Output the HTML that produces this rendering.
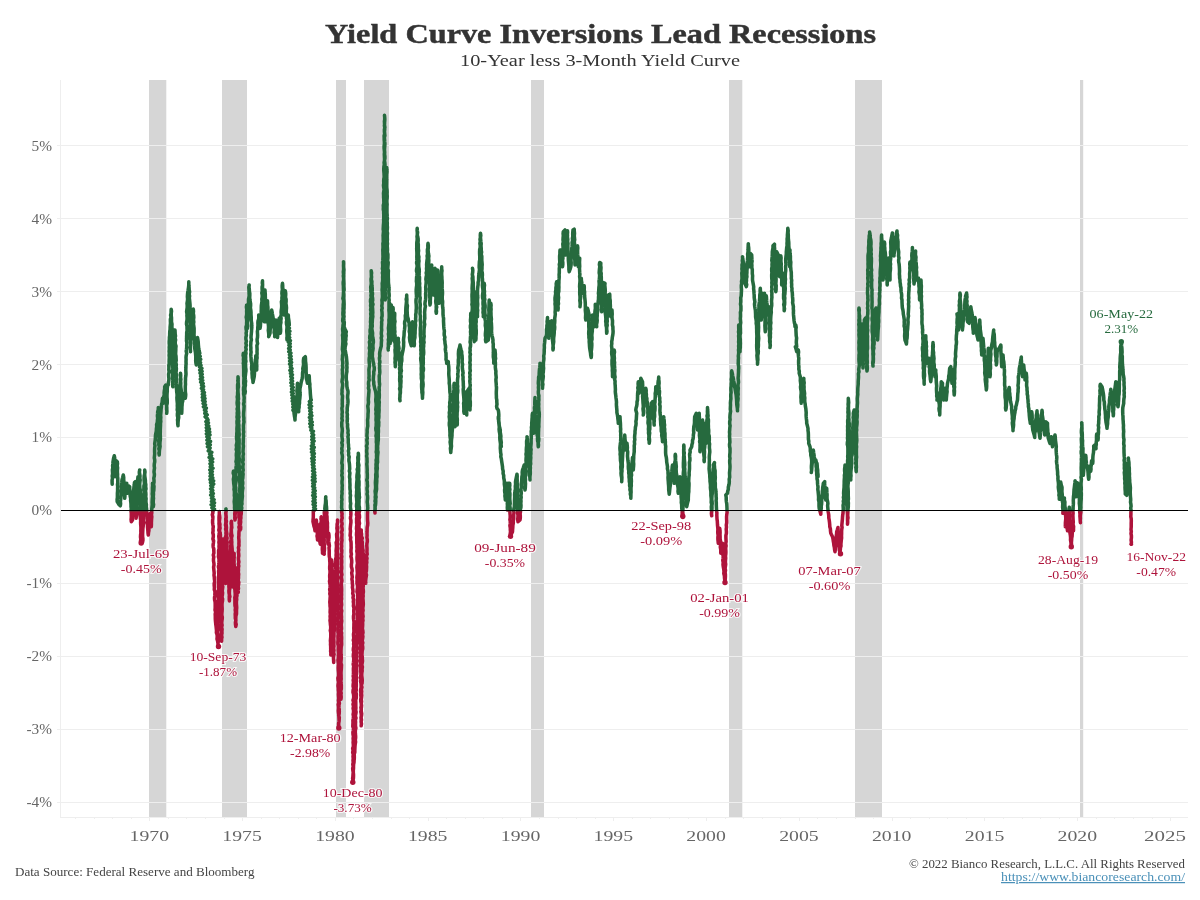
<!DOCTYPE html>
<html lang="en"><head><meta charset="utf-8"><title>Yield Curve Inversions Lead Recessions</title>
<style>html,body{margin:0;padding:0;background:#fff}svg{display:block}text{font-family:"Liberation Serif", serif}.ax{fill:#666;font-size:15.5px}.lab{font-size:12.6px;text-anchor:middle}.r{fill:#ae133b}.g{fill:#266a3e}</style></head><body>
<svg width="1200" height="900" viewBox="0 0 1200 900">
<rect width="1200" height="900" fill="#fff"/>
<g fill="#d6d6d6">
<rect x="149.0" y="80" width="17.3" height="737"/>
<rect x="222.0" y="80" width="25.0" height="737"/>
<rect x="336.0" y="80" width="10.0" height="737"/>
<rect x="364.0" y="80" width="25.0" height="737"/>
<rect x="531.0" y="80" width="13.0" height="737"/>
<rect x="729.0" y="80" width="13.3" height="737"/>
<rect x="855.0" y="80" width="27.0" height="737"/>
<rect x="1080.0" y="80" width="3.2" height="737"/>
</g>
<g stroke="#eeeeee" stroke-width="1" shape-rendering="crispEdges">
<line x1="57" y1="802.5" x2="1188" y2="802.5"/>
<line x1="57" y1="729.5" x2="1188" y2="729.5"/>
<line x1="57" y1="656.5" x2="1188" y2="656.5"/>
<line x1="57" y1="583.5" x2="1188" y2="583.5"/>
<line x1="57" y1="437.5" x2="1188" y2="437.5"/>
<line x1="57" y1="364.5" x2="1188" y2="364.5"/>
<line x1="57" y1="291.5" x2="1188" y2="291.5"/>
<line x1="57" y1="218.5" x2="1188" y2="218.5"/>
<line x1="57" y1="145.5" x2="1188" y2="145.5"/>
<line x1="60.5" y1="80" x2="60.5" y2="817"/>
<line x1="60" y1="817.5" x2="1188" y2="817.5"/>
<line x1="75.5" y1="817" x2="75.5" y2="819"/>
<line x1="94.5" y1="817" x2="94.5" y2="819"/>
<line x1="112.5" y1="817" x2="112.5" y2="819"/>
<line x1="131.5" y1="817" x2="131.5" y2="819"/>
<line x1="149.5" y1="817" x2="149.5" y2="821"/>
<line x1="168.5" y1="817" x2="168.5" y2="819"/>
<line x1="186.5" y1="817" x2="186.5" y2="819"/>
<line x1="205.5" y1="817" x2="205.5" y2="819"/>
<line x1="224.5" y1="817" x2="224.5" y2="819"/>
<line x1="242.5" y1="817" x2="242.5" y2="821"/>
<line x1="261.5" y1="817" x2="261.5" y2="819"/>
<line x1="279.5" y1="817" x2="279.5" y2="819"/>
<line x1="298.5" y1="817" x2="298.5" y2="819"/>
<line x1="316.5" y1="817" x2="316.5" y2="819"/>
<line x1="335.5" y1="817" x2="335.5" y2="821"/>
<line x1="353.5" y1="817" x2="353.5" y2="819"/>
<line x1="372.5" y1="817" x2="372.5" y2="819"/>
<line x1="391.5" y1="817" x2="391.5" y2="819"/>
<line x1="409.5" y1="817" x2="409.5" y2="819"/>
<line x1="428.5" y1="817" x2="428.5" y2="821"/>
<line x1="446.5" y1="817" x2="446.5" y2="819"/>
<line x1="465.5" y1="817" x2="465.5" y2="819"/>
<line x1="483.5" y1="817" x2="483.5" y2="819"/>
<line x1="502.5" y1="817" x2="502.5" y2="819"/>
<line x1="520.5" y1="817" x2="520.5" y2="821"/>
<line x1="539.5" y1="817" x2="539.5" y2="819"/>
<line x1="558.5" y1="817" x2="558.5" y2="819"/>
<line x1="576.5" y1="817" x2="576.5" y2="819"/>
<line x1="595.5" y1="817" x2="595.5" y2="819"/>
<line x1="613.5" y1="817" x2="613.5" y2="821"/>
<line x1="632.5" y1="817" x2="632.5" y2="819"/>
<line x1="650.5" y1="817" x2="650.5" y2="819"/>
<line x1="669.5" y1="817" x2="669.5" y2="819"/>
<line x1="688.5" y1="817" x2="688.5" y2="819"/>
<line x1="706.5" y1="817" x2="706.5" y2="821"/>
<line x1="725.5" y1="817" x2="725.5" y2="819"/>
<line x1="743.5" y1="817" x2="743.5" y2="819"/>
<line x1="762.5" y1="817" x2="762.5" y2="819"/>
<line x1="780.5" y1="817" x2="780.5" y2="819"/>
<line x1="799.5" y1="817" x2="799.5" y2="821"/>
<line x1="817.5" y1="817" x2="817.5" y2="819"/>
<line x1="836.5" y1="817" x2="836.5" y2="819"/>
<line x1="855.5" y1="817" x2="855.5" y2="819"/>
<line x1="873.5" y1="817" x2="873.5" y2="819"/>
<line x1="892.5" y1="817" x2="892.5" y2="821"/>
<line x1="910.5" y1="817" x2="910.5" y2="819"/>
<line x1="929.5" y1="817" x2="929.5" y2="819"/>
<line x1="947.5" y1="817" x2="947.5" y2="819"/>
<line x1="966.5" y1="817" x2="966.5" y2="819"/>
<line x1="984.5" y1="817" x2="984.5" y2="821"/>
<line x1="1003.5" y1="817" x2="1003.5" y2="819"/>
<line x1="1022.5" y1="817" x2="1022.5" y2="819"/>
<line x1="1040.5" y1="817" x2="1040.5" y2="819"/>
<line x1="1059.5" y1="817" x2="1059.5" y2="819"/>
<line x1="1077.5" y1="817" x2="1077.5" y2="821"/>
<line x1="1096.5" y1="817" x2="1096.5" y2="819"/>
<line x1="1114.5" y1="817" x2="1114.5" y2="819"/>
<line x1="1133.5" y1="817" x2="1133.5" y2="819"/>
<line x1="1152.5" y1="817" x2="1152.5" y2="819"/>
<line x1="1170.5" y1="817" x2="1170.5" y2="821"/>
</g>
<defs><linearGradient id="gr" gradientUnits="userSpaceOnUse" x1="0" y1="0" x2="0" y2="900"><stop offset="0" stop-color="#266a3e"/><stop offset="0.56644" stop-color="#266a3e"/><stop offset="0.56911" stop-color="#ae133b"/><stop offset="1" stop-color="#ae133b"/></linearGradient></defs>
<path d="M112.2 484.2 L112.1 482.1 L112.1 480.1 L112.5 478.0 L112.2 476.0 L112.6 473.9 L112.5 471.9 L112.4 469.8 L112.8 467.8 L112.6 465.7 L112.9 463.7 L113.0 461.7 L113.5 458.7 L114.3 455.8 L114.7 457.9 L114.6 460.0 L114.4 462.1 L115.0 464.2 L115.0 466.2 L114.9 468.3 L114.8 470.4 L115.1 472.5 L115.3 474.6 L115.3 476.7 L115.7 474.4 L115.4 472.1 L116.0 469.9 L115.8 467.6 L115.9 465.3 L116.0 463.1 L116.3 460.8 L117.3 461.7 L117.5 463.7 L117.2 465.8 L117.6 467.9 L117.4 470.0 L117.4 472.1 L117.6 474.2 L117.5 476.3 L117.8 478.3 L117.8 480.4 L117.8 482.5 L117.5 484.6 L117.7 486.7 L117.6 488.8 L117.6 491.0 L117.4 493.1 L117.4 495.2 L117.4 497.4 L117.1 499.5 L117.2 501.7 L118.7 504.2 L120.3 505.8 L120.6 503.7 L120.4 501.6 L120.7 499.4 L120.8 497.3 L121.1 495.2 L121.1 493.1 L121.0 490.9 L121.5 488.8 L121.3 486.7 L121.4 484.4 L121.8 482.2 L122.0 480.0 L122.7 477.5 L123.3 475.0 L123.7 477.3 L123.7 479.7 L124.0 482.0 L123.9 484.3 L124.2 486.7 L124.1 489.0 L124.3 491.3 L124.3 493.7 L124.6 496.0 L124.7 498.3 L124.9 496.3 L124.9 494.3 L125.0 492.3 L125.0 490.2 L125.3 488.2 L125.5 486.2 L125.3 484.2 L126.7 483.3 L126.8 485.3 L126.9 487.3 L127.3 489.3 L127.3 491.3 L127.5 493.3 L127.8 490.8 L128.2 488.4 L128.3 485.8 L129.7 486.7 L129.7 488.7 L130.0 490.7 L130.1 492.7 L130.1 494.7 L130.3 496.7 L130.7 498.7 L130.6 500.7 L130.9 502.7 L131.0 504.7 L131.0 506.7 L131.3 508.8 L131.0 511.0 L131.3 513.1 L131.3 515.2 L131.3 517.4 L131.1 519.5 L131.3 521.7 L132.5 520.0 L132.3 517.9 L132.6 515.8 L132.7 513.8 L133.0 511.7 L133.0 509.6 L133.1 507.5 L132.9 505.4 L133.0 503.3 L133.0 501.2 L133.4 499.2 L133.5 497.1 L133.3 495.0 L133.4 492.9 L133.6 490.8 L133.8 488.7 L134.0 486.7 L134.3 484.6 L134.5 482.5 L135.3 481.7 L135.3 483.7 L135.5 485.7 L135.7 487.8 L135.5 489.8 L135.6 491.9 L135.5 493.9 L135.3 495.9 L135.5 498.0 L135.7 500.0 L135.6 502.0 L135.6 504.1 L136.0 506.1 L135.6 508.2 L135.7 510.2 L135.7 512.2 L135.7 514.3 L136.0 516.3 L136.0 518.3 L136.5 515.8 L137.0 513.3 L136.8 511.3 L137.2 509.3 L136.9 507.2 L137.0 505.2 L137.1 503.1 L137.1 501.1 L137.3 499.1 L137.2 497.0 L137.2 495.0 L137.3 493.0 L137.4 490.9 L137.6 488.9 L137.4 486.8 L138.0 484.8 L137.9 482.8 L137.7 480.7 L137.8 478.7 L138.0 476.7 L138.3 478.9 L138.5 481.1 L138.8 483.3 L138.6 485.6 L138.7 487.8 L139.2 490.0 L139.2 488.0 L139.3 486.0 L139.1 484.0 L139.1 482.0 L139.3 480.0 L139.3 478.0 L139.7 476.0 L139.4 474.0 L139.3 472.0 L139.7 470.0 L139.4 472.0 L139.7 474.0 L140.0 476.0 L139.8 478.0 L140.2 480.0 L139.9 482.0 L139.7 484.0 L139.8 486.0 L139.9 488.0 L140.3 490.0 L140.2 492.0 L140.4 494.0 L140.1 496.0 L140.3 498.0 L140.3 500.0 L140.2 502.1 L140.5 504.1 L140.6 506.2 L140.2 508.3 L140.2 510.3 L140.3 512.4 L140.3 514.4 L140.3 516.5 L140.4 518.6 L140.7 520.6 L140.6 522.7 L140.7 524.8 L140.9 526.8 L140.9 528.9 L140.8 531.0 L140.9 533.0 L140.6 535.1 L140.5 537.1 L140.8 539.2 L140.5 541.3 L140.8 543.3 L142.5 542.5 L142.9 540.5 L142.9 538.4 L142.6 536.4 L142.6 534.3 L142.7 532.3 L142.8 530.2 L142.9 528.2 L143.2 526.1 L143.4 524.1 L143.5 522.1 L143.3 520.0 L143.4 518.0 L143.5 516.0 L143.6 514.0 L143.2 512.0 L143.6 510.0 L143.8 508.0 L143.7 506.0 L143.8 504.0 L143.6 502.0 L143.5 500.0 L143.9 498.0 L143.6 496.0 L143.9 494.0 L144.1 492.0 L143.8 490.0 L143.9 488.0 L143.9 486.0 L144.4 484.0 L144.3 482.0 L144.1 480.0 L144.1 478.0 L144.2 476.0 L144.7 474.0 L144.8 472.0 L144.7 470.0 L145.0 472.1 L144.7 474.2 L144.8 476.3 L145.1 478.3 L145.4 480.4 L145.4 482.5 L145.8 484.6 L145.7 486.7 L146.0 488.7 L145.5 490.7 L145.8 492.7 L145.9 494.7 L145.7 496.7 L146.1 498.7 L145.9 500.7 L146.0 502.7 L146.4 504.7 L146.3 506.7 L146.6 508.7 L146.7 510.7 L146.8 512.7 L146.7 514.7 L147.1 516.7 L147.1 518.7 L147.4 520.7 L147.0 522.7 L147.5 524.7 L147.5 526.7 L147.7 528.7 L147.9 530.8 L148.0 532.9 L148.3 535.0 L148.5 532.8 L148.9 530.6 L148.9 528.3 L149.1 526.1 L149.3 523.9 L149.5 521.7 L149.5 519.6 L149.9 517.5 L150.0 515.4 L150.3 513.3 L150.7 515.5 L150.5 517.8 L151.0 520.0 L151.0 522.2 L151.1 524.5 L151.3 526.7 L151.4 524.7 L151.4 522.7 L151.5 520.7 L151.6 518.7 L151.8 516.7 L151.5 514.7 L151.8 512.7 L151.7 510.7 L151.8 508.7 L152.0 506.7 L152.2 504.5 L152.1 502.4 L152.2 500.3 L152.3 498.2 L152.5 496.1 L152.2 493.9 L152.4 491.8 L152.4 489.7 L152.4 487.6 L152.6 485.5 L152.5 483.3 L152.6 485.5 L152.6 487.6 L152.7 489.7 L152.5 491.8 L152.8 493.9 L152.7 496.1 L152.8 498.2 L153.3 500.3 L153.1 502.4 L153.0 504.6 L153.3 506.7 L153.6 504.6 L153.2 502.6 L153.2 500.6 L153.5 498.5 L153.3 496.5 L153.5 494.4 L153.4 492.4 L153.8 490.4 L153.9 488.3 L154.0 486.3 L153.6 484.3 L154.0 482.2 L154.0 480.2 L153.8 478.1 L154.3 476.1 L154.4 474.1 L154.0 472.0 L154.2 470.0 L154.5 468.0 L154.2 466.0 L154.3 463.9 L154.7 461.9 L154.7 459.9 L154.3 457.9 L154.5 455.8 L154.7 453.8 L154.6 451.8 L154.6 449.8 L154.7 447.7 L155.0 445.7 L154.7 443.7 L155.0 441.7 L155.3 439.5 L155.4 437.4 L155.5 435.2 L155.9 433.1 L156.3 431.0 L156.4 428.8 L156.7 426.7 L156.6 424.5 L157.3 422.4 L157.4 420.3 L157.7 418.2 L157.4 416.0 L157.6 413.9 L157.7 411.7 L158.3 409.6 L158.3 407.5 L158.5 409.6 L158.6 411.6 L158.5 413.7 L158.2 415.8 L158.3 417.8 L158.7 419.9 L158.8 422.0 L158.4 424.0 L158.6 426.1 L158.6 428.2 L159.0 430.2 L159.0 432.3 L158.7 434.3 L158.9 436.4 L159.1 438.5 L158.7 440.5 L158.9 442.6 L158.8 444.7 L159.3 446.7 L158.8 448.8 L159.4 450.9 L158.9 452.9 L159.2 455.0 L159.3 452.9 L159.4 450.7 L159.7 448.6 L160.1 446.4 L159.9 444.3 L160.0 442.1 L160.3 440.0 L160.4 437.9 L160.3 435.9 L160.2 433.8 L160.3 431.8 L160.3 429.7 L160.4 427.7 L160.5 425.6 L160.5 423.6 L160.8 421.5 L160.6 419.5 L160.8 417.4 L160.6 415.4 L160.8 413.3 L161.0 411.2 L161.1 409.0 L161.4 406.9 L161.5 404.7 L162.1 402.6 L162.3 400.5 L162.5 398.3 L163.0 400.8 L163.3 403.3 L163.5 401.2 L163.9 399.2 L163.6 397.1 L164.2 395.0 L164.1 392.9 L164.3 390.8 L164.7 388.8 L164.7 386.7 L165.8 385.0 L166.0 387.0 L165.9 389.0 L165.9 391.1 L165.8 393.1 L166.2 395.1 L166.0 397.1 L166.1 399.2 L166.2 401.2 L166.4 403.2 L166.5 405.2 L166.8 407.3 L166.8 409.3 L166.9 411.3 L166.7 413.3 L166.9 411.3 L166.6 409.3 L166.6 407.3 L166.7 405.2 L167.2 403.2 L167.2 401.2 L167.2 399.2 L167.0 397.1 L167.0 395.1 L167.1 393.1 L167.3 391.1 L167.2 389.0 L167.4 387.0 L167.5 385.0 L168.3 385.0 L168.3 382.8 L168.8 380.7 L168.9 378.5 L168.7 376.3 L168.6 374.2 L169.1 372.0 L168.8 369.8 L168.9 367.7 L168.8 365.5 L169.2 363.3 L169.1 361.3 L169.2 359.3 L169.3 357.3 L169.1 355.3 L169.3 353.3 L169.1 351.3 L169.3 349.3 L169.2 347.3 L169.4 345.3 L169.2 343.3 L169.2 341.3 L169.4 339.3 L169.4 337.3 L169.7 335.3 L169.7 333.3 L169.8 331.3 L170.1 329.3 L170.1 327.3 L170.3 325.3 L170.5 323.3 L170.4 321.2 L170.4 319.2 L171.0 317.2 L170.6 315.2 L171.1 313.2 L171.1 311.2 L171.2 309.2 L171.5 311.3 L171.2 313.4 L171.2 315.6 L171.5 317.7 L171.5 319.8 L171.5 322.0 L172.0 324.1 L171.9 326.2 L172.0 328.3 L172.0 330.3 L171.9 332.4 L171.9 334.4 L171.9 336.4 L172.1 338.4 L171.9 340.4 L172.1 342.4 L172.1 344.4 L172.4 346.4 L172.6 348.4 L172.5 350.5 L172.4 352.5 L172.6 354.5 L172.2 356.5 L172.4 358.5 L172.4 360.5 L172.4 362.5 L172.4 364.5 L172.6 366.6 L172.9 368.6 L172.4 370.6 L172.5 372.6 L172.7 374.6 L172.7 376.6 L172.6 378.6 L173.0 380.6 L172.6 382.6 L173.0 384.7 L172.8 386.7 L172.6 384.6 L172.7 382.6 L173.0 380.6 L172.7 378.6 L173.1 376.5 L173.2 374.5 L173.0 372.5 L172.9 370.5 L173.0 368.5 L173.1 366.4 L173.2 364.4 L173.1 362.4 L173.2 360.4 L172.8 358.3 L172.9 356.3 L173.0 354.3 L173.3 352.3 L173.0 350.2 L173.2 348.2 L172.9 346.2 L172.9 344.2 L173.1 342.1 L173.3 340.1 L173.4 338.1 L173.4 336.1 L173.2 334.0 L173.3 332.0 L173.3 330.0 L175.0 330.0 L175.1 332.0 L175.2 334.0 L175.5 336.0 L175.1 338.0 L175.6 340.0 L175.2 342.0 L175.3 344.0 L176.0 346.0 L175.8 348.0 L175.8 350.0 L175.7 352.1 L175.6 354.2 L176.0 356.2 L176.1 358.3 L176.2 360.4 L175.8 362.5 L176.3 364.6 L176.1 366.7 L176.4 368.7 L176.2 370.8 L176.0 372.9 L176.6 375.0 L176.2 377.1 L176.4 379.2 L176.2 381.3 L176.4 383.3 L176.7 385.4 L176.3 387.5 L176.6 389.6 L176.7 391.7 L177.0 393.7 L177.1 395.7 L176.9 397.7 L177.0 399.7 L177.2 401.7 L177.4 403.7 L177.3 405.7 L177.4 407.7 L177.2 409.8 L177.7 411.8 L177.4 413.8 L177.4 415.8 L177.9 417.8 L177.5 419.8 L177.7 421.8 L177.7 423.8 L178.0 425.8 L178.0 423.8 L178.1 421.7 L178.3 419.7 L178.7 417.7 L178.6 415.6 L178.6 413.6 L178.7 411.5 L178.7 409.5 L178.7 407.4 L178.8 405.4 L179.2 403.3 L179.5 401.3 L179.2 399.3 L179.7 397.3 L179.4 395.3 L179.5 393.3 L179.7 391.3 L179.6 389.3 L179.8 387.3 L180.2 385.3 L180.3 383.3 L180.3 381.3 L180.3 379.3 L180.6 377.3 L180.7 375.3 L180.5 373.3 L180.5 375.3 L180.5 377.3 L180.9 379.3 L180.6 381.3 L180.8 383.3 L180.7 385.3 L180.8 387.3 L181.1 389.3 L181.3 391.3 L180.8 393.3 L181.4 395.3 L181.2 397.3 L181.4 399.3 L181.4 401.3 L181.2 403.3 L181.1 405.3 L181.6 407.3 L181.5 409.3 L181.7 411.3 L181.7 413.3 L181.8 411.3 L181.9 409.2 L181.9 407.1 L182.1 405.0 L182.2 402.9 L182.8 400.8 L182.7 398.7 L182.8 396.7 L184.2 393.3 L184.8 395.8 L185.3 398.3 L185.6 396.3 L185.7 394.3 L185.4 392.3 L185.3 390.2 L185.3 388.2 L185.3 386.2 L185.5 384.2 L185.4 382.1 L185.5 380.1 L185.5 378.1 L185.8 376.1 L186.0 374.1 L185.9 372.0 L185.8 370.0 L185.9 367.9 L185.9 365.8 L186.1 363.8 L186.0 361.7 L186.1 359.6 L186.0 357.5 L186.2 355.4 L186.7 353.3 L186.2 351.2 L186.5 349.2 L186.7 347.1 L186.7 345.0 L186.9 342.9 L186.5 340.8 L186.6 338.7 L186.6 336.7 L186.7 334.6 L186.7 332.5 L187.1 330.4 L187.0 328.3 L187.0 326.3 L186.5 324.2 L186.6 322.1 L187.0 320.0 L187.1 317.9 L186.9 315.8 L187.0 313.8 L186.6 311.7 L186.9 309.6 L187.2 307.5 L187.2 305.4 L187.0 303.3 L187.4 301.2 L187.6 299.0 L187.4 296.8 L187.5 294.6 L187.7 292.5 L188.1 290.3 L188.4 288.2 L188.7 286.0 L188.8 283.8 L188.8 281.7 L188.8 283.7 L188.9 285.8 L189.1 287.8 L189.2 289.9 L189.6 291.9 L189.2 294.0 L189.6 296.0 L189.3 298.1 L189.6 300.1 L189.8 302.2 L190.0 304.2 L190.1 306.3 L190.0 308.3 L189.9 310.4 L189.9 312.5 L190.3 314.5 L190.4 316.6 L190.1 318.7 L190.1 320.7 L190.2 322.8 L190.4 324.8 L190.2 326.9 L190.5 329.0 L190.4 331.0 L190.3 333.1 L190.0 335.2 L190.2 337.2 L190.1 339.3 L190.4 341.3 L190.6 343.4 L190.6 345.5 L190.2 347.5 L190.4 349.6 L190.5 351.7 L190.4 349.6 L190.3 347.5 L190.7 345.4 L190.8 343.3 L190.7 341.2 L190.7 339.2 L191.0 337.1 L191.2 335.0 L190.9 332.9 L190.8 330.8 L191.0 328.7 L191.2 326.7 L191.4 324.6 L191.1 322.5 L191.6 320.4 L191.6 318.3 L191.5 316.3 L191.4 314.2 L191.9 312.1 L191.7 310.0 L193.3 309.2 L193.5 311.3 L193.3 313.4 L193.7 315.5 L193.8 317.6 L193.5 319.7 L193.8 321.9 L193.5 324.0 L193.8 326.1 L194.1 328.2 L194.1 330.3 L194.1 332.4 L194.0 334.6 L194.2 336.7 L194.1 338.9 L194.6 341.1 L194.6 343.3 L194.9 345.5 L194.6 347.8 L195.0 350.0 L195.4 352.1 L195.6 354.3 L195.8 356.4 L195.8 358.6 L195.7 360.7 L195.9 362.9 L196.3 365.0 L196.6 362.9 L196.8 360.8 L196.9 358.7 L196.6 356.5 L196.6 354.4 L197.1 352.3 L197.1 350.2 L196.8 348.1 L197.2 346.0 L197.2 343.8 L197.2 341.7 L197.3 339.6 L197.5 337.5 L197.9 339.7 L198.2 341.8 L198.3 344.0 L198.5 346.2 L198.7 348.3 L199.1 350.8 L199.8 353.3 L198.1 355.0 L200.2 356.3 L198.4 358.0 L200.7 359.3 L199.1 361.0 L200.5 362.4 L198.8 364.1 L201.0 365.4 L199.6 367.0 L201.9 368.3 L199.7 370.1 L202.1 371.4 L200.0 373.1 L202.2 374.4 L200.6 376.1 L202.5 377.5 L200.3 379.2 L202.7 380.5 L200.7 382.2 L203.2 383.5 L201.6 385.2 L203.6 386.5 L201.4 388.3 L203.5 389.6 L202.3 391.3 L204.4 392.6 L202.3 394.4 L204.6 395.6 L202.3 397.4 L205.0 398.6 L202.6 400.5 L205.1 401.7 L203.1 403.5 L205.5 404.9 L203.4 406.8 L206.3 408.2 L204.5 410.1 L206.1 411.6 L204.8 413.4 L207.2 414.8 L205.1 416.8 L207.4 418.6 L206.7 420.8 L206.8 420.8 L208.0 419.9 L205.9 421.6 L208.4 422.9 L206.3 424.6 L208.8 426.0 L206.3 427.7 L209.4 429.0 L206.4 430.7 L209.7 432.0 L206.4 433.8 L210.0 435.0 L206.9 436.8 L209.3 438.3 L206.9 440.1 L210.5 441.5 L207.1 443.5 L210.3 444.9 L207.5 446.8 L210.1 448.0 L208.3 450.9 L211.8 452.4 L209.6 454.1 L211.5 455.6 L209.1 457.4 L212.7 458.8 L210.1 460.5 L212.6 462.0 L210.0 463.7 L212.1 465.2 L210.3 466.9 L213.0 468.3 L209.8 470.0 L212.3 471.5 L210.2 473.2 L212.4 474.7 L210.1 476.3 L212.8 477.8 L210.0 479.5 L213.6 480.9 L210.5 482.6 L213.7 484.1 L210.8 485.7 L212.7 487.2 L210.6 488.9 L212.8 490.4 L211.1 492.0 L213.3 493.5 L210.7 495.1 L213.0 496.6 L211.5 498.3 L214.1 499.7 L211.5 501.5 L214.5 502.8 L211.1 504.7 L214.1 506.0 L211.9 507.8 L214.5 509.2 L213.3 510.8 L212.6 510.7 L212.9 512.7 L212.3 514.7 L212.9 516.7 L212.8 518.7 L212.6 520.7 L212.6 522.8 L212.9 524.8 L213.3 526.8 L213.0 528.8 L213.1 530.8 L212.8 532.8 L213.3 534.8 L213.3 536.8 L212.9 538.9 L213.6 540.9 L213.4 542.9 L213.1 544.9 L213.2 546.9 L213.8 548.9 L213.8 550.9 L213.9 553.0 L213.3 555.0 L213.8 557.0 L213.5 559.0 L213.5 561.0 L213.9 563.0 L214.0 565.0 L213.6 567.1 L213.8 569.1 L214.0 571.1 L214.2 573.1 L214.0 575.2 L214.3 577.2 L214.4 579.3 L214.7 581.3 L214.2 583.4 L214.2 585.4 L214.4 587.5 L214.3 589.6 L215.0 591.6 L214.9 593.6 L214.8 595.7 L214.5 597.8 L214.6 599.8 L215.1 601.8 L215.2 603.9 L215.2 605.9 L215.2 608.0 L215.0 610.1 L215.6 612.1 L215.2 614.2 L215.3 616.2 L215.3 618.3 L215.4 620.3 L215.6 622.4 L215.8 624.4 L216.1 626.5 L216.3 628.5 L216.5 630.6 L216.4 632.7 L217.1 634.7 L217.2 636.8 L217.0 638.9 L217.6 640.9 L217.9 643.0 L218.2 645.0 L218.1 647.1 L218.1 645.1 L218.0 643.1 L218.4 641.1 L218.4 639.1 L218.5 637.1 L218.0 635.1 L217.9 633.1 L217.9 631.1 L218.2 629.1 L218.4 627.1 L218.2 625.1 L218.0 623.1 L218.2 621.1 L218.3 619.1 L218.4 617.1 L218.5 615.1 L218.5 613.1 L218.4 611.1 L218.1 609.1 L218.6 607.1 L218.2 605.1 L218.4 603.1 L218.3 601.1 L218.6 599.1 L218.2 597.1 L218.3 595.1 L218.3 593.1 L218.2 591.1 L218.7 589.1 L218.5 587.1 L218.4 585.1 L218.4 583.1 L218.9 581.1 L218.5 579.1 L218.4 577.1 L218.8 575.1 L218.7 573.1 L218.6 571.1 L219.0 569.0 L218.4 567.0 L218.7 564.9 L218.9 562.9 L219.0 560.8 L219.0 558.8 L218.4 556.7 L218.6 554.7 L218.6 552.6 L218.6 550.6 L219.2 548.5 L219.0 546.5 L219.2 544.4 L218.9 542.3 L219.2 540.3 L219.0 538.2 L218.8 536.2 L219.2 534.1 L219.4 532.1 L218.8 530.0 L219.2 528.0 L219.2 525.9 L219.0 523.9 L219.1 521.8 L219.0 519.8 L219.0 517.7 L219.1 515.7 L219.4 513.6 L219.3 511.6 L219.3 513.6 L219.7 515.7 L219.9 517.8 L219.7 519.9 L219.5 522.0 L220.0 524.1 L219.9 526.2 L220.1 528.2 L219.7 530.4 L220.0 532.4 L220.4 534.5 L220.4 536.6 L220.3 538.7 L220.3 540.8 L220.3 542.9 L220.7 545.0 L220.8 547.0 L220.5 549.1 L220.7 551.2 L220.7 553.3 L220.9 555.4 L220.9 557.4 L220.5 559.5 L220.9 561.5 L220.8 563.5 L221.0 565.6 L220.9 567.6 L220.6 569.7 L220.6 571.7 L221.0 573.8 L221.2 575.8 L220.8 577.9 L221.2 579.9 L221.4 582.0 L220.8 584.0 L221.1 586.0 L220.9 588.1 L221.2 590.1 L220.9 592.2 L221.2 594.2 L221.4 596.3 L221.5 598.3 L221.2 600.4 L221.1 602.4 L221.0 604.5 L221.6 606.5 L221.2 608.6 L221.4 610.6 L221.3 612.6 L221.6 614.7 L221.5 616.7 L221.4 618.8 L221.1 620.8 L221.7 622.9 L221.5 624.9 L221.3 627.0 L221.2 629.0 L221.7 631.1 L221.8 633.1 L221.2 635.1 L221.2 637.2 L221.6 639.2 L221.6 641.3 L221.3 639.3 L222.0 637.3 L221.6 635.2 L222.0 633.2 L221.9 631.2 L222.1 629.2 L221.6 627.2 L222.1 625.2 L221.7 623.1 L221.9 621.1 L222.2 619.1 L222.3 617.1 L221.8 615.1 L221.9 613.1 L222.1 611.0 L222.2 609.0 L222.1 607.0 L222.0 605.0 L222.1 603.0 L222.5 601.0 L222.6 598.9 L222.0 596.9 L222.4 594.9 L222.6 592.9 L222.2 590.9 L222.5 588.9 L222.8 586.8 L222.3 584.7 L222.6 582.6 L222.6 580.6 L222.7 578.5 L222.5 576.4 L222.6 574.3 L222.7 572.3 L222.6 570.2 L222.8 568.1 L222.6 566.1 L222.6 564.0 L222.4 561.9 L222.8 559.8 L222.7 557.8 L222.6 555.7 L222.9 553.6 L223.0 551.5 L222.8 549.5 L222.6 547.4 L222.8 545.3 L222.6 543.2 L222.6 541.2 L222.9 539.1 L223.0 541.1 L223.4 543.1 L223.3 545.2 L223.3 547.2 L223.8 549.2 L223.5 551.2 L224.0 553.2 L223.7 555.3 L223.8 557.3 L224.1 559.3 L224.5 561.3 L224.3 563.3 L224.5 565.3 L224.2 567.4 L224.9 569.4 L224.6 571.4 L224.6 573.4 L224.9 575.5 L224.9 577.5 L225.5 579.5 L225.1 581.5 L225.5 583.5 L225.5 581.5 L225.9 579.5 L225.8 577.5 L225.3 575.5 L225.8 573.4 L225.9 571.4 L225.3 569.4 L225.5 567.4 L225.8 565.4 L225.4 563.4 L225.9 561.3 L225.5 559.3 L225.9 557.3 L225.4 555.3 L225.7 553.3 L226.0 551.3 L225.5 549.2 L225.5 547.2 L225.7 545.2 L225.6 543.2 L225.4 541.2 L225.5 539.1 L225.5 537.1 L226.1 535.1 L225.9 533.1 L226.1 531.1 L225.6 529.1 L226.0 527.0 L225.5 525.0 L225.8 523.0 L225.9 521.0 L225.7 519.0 L226.1 517.0 L225.9 514.9 L225.9 512.9 L226.1 510.9 L225.9 508.9 L226.2 511.0 L225.7 513.1 L226.0 515.2 L226.2 517.2 L226.0 519.3 L226.4 521.4 L226.0 523.5 L226.3 525.6 L226.5 527.7 L226.3 529.8 L226.6 531.9 L226.9 534.0 L226.5 536.1 L227.1 538.1 L226.6 540.3 L227.1 542.3 L227.0 544.4 L226.9 546.4 L226.8 548.5 L227.1 550.5 L227.2 552.5 L227.5 554.5 L227.8 556.5 L227.9 558.5 L227.9 560.5 L227.6 562.6 L227.8 564.6 L227.9 566.6 L227.7 568.6 L228.3 570.6 L228.3 572.6 L228.2 574.6 L228.2 576.7 L228.7 578.7 L228.8 580.7 L228.7 582.7 L228.9 584.7 L228.9 586.8 L229.1 588.8 L228.9 590.8 L229.0 592.9 L229.4 594.9 L229.2 596.9 L229.4 598.9 L229.4 600.9 L229.2 598.8 L229.9 596.7 L229.4 594.5 L229.4 592.4 L229.5 590.3 L229.9 588.1 L230.1 586.0 L230.1 583.9 L229.9 581.7 L229.9 579.6 L229.8 577.5 L230.3 575.4 L230.3 573.2 L230.3 571.1 L230.3 569.0 L230.5 566.9 L230.4 564.9 L230.8 562.8 L230.7 560.7 L230.4 558.6 L230.9 556.6 L230.4 554.5 L230.7 552.4 L230.7 550.4 L230.6 548.3 L230.6 546.2 L231.1 544.1 L230.6 542.1 L231.0 540.0 L231.3 537.9 L230.8 535.8 L230.9 533.8 L231.2 531.7 L231.2 529.6 L231.4 527.5 L231.5 525.5 L231.1 523.4 L231.4 521.3 L231.6 523.4 L231.6 525.5 L231.8 527.5 L231.3 529.6 L231.4 531.7 L231.5 533.8 L232.0 535.8 L231.5 537.9 L231.6 540.0 L231.8 542.1 L231.7 544.1 L231.9 546.2 L232.1 548.3 L232.2 550.3 L232.2 552.4 L232.3 554.5 L232.2 556.6 L232.1 558.6 L232.0 560.7 L232.1 562.7 L232.1 564.7 L232.3 566.8 L232.6 568.8 L232.5 570.8 L232.7 572.9 L232.5 574.9 L232.8 576.9 L233.0 578.9 L232.8 581.0 L232.7 583.0 L233.3 585.0 L233.2 587.1 L233.5 585.0 L232.9 582.9 L233.2 580.7 L233.2 578.6 L233.6 576.5 L233.8 574.4 L233.7 572.3 L233.5 570.2 L233.9 568.1 L233.6 566.0 L233.6 563.9 L234.1 561.8 L234.0 559.6 L234.1 557.5 L234.1 555.4 L234.1 553.3 L233.8 555.3 L234.2 557.3 L233.9 559.3 L234.1 561.4 L234.0 563.4 L234.3 565.4 L234.2 567.4 L234.3 569.4 L234.5 571.4 L234.6 573.4 L234.4 575.4 L234.8 577.4 L234.3 579.4 L234.8 581.4 L235.0 583.4 L235.0 585.5 L234.4 587.5 L234.9 589.5 L235.0 591.5 L235.2 593.5 L235.2 595.5 L234.8 597.5 L234.9 599.5 L234.9 601.6 L234.9 603.7 L235.0 605.8 L235.5 607.8 L235.2 609.9 L235.5 612.0 L235.2 614.1 L235.3 616.2 L235.3 618.2 L235.9 620.3 L235.4 622.4 L235.5 624.5 L235.8 626.5 L236.2 624.5 L235.7 622.4 L235.8 620.3 L235.8 618.2 L235.9 616.1 L236.5 614.1 L236.5 612.0 L236.5 609.9 L236.7 607.8 L236.6 605.8 L236.4 603.7 L236.4 601.6 L236.7 599.5 L236.5 597.5 L237.0 595.5 L236.7 593.5 L236.8 591.5 L236.9 589.5 L236.7 587.5 L236.9 585.5 L237.0 583.5 L237.4 581.5 L237.2 579.5 L237.2 577.5 L237.7 575.5 L237.4 573.5 L237.7 571.5 L237.6 569.5 L237.6 567.5 L238.0 569.6 L237.8 571.7 L237.8 573.8 L237.7 575.8 L238.0 577.9 L237.8 580.0 L238.0 582.0 L238.3 584.1 L237.9 586.2 L238.5 588.3 L238.0 590.3 L238.3 592.4 L238.1 590.4 L238.0 588.3 L238.2 586.3 L238.6 584.3 L238.8 582.3 L238.1 580.2 L238.5 578.2 L238.5 576.2 L238.7 574.1 L238.3 572.1 L238.5 570.1 L238.4 568.0 L238.8 566.0 L238.4 564.0 L238.9 561.9 L238.5 559.9 L238.4 557.9 L238.8 555.9 L238.7 553.8 L238.4 551.8 L238.8 549.8 L238.4 547.7 L239.0 545.7 L238.9 543.7 L239.0 541.6 L238.9 539.6 L238.7 537.6 L238.9 535.5 L238.9 533.5 L239.0 531.4 L239.4 529.3 L238.9 527.2 L239.6 525.2 L239.1 523.1 L239.3 521.0 L239.4 518.9 L239.9 516.9 L239.7 514.8 L239.8 512.7 L239.9 510.7 L239.7 512.7 L240.3 514.8 L240.2 516.9 L240.2 519.0 L240.1 521.0 L240.2 523.1 L240.4 525.2 L240.7 527.2 L240.6 529.3 L240.3 527.3 L239.9 525.3 L240.1 523.3 L239.8 521.3 L239.6 519.2 L238.9 517.3 L238.9 515.3 L238.9 513.2 L238.5 511.2 L237.9 509.2 L237.9 507.2 L237.9 505.2 L237.3 503.2 L237.0 501.2 L236.8 499.2 L236.8 497.1 L236.7 495.1 L236.0 493.2 L235.7 491.1 L235.5 489.1 L235.3 487.1 L235.2 485.1 L234.7 483.1 L234.6 481.1 L234.3 479.1 L234.6 477.0 L234.2 475.0 L233.5 473.0 L233.5 471.0 L233.2 473.1 L233.9 475.1 L233.8 477.1 L233.4 479.2 L233.6 481.2 L233.7 483.3 L234.0 485.3 L234.2 487.3 L234.0 489.4 L234.4 491.4 L234.4 493.5 L234.3 495.5 L234.6 497.5 L234.4 499.6 L234.2 501.6 L234.4 503.7 L234.6 505.7 L234.5 507.8 L234.7 509.8 L235.0 511.8 L234.7 513.9 L234.9 515.9 L234.8 518.0 L235.0 520.0 L235.3 518.0 L235.0 516.0 L235.2 513.9 L235.3 511.9 L235.2 509.9 L235.1 507.9 L235.5 505.9 L235.6 503.9 L235.6 501.8 L235.6 499.8 L235.7 497.8 L235.6 495.8 L235.6 493.8 L235.6 491.7 L235.5 489.7 L235.8 487.7 L235.4 485.7 L235.7 483.7 L236.0 481.7 L236.0 479.6 L236.0 477.6 L235.8 475.6 L235.9 473.6 L236.0 471.6 L236.1 469.5 L236.0 467.5 L236.3 465.5 L236.5 463.5 L236.0 461.5 L236.4 459.5 L236.5 457.4 L236.3 455.4 L236.4 453.4 L236.8 451.4 L236.2 449.4 L236.6 447.3 L236.3 445.3 L236.8 443.3 L237.0 441.3 L236.7 439.3 L236.5 437.2 L236.8 435.2 L236.8 433.2 L237.0 431.2 L236.9 429.2 L237.0 427.2 L237.2 425.1 L237.0 423.1 L237.0 421.1 L237.4 419.1 L237.0 417.1 L237.3 415.1 L237.2 413.0 L237.5 411.0 L237.1 409.0 L237.7 407.0 L237.3 405.0 L237.1 402.9 L237.3 400.9 L237.5 398.9 L237.2 396.9 L237.6 394.9 L237.6 392.8 L237.8 390.8 L237.6 388.8 L237.6 386.8 L237.6 384.8 L238.0 382.8 L238.2 380.7 L238.0 378.7 L238.0 376.7 L238.2 378.7 L237.8 380.7 L238.2 382.8 L238.3 384.8 L238.4 386.8 L238.0 388.8 L238.0 390.8 L238.1 392.8 L238.3 394.9 L238.3 396.9 L238.5 398.9 L238.0 400.9 L238.5 402.9 L238.3 404.9 L238.2 407.0 L238.3 409.0 L238.5 411.0 L238.7 413.0 L238.5 415.0 L238.9 417.0 L238.4 419.1 L238.8 421.1 L238.5 423.1 L238.9 425.1 L238.8 427.1 L239.0 429.1 L238.9 431.2 L239.1 433.2 L239.2 435.2 L238.8 437.2 L239.1 439.2 L239.1 441.2 L239.1 443.3 L239.0 445.3 L239.1 447.3 L239.0 449.3 L239.0 451.3 L239.2 453.3 L238.9 455.4 L239.0 457.4 L239.6 459.4 L239.0 461.4 L239.0 463.4 L239.1 465.5 L239.6 467.5 L239.2 469.5 L239.3 471.5 L239.8 473.5 L239.8 475.5 L239.2 477.6 L239.4 479.6 L239.7 481.6 L239.9 483.6 L239.9 485.6 L239.9 487.6 L239.5 489.7 L239.8 491.7 L240.0 493.7 L239.5 495.7 L239.6 497.7 L240.1 499.7 L239.6 501.8 L239.8 503.8 L239.7 505.8 L239.8 507.8 L239.7 509.8 L239.8 511.8 L239.8 513.9 L240.3 515.9 L240.0 517.9 L240.1 519.9 L240.0 521.9 L240.3 523.9 L240.0 526.0 L240.2 528.0 L240.3 530.0 L240.2 528.0 L240.3 526.0 L240.4 524.0 L240.7 522.0 L240.5 520.0 L240.9 518.0 L240.8 516.0 L241.2 514.0 L241.3 512.0 L241.4 510.0 L241.8 508.0 L241.3 506.0 L242.0 504.0 L241.8 502.0 L242.0 500.0 L242.2 498.0 L242.4 496.0 L242.2 494.0 L242.3 492.0 L242.5 490.0 L242.9 488.0 L242.3 486.0 L242.7 484.0 L242.7 482.0 L242.3 480.0 L242.8 478.0 L242.9 476.0 L243.1 474.0 L242.7 472.0 L243.2 470.0 L242.9 468.0 L242.9 466.0 L243.2 464.0 L242.6 462.0 L243.2 460.0 L243.1 458.0 L243.0 456.0 L243.4 454.0 L243.0 452.0 L243.1 450.0 L243.2 448.0 L243.4 446.0 L243.1 444.0 L243.3 442.0 L243.3 440.0 L243.4 438.0 L243.6 436.0 L243.3 434.0 L243.7 432.0 L243.4 430.0 L243.5 428.0 L243.4 426.0 L243.6 424.0 L244.0 422.0 L243.8 420.0 L243.9 418.0 L243.6 416.0 L243.6 414.0 L243.7 412.0 L243.9 410.0 L244.0 408.0 L244.1 406.0 L243.6 404.0 L244.1 402.0 L244.0 400.0 L244.2 398.0 L244.0 395.9 L243.6 393.9 L243.7 391.9 L243.5 389.9 L243.6 387.8 L244.1 385.8 L243.8 383.8 L243.8 381.7 L243.9 379.7 L244.0 377.7 L243.7 375.7 L243.7 373.6 L243.7 371.6 L243.7 369.6 L243.6 367.5 L243.6 365.5 L243.3 363.5 L243.6 361.4 L243.4 359.4 L243.6 357.4 L243.1 355.4 L243.3 353.3 L243.7 355.4 L243.9 357.5 L243.5 359.6 L243.6 361.7 L243.9 363.8 L244.2 365.8 L244.0 367.9 L244.3 370.0 L244.2 372.1 L244.4 374.2 L244.7 376.4 L244.7 378.5 L244.7 380.6 L244.8 382.7 L244.8 384.8 L244.7 387.0 L244.6 389.1 L245.3 391.2 L245.0 393.3 L245.1 391.3 L244.8 389.3 L244.9 387.3 L245.4 385.3 L245.3 383.3 L245.6 381.3 L245.3 379.3 L245.1 377.3 L245.4 375.3 L245.6 373.3 L245.9 371.3 L245.9 369.3 L245.6 367.3 L245.6 365.3 L245.5 363.3 L245.9 361.3 L245.6 359.3 L245.7 357.3 L245.6 355.3 L246.0 353.3 L245.7 351.3 L246.2 349.3 L245.8 347.3 L246.4 345.3 L245.9 343.3 L246.4 341.3 L245.9 339.2 L245.9 337.2 L246.4 335.2 L246.1 333.2 L246.5 331.2 L246.1 329.2 L246.0 327.1 L246.6 325.1 L246.6 323.1 L246.7 321.1 L246.6 319.1 L246.2 317.1 L246.6 315.1 L246.7 313.1 L246.6 311.0 L246.9 309.0 L246.5 307.0 L246.7 305.0 L246.4 307.1 L246.7 309.2 L247.2 311.4 L247.3 313.5 L246.9 315.6 L246.9 317.7 L247.5 319.8 L247.4 322.0 L247.2 324.1 L247.7 326.2 L247.5 328.3 L247.8 326.3 L247.6 324.2 L247.4 322.1 L247.7 320.1 L247.9 318.0 L247.9 316.0 L248.2 313.9 L247.9 311.8 L248.4 309.8 L248.2 307.7 L248.5 305.6 L248.5 303.6 L248.5 301.5 L248.5 299.4 L248.9 297.4 L249.1 295.3 L249.0 293.3 L249.0 291.2 L248.9 289.1 L248.8 287.1 L249.2 285.0 L249.0 287.1 L249.3 289.2 L249.4 291.3 L249.8 293.3 L249.8 295.4 L249.7 297.5 L249.9 299.6 L250.2 301.7 L250.6 303.7 L250.6 305.8 L250.4 307.9 L250.8 310.0 L251.0 312.2 L251.0 314.5 L251.2 316.7 L251.2 318.9 L251.3 321.1 L251.7 323.3 L251.7 325.4 L251.8 327.4 L251.6 329.5 L251.5 331.5 L251.3 333.6 L251.1 335.6 L251.0 337.7 L251.4 339.8 L250.9 341.8 L250.8 343.8 L250.7 345.9 L250.9 347.9 L250.8 350.0 L251.1 352.1 L250.8 354.3 L250.9 356.4 L251.1 358.5 L251.1 360.6 L251.6 362.7 L251.9 364.8 L251.6 367.0 L251.6 369.1 L252.1 371.2 L252.0 373.3 L252.2 375.6 L252.3 377.9 L252.9 380.2 L253.0 382.5 L253.6 379.6 L254.2 376.7 L254.4 374.6 L254.5 372.5 L254.5 370.4 L254.7 368.3 L255.2 366.3 L255.3 364.2 L255.3 362.1 L255.3 360.0 L255.9 357.9 L255.8 355.8 L255.8 357.9 L256.2 359.9 L256.2 361.9 L256.1 363.9 L256.2 366.0 L256.5 368.0 L256.7 370.0 L256.7 368.0 L256.8 365.9 L256.6 363.9 L256.7 361.8 L256.7 359.8 L257.1 357.8 L256.9 355.7 L257.1 353.7 L257.0 351.7 L257.1 349.6 L257.0 347.6 L256.9 345.5 L257.6 343.5 L257.2 341.5 L257.1 339.4 L257.5 337.4 L257.6 335.4 L257.5 333.3 L257.4 331.3 L257.8 329.3 L257.8 327.2 L258.0 325.2 L257.9 323.1 L258.0 321.1 L258.7 319.1 L258.8 317.1 L258.7 315.0 L258.9 317.2 L259.1 319.4 L259.4 321.7 L259.4 323.9 L259.8 326.1 L260.0 328.3 L260.4 326.2 L260.5 324.1 L260.7 321.9 L261.0 319.8 L260.8 317.6 L260.9 315.5 L261.3 313.3 L261.2 311.3 L261.3 309.3 L261.3 307.2 L261.4 305.2 L261.7 303.2 L262.0 301.2 L261.8 299.1 L262.2 297.1 L262.2 295.1 L261.8 293.0 L262.2 291.0 L262.1 289.0 L262.1 286.9 L262.6 284.9 L262.3 282.9 L262.5 280.8 L262.5 282.9 L262.6 284.9 L262.5 287.0 L262.7 289.0 L263.0 291.0 L263.0 293.1 L263.3 295.1 L262.9 297.2 L263.0 299.2 L263.5 301.2 L263.7 303.3 L263.6 305.3 L263.7 307.4 L263.4 309.4 L263.5 311.5 L263.6 313.5 L264.2 315.5 L263.8 317.6 L264.0 319.6 L264.2 321.7 L264.3 319.6 L264.6 317.5 L264.1 315.3 L264.2 313.2 L264.6 311.1 L264.8 309.0 L264.7 306.9 L264.5 304.8 L264.7 302.7 L264.9 300.6 L264.5 298.4 L264.7 296.3 L264.7 294.2 L264.7 292.1 L265.0 290.0 L265.1 292.1 L265.3 294.2 L265.3 296.3 L265.4 298.4 L265.2 300.6 L265.6 302.7 L265.3 304.8 L265.6 306.9 L265.8 309.0 L265.3 311.1 L265.8 313.2 L265.4 315.3 L265.5 317.5 L265.5 319.6 L265.8 321.7 L265.8 319.6 L266.1 317.5 L266.1 315.4 L266.8 313.4 L266.9 311.3 L266.9 309.2 L267.0 307.1 L267.1 305.0 L267.5 302.9 L267.5 300.8 L267.6 302.9 L267.6 305.1 L267.9 307.1 L267.9 309.3 L268.1 311.4 L267.8 313.5 L267.9 315.6 L268.3 317.7 L267.9 319.8 L268.3 321.9 L268.3 324.0 L268.5 326.1 L268.5 328.2 L268.3 330.3 L268.6 332.4 L268.8 334.6 L268.7 336.7 L270.0 333.3 L270.1 331.2 L270.2 329.1 L270.7 327.0 L270.4 324.8 L271.0 322.7 L270.6 320.6 L271.3 318.5 L271.3 316.4 L271.2 314.2 L271.5 312.1 L271.7 310.0 L272.1 312.0 L272.4 314.0 L272.8 316.0 L273.1 318.0 L273.3 320.0 L273.2 322.1 L273.4 324.2 L273.6 326.3 L274.2 328.3 L274.3 330.4 L274.1 332.5 L274.8 334.6 L274.7 336.7 L274.9 334.6 L274.8 332.5 L275.4 330.4 L275.0 328.3 L275.6 326.3 L275.5 324.2 L275.5 322.1 L275.8 320.0 L276.3 322.2 L276.1 324.4 L276.4 326.6 L276.9 328.7 L276.9 330.9 L276.8 333.1 L277.5 335.3 L277.5 337.5 L277.7 335.4 L277.7 333.2 L277.9 331.1 L278.4 329.0 L278.6 326.9 L278.4 324.7 L278.5 322.6 L278.7 320.4 L279.2 318.3 L279.3 320.5 L279.5 322.6 L279.8 324.8 L280.0 326.9 L279.9 329.1 L280.1 331.2 L280.3 333.3 L280.6 331.2 L280.6 329.1 L280.4 327.0 L280.4 324.8 L280.9 322.7 L280.8 320.6 L281.1 318.5 L280.8 316.4 L281.3 314.3 L281.1 312.1 L281.3 310.0 L281.6 308.0 L281.7 305.9 L281.6 303.8 L281.4 301.8 L282.0 299.8 L281.9 297.7 L282.2 295.7 L281.9 293.6 L282.0 291.5 L282.4 289.5 L282.2 287.4 L282.2 285.4 L282.5 283.3 L282.7 285.4 L282.7 287.6 L283.1 289.7 L282.9 291.8 L283.1 293.9 L283.2 296.0 L283.5 298.1 L283.3 300.2 L283.3 302.3 L283.4 304.5 L283.8 306.5 L283.7 308.7 L284.0 310.8 L283.9 312.9 L284.2 315.0 L284.0 313.0 L284.6 311.0 L284.7 309.0 L284.6 306.9 L284.7 304.9 L284.8 302.9 L284.9 300.9 L284.7 298.9 L285.3 296.9 L285.0 294.9 L285.0 292.8 L285.3 290.8 L285.7 293.0 L285.7 295.1 L285.5 297.2 L286.1 299.3 L286.1 301.5 L285.9 303.6 L286.3 305.7 L286.5 307.9 L286.3 310.0 L286.3 312.0 L286.4 314.0 L286.5 316.0 L286.4 318.0 L286.8 320.0 L286.4 322.0 L286.5 324.0 L287.0 326.0 L287.0 328.0 L286.8 330.0 L286.8 332.0 L287.0 334.0 L287.1 336.0 L287.0 338.0 L287.0 340.0 L286.9 337.9 L287.3 335.8 L287.5 333.8 L287.2 331.7 L287.6 329.6 L287.8 327.5 L287.6 325.4 L288.1 323.3 L288.3 321.3 L288.0 319.2 L288.2 317.1 L288.3 315.0 L288.4 317.5 L288.8 320.0 L289.1 322.5 L289.3 324.9 L287.5 326.6 L289.4 328.1 L287.6 329.7 L289.9 331.2 L287.9 332.9 L289.6 334.3 L287.9 336.0 L289.7 337.5 L288.4 339.1 L290.4 340.6 L288.4 342.2 L290.2 343.7 L288.9 345.3 L290.3 346.8 L288.7 348.5 L290.2 350.0 L288.8 351.6 L290.9 353.0 L289.5 354.7 L291.1 356.2 L289.4 357.8 L291.3 359.3 L289.7 360.9 L291.6 362.4 L289.6 364.1 L291.3 365.5 L290.4 367.1 L292.0 368.6 L289.9 370.3 L291.9 371.7 L290.5 373.4 L292.4 374.8 L290.8 376.5 L292.4 378.0 L291.0 379.6 L292.5 381.1 L290.9 382.7 L292.7 384.2 L291.3 385.8 L293.2 387.3 L291.7 388.9 L293.2 390.4 L291.4 392.1 L293.2 393.5 L291.9 395.1 L293.8 396.6 L292.1 398.2 L293.6 399.6 L292.3 401.2 L294.2 402.6 L292.8 404.2 L294.2 405.6 L292.9 407.2 L294.8 408.6 L293.0 410.2 L294.0 411.7 L294.1 413.8 L294.4 415.8 L294.8 417.9 L295.0 420.0 L295.0 417.9 L295.2 415.8 L295.5 413.7 L295.9 411.7 L296.0 409.6 L296.2 407.5 L296.3 405.4 L296.3 403.3 L296.7 401.3 L296.3 399.3 L296.7 397.3 L297.1 395.3 L297.2 393.3 L296.9 391.3 L297.1 389.3 L297.3 387.3 L297.3 385.3 L297.5 383.3 L297.6 385.4 L297.9 387.4 L297.8 389.4 L297.8 391.4 L298.2 393.4 L298.2 395.5 L297.8 397.5 L298.0 399.5 L298.0 401.6 L298.3 403.6 L298.2 405.6 L298.3 407.6 L298.4 409.7 L298.7 411.7 L298.6 409.5 L299.1 407.4 L299.1 405.2 L299.5 403.1 L299.5 400.9 L299.8 398.8 L300.0 396.7 L300.2 394.6 L300.0 392.5 L299.9 390.4 L300.0 388.3 L300.5 386.1 L300.9 383.9 L301.3 381.7 L302.0 379.2 L302.5 376.7 L302.5 374.6 L302.6 372.6 L303.0 370.6 L302.8 368.5 L303.2 366.5 L303.6 364.5 L303.4 362.4 L303.4 360.4 L303.7 358.3 L305.3 356.7 L305.5 358.8 L305.5 361.0 L305.8 363.2 L306.0 365.3 L306.1 367.5 L306.1 369.7 L306.1 371.8 L306.3 374.0 L306.4 376.2 L306.3 378.3 L307.0 380.8 L307.5 383.3 L308.1 380.8 L308.7 378.4 L309.2 375.8 L309.3 377.9 L309.4 380.0 L309.5 382.1 L309.9 384.2 L309.8 386.3 L310.0 388.3 L310.2 390.7 L310.3 393.0 L310.5 395.3 L310.7 397.7 L310.8 400.0 L311.3 399.9 L309.4 401.6 L311.0 403.1 L309.1 404.8 L311.6 406.2 L309.4 407.9 L311.1 409.4 L309.8 411.0 L311.5 412.6 L309.9 414.2 L311.9 415.7 L309.4 417.4 L311.5 418.9 L310.0 420.5 L312.2 422.0 L309.8 423.7 L312.3 425.1 L310.2 426.8 L311.8 428.1 L310.9 430.2 L313.4 431.3 L311.9 433.3 L313.6 434.9 L311.8 436.5 L313.7 438.0 L311.8 439.6 L314.1 441.1 L312.1 442.7 L313.4 444.3 L311.4 445.9 L314.2 447.4 L311.4 449.0 L313.8 450.5 L311.5 452.1 L314.3 453.6 L312.2 455.2 L314.2 456.8 L311.7 458.4 L314.2 459.9 L312.1 461.5 L314.0 463.0 L312.3 464.6 L314.0 466.1 L312.7 467.7 L314.4 469.2 L312.6 470.9 L314.7 472.4 L312.9 474.0 L314.9 475.5 L312.5 477.1 L315.0 478.6 L312.4 480.3 L315.1 481.7 L312.8 483.4 L314.4 484.8 L312.7 486.4 L314.7 487.8 L313.2 489.4 L315.2 490.8 L313.0 492.4 L315.0 493.8 L312.7 495.4 L315.3 496.8 L313.3 498.4 L315.0 499.8 L313.0 501.4 L315.3 502.8 L313.1 504.4 L315.3 505.8 L313.7 507.4 L315.5 508.8 L314.5 510.3 L313.3 510.5 L313.3 512.7 L313.3 515.0 L313.3 517.2 L313.1 519.4 L313.0 521.7 L313.5 523.9 L314.0 526.3 L314.7 528.5 L315.0 530.8 L315.2 528.7 L315.7 526.5 L315.7 524.3 L316.1 522.2 L316.3 520.0 L316.5 522.0 L316.7 524.0 L316.4 526.0 L316.9 528.0 L316.8 530.0 L317.2 532.0 L317.4 534.0 L317.0 536.0 L317.4 538.0 L317.5 540.0 L317.4 537.8 L317.8 535.7 L318.0 533.6 L318.3 531.4 L318.1 529.3 L318.4 527.1 L318.7 525.0 L318.6 527.2 L318.9 529.3 L319.4 531.4 L319.5 533.5 L319.7 535.6 L319.7 537.8 L319.9 539.9 L319.9 542.1 L320.3 544.2 L320.6 542.1 L320.5 539.9 L320.7 537.8 L320.8 535.7 L320.9 533.6 L320.8 531.5 L321.0 529.4 L321.1 527.2 L321.3 525.1 L320.9 523.0 L321.4 520.9 L321.0 518.8 L321.3 516.7 L321.2 518.7 L321.4 520.7 L321.5 522.8 L321.3 524.8 L321.6 526.9 L321.8 528.9 L321.6 530.9 L321.6 533.0 L321.9 535.0 L322.1 537.0 L322.1 539.1 L322.1 541.1 L322.0 543.2 L322.4 545.2 L322.4 547.2 L322.3 549.3 L322.5 551.3 L322.5 553.3 L324.2 554.2 L324.1 552.2 L324.4 550.2 L324.5 548.1 L324.3 546.1 L324.2 544.1 L324.1 542.1 L324.2 540.1 L324.1 538.1 L324.4 536.1 L324.5 534.1 L324.1 532.1 L324.7 530.1 L324.3 528.1 L324.7 526.1 L324.7 524.1 L324.9 522.0 L324.3 520.0 L324.5 518.0 L324.9 516.0 L324.3 514.0 L324.3 512.0 L324.7 510.0 L324.9 507.8 L325.1 505.6 L325.5 503.4 L325.6 501.1 L325.7 498.9 L325.8 496.7 L325.6 498.7 L326.1 500.7 L326.2 502.7 L326.2 504.7 L326.5 506.7 L326.6 508.7 L326.6 510.7 L326.9 512.7 L326.6 514.7 L327.0 516.7 L327.0 518.8 L327.1 520.9 L327.5 523.0 L327.4 525.1 L327.5 527.2 L327.4 529.4 L327.5 531.5 L327.3 533.6 L327.4 535.7 L327.8 537.8 L327.9 539.9 L327.8 542.1 L328.0 544.2 L328.4 542.0 L328.2 539.8 L328.4 537.7 L328.7 535.5 L328.7 533.3 L329.0 535.4 L329.0 537.5 L328.6 539.6 L328.8 541.7 L329.1 543.8 L329.4 545.8 L329.0 547.9 L329.2 550.0 L329.2 552.1 L329.2 554.2 L329.3 556.3 L329.7 558.3 L329.7 560.4 L329.9 562.5 L329.9 564.6 L329.7 566.7 L329.7 568.8 L330.0 570.8 L330.0 572.9 L329.7 575.0 L329.7 577.1 L329.9 579.2 L329.5 581.3 L329.8 583.3 L330.2 585.4 L330.0 587.5 L329.7 589.6 L330.1 591.7 L329.8 593.8 L330.3 595.8 L330.1 597.9 L330.0 600.0 L329.8 602.0 L330.0 604.1 L330.0 606.1 L330.3 608.1 L330.2 610.2 L330.1 612.2 L330.4 614.3 L330.1 616.3 L330.3 618.3 L330.0 620.4 L330.3 622.4 L330.4 624.4 L330.7 626.5 L330.7 628.5 L330.3 630.6 L330.8 632.6 L330.8 634.6 L330.8 636.7 L330.6 638.7 L330.4 640.7 L330.6 642.8 L330.5 644.8 L331.0 646.8 L331.1 648.9 L330.6 650.9 L330.9 653.0 L330.8 655.0 L331.0 653.0 L330.8 651.0 L330.7 648.9 L330.7 646.9 L330.6 644.9 L331.2 642.9 L331.0 640.9 L330.9 638.8 L331.0 636.8 L330.9 634.8 L330.7 632.8 L331.3 630.7 L331.1 628.7 L331.4 626.7 L331.1 624.7 L331.2 622.7 L331.0 620.6 L330.8 618.6 L331.5 616.6 L331.4 614.6 L331.1 612.6 L331.5 610.5 L331.5 608.5 L331.1 606.5 L331.3 604.5 L331.6 602.4 L331.3 600.4 L331.6 598.4 L331.2 596.4 L331.3 594.4 L331.5 592.3 L331.2 590.3 L331.3 588.3 L331.7 586.3 L331.4 584.3 L331.7 582.2 L331.3 580.2 L331.3 578.2 L331.4 576.2 L331.3 574.1 L331.9 572.1 L331.4 570.1 L331.6 568.1 L331.3 566.1 L331.7 564.0 L331.6 562.0 L331.7 560.0 L331.8 562.0 L332.0 564.0 L332.0 566.0 L331.6 568.0 L332.0 570.0 L332.1 572.1 L332.2 574.1 L332.1 576.1 L332.2 578.1 L332.4 580.1 L332.0 582.1 L332.2 584.1 L332.4 586.1 L332.1 588.1 L332.5 590.1 L332.5 592.2 L332.1 594.2 L332.6 596.2 L332.5 598.2 L332.2 600.2 L332.3 602.2 L332.8 604.2 L332.7 606.2 L332.5 608.2 L332.7 610.2 L332.4 612.3 L332.9 614.3 L332.4 616.3 L332.8 618.3 L333.0 620.3 L332.9 622.3 L333.2 624.3 L332.8 626.3 L333.2 628.3 L332.8 630.3 L333.0 632.4 L333.2 634.4 L333.3 636.4 L333.1 638.4 L333.4 640.4 L333.0 642.4 L333.6 644.4 L333.3 646.4 L333.4 648.4 L333.6 650.4 L333.3 652.5 L333.6 654.5 L333.4 656.5 L333.5 658.5 L333.8 660.5 L333.7 662.5 L333.6 660.5 L333.5 658.4 L333.6 656.4 L334.1 654.4 L333.7 652.4 L334.0 650.3 L333.7 648.3 L334.0 646.3 L333.9 644.3 L334.0 642.2 L333.9 640.2 L333.8 638.2 L334.0 636.2 L334.0 634.1 L334.0 632.1 L334.4 630.1 L334.2 628.0 L334.3 626.0 L334.7 624.0 L334.6 622.0 L334.7 619.9 L334.8 617.9 L334.3 615.9 L334.4 613.9 L334.3 611.8 L334.8 609.8 L334.8 607.8 L334.6 605.8 L334.7 603.7 L334.9 601.7 L335.0 599.7 L334.7 597.6 L335.2 595.6 L334.9 593.6 L335.1 591.6 L334.8 589.5 L334.8 587.5 L335.4 585.5 L335.3 583.5 L335.3 581.4 L334.9 579.4 L334.9 577.4 L335.1 575.4 L335.3 573.3 L335.2 571.3 L335.4 569.2 L335.5 567.2 L335.3 565.1 L335.6 563.1 L335.9 561.0 L335.7 559.0 L336.2 556.9 L336.1 554.9 L336.3 552.8 L336.1 550.8 L336.3 548.7 L336.5 546.7 L336.4 544.6 L336.2 542.5 L336.9 540.5 L336.9 538.5 L336.7 536.4 L336.6 534.3 L337.2 532.3 L337.2 530.3 L336.9 528.2 L337.1 526.1 L337.1 524.1 L337.6 522.1 L337.5 520.0 L337.7 522.0 L337.2 524.0 L337.4 526.0 L337.8 528.0 L337.4 530.0 L337.6 532.0 L337.4 534.0 L337.3 536.0 L337.7 538.0 L337.9 540.0 L337.3 542.0 L337.7 544.0 L337.3 546.0 L337.5 548.0 L337.5 550.0 L337.4 552.0 L337.6 554.0 L337.7 556.0 L338.0 558.0 L337.6 560.0 L337.8 562.0 L337.7 564.0 L337.4 566.0 L338.0 568.0 L337.6 570.0 L338.1 572.0 L337.6 574.0 L337.6 576.0 L338.0 578.0 L337.8 580.0 L337.5 582.0 L337.7 584.0 L337.8 586.0 L338.0 588.0 L338.2 590.0 L338.0 592.0 L337.9 594.0 L338.1 596.0 L338.0 598.0 L338.1 600.0 L337.8 602.0 L337.8 604.0 L338.1 606.0 L338.1 608.0 L337.9 610.0 L338.0 612.0 L337.7 614.0 L338.1 616.0 L338.1 618.0 L337.7 620.0 L338.3 622.0 L338.0 624.0 L338.1 626.0 L337.8 628.0 L338.0 630.0 L337.9 632.0 L338.3 634.0 L338.0 636.0 L338.0 638.0 L338.1 640.0 L337.9 642.0 L337.9 644.0 L338.4 646.0 L338.3 648.0 L338.2 650.0 L338.4 652.0 L338.5 654.0 L338.3 656.0 L338.4 658.0 L338.0 660.0 L338.2 662.0 L338.5 664.0 L338.3 666.0 L338.2 668.0 L338.3 670.0 L338.5 672.0 L338.6 674.0 L338.6 676.0 L337.9 678.0 L338.1 680.0 L338.6 682.0 L338.2 684.0 L338.0 686.0 L338.3 688.0 L338.3 690.0 L338.6 692.1 L338.4 694.2 L338.5 696.2 L338.7 698.3 L338.4 700.4 L338.8 702.5 L338.2 704.6 L338.5 706.7 L338.5 708.8 L338.3 710.8 L338.5 712.9 L338.8 715.0 L338.9 717.1 L339.0 719.2 L339.1 721.2 L338.6 723.3 L338.6 725.4 L338.8 727.5 L338.7 725.5 L338.7 723.5 L339.0 721.5 L339.2 719.5 L339.3 717.5 L338.7 715.5 L339.2 713.5 L339.3 711.5 L339.2 709.4 L339.0 707.4 L338.9 705.4 L339.4 703.4 L339.0 701.4 L339.1 699.4 L339.2 697.4 L339.1 695.4 L339.5 693.4 L339.1 691.4 L339.0 689.4 L339.4 687.4 L339.4 685.4 L339.6 683.4 L339.5 681.4 L339.7 679.4 L339.8 677.3 L339.5 675.3 L339.5 673.3 L339.6 675.5 L340.0 677.6 L340.0 679.8 L339.9 681.9 L340.4 684.1 L340.1 686.3 L340.6 688.4 L340.5 690.6 L340.3 692.7 L341.0 694.8 L341.2 697.0 L341.0 699.2 L341.0 697.2 L340.8 695.2 L341.2 693.1 L340.7 691.1 L341.3 689.1 L341.3 687.1 L341.3 685.1 L341.0 683.1 L340.9 681.1 L341.2 679.1 L341.1 677.1 L341.1 675.1 L341.0 673.1 L341.1 671.1 L341.3 669.1 L341.4 667.0 L341.5 665.0 L340.9 663.0 L341.0 661.0 L341.2 659.0 L341.3 657.0 L341.1 655.0 L341.0 653.0 L341.0 651.0 L341.1 649.0 L341.2 647.0 L341.6 645.0 L341.6 643.0 L341.5 640.9 L341.6 638.9 L341.6 636.9 L341.4 634.9 L341.6 632.9 L341.0 630.9 L341.5 628.9 L341.4 626.9 L341.2 624.9 L341.4 622.9 L341.7 620.9 L341.4 618.9 L341.5 616.9 L341.3 614.8 L341.3 612.8 L341.7 610.8 L341.1 608.8 L341.2 606.8 L341.6 604.8 L341.4 602.8 L341.2 600.8 L341.6 598.8 L341.4 596.8 L341.6 594.8 L341.5 592.8 L341.6 590.8 L341.6 588.8 L341.5 586.7 L341.3 584.7 L341.4 582.7 L341.9 580.7 L341.6 578.7 L341.3 576.7 L341.9 574.7 L341.5 572.7 L341.4 570.7 L341.7 568.7 L341.7 566.7 L341.5 564.6 L341.7 562.6 L341.7 560.6 L341.5 558.5 L341.8 556.5 L341.4 554.5 L341.7 552.4 L341.8 550.4 L341.4 548.4 L341.7 546.3 L341.5 544.3 L341.7 542.3 L342.0 540.2 L341.8 538.2 L341.9 536.2 L342.0 534.1 L341.5 532.1 L342.2 530.1 L342.0 528.0 L341.6 526.0 L342.1 524.0 L341.8 522.0 L341.6 519.9 L342.2 517.9 L341.9 515.9 L342.1 513.8 L341.6 511.8 L342.1 509.8 L341.6 507.7 L341.7 505.7 L341.8 503.7 L341.6 501.6 L342.0 499.6 L341.7 497.6 L341.8 495.5 L342.1 493.5 L341.9 491.5 L342.2 489.4 L342.1 487.4 L342.3 485.4 L342.0 483.3 L342.0 481.3 L342.3 479.3 L342.3 477.2 L341.8 475.2 L342.2 473.2 L341.9 471.1 L342.2 469.1 L342.2 467.1 L342.3 465.0 L341.8 463.0 L342.0 461.0 L342.2 458.9 L342.4 456.9 L342.2 454.9 L341.7 452.8 L342.1 450.8 L341.8 448.8 L342.1 446.7 L342.3 444.7 L341.8 442.7 L342.4 440.7 L342.2 438.6 L341.9 436.6 L341.9 434.6 L342.1 432.5 L342.3 430.5 L342.2 428.5 L341.8 426.4 L341.8 424.4 L341.8 422.4 L342.3 420.3 L341.9 418.3 L342.2 416.3 L342.0 414.2 L342.3 412.2 L342.1 410.2 L341.9 408.1 L342.4 406.1 L342.2 404.1 L342.3 402.0 L342.2 400.0 L342.4 398.0 L342.5 395.9 L341.9 393.9 L342.1 391.9 L342.0 389.9 L342.3 387.8 L342.6 385.8 L342.6 383.8 L342.0 381.8 L342.2 379.7 L342.6 377.7 L342.6 375.7 L342.4 373.6 L342.5 371.6 L342.3 369.6 L342.8 367.6 L342.5 365.5 L342.8 363.5 L342.7 361.5 L342.3 359.5 L342.5 357.4 L342.5 355.4 L343.0 353.4 L342.8 351.4 L342.4 349.3 L342.5 347.3 L342.7 345.3 L342.8 343.2 L342.9 341.2 L342.8 339.2 L342.8 337.2 L342.5 335.1 L343.0 333.1 L342.8 331.1 L342.6 329.1 L342.9 327.0 L343.0 325.0 L343.4 323.0 L342.7 320.9 L342.8 318.9 L343.2 316.8 L342.9 314.8 L342.9 312.7 L343.1 310.7 L343.0 308.7 L343.2 306.6 L343.2 304.6 L343.5 302.5 L343.5 300.5 L342.9 298.4 L343.3 296.4 L343.4 294.4 L343.5 292.3 L343.5 290.3 L343.4 288.2 L343.4 286.2 L343.2 284.1 L343.2 282.1 L343.6 280.1 L343.6 278.0 L343.7 276.0 L343.5 273.9 L343.3 271.9 L343.6 269.8 L343.6 267.8 L343.5 265.8 L343.6 263.7 L343.5 261.7 L343.6 263.7 L343.5 265.7 L343.6 267.8 L343.9 269.8 L343.7 271.8 L343.7 273.9 L343.3 275.9 L343.6 277.9 L343.7 279.9 L343.8 282.0 L343.9 284.0 L343.8 286.0 L344.0 288.1 L344.1 290.1 L343.5 292.1 L343.8 294.2 L343.8 296.2 L343.7 298.2 L343.9 300.3 L344.0 302.3 L344.1 304.3 L344.0 306.4 L344.0 308.4 L343.7 310.4 L343.9 312.4 L343.6 314.5 L344.0 316.5 L343.6 318.5 L343.9 320.6 L344.3 322.6 L344.2 324.6 L344.0 326.7 L345.1 329.2 L346.3 331.7 L345.9 333.7 L346.2 335.7 L345.8 337.8 L345.9 339.8 L345.4 341.8 L345.9 343.9 L345.4 345.9 L345.0 347.9 L345.2 350.0 L345.6 352.2 L345.9 354.4 L346.4 356.6 L346.6 358.9 L346.8 361.1 L347.0 363.3 L346.8 365.4 L347.0 367.5 L346.8 369.6 L346.9 371.7 L346.5 373.7 L346.3 375.8 L346.3 377.9 L346.3 380.0 L346.8 382.2 L346.8 384.5 L346.9 386.7 L347.4 388.9 L348.0 391.1 L348.0 393.3 L347.7 395.4 L347.6 397.6 L347.9 399.7 L348.0 401.8 L347.8 403.9 L347.5 406.1 L347.2 408.2 L347.3 410.3 L347.0 412.4 L347.4 414.6 L347.2 416.7 L347.4 418.7 L347.2 420.7 L347.3 422.7 L347.6 424.7 L347.5 426.7 L347.8 428.7 L348.1 430.7 L347.9 432.8 L348.3 434.8 L347.9 436.8 L348.2 438.8 L348.2 440.8 L348.2 442.8 L348.5 444.8 L348.5 446.8 L348.9 448.8 L348.3 450.9 L348.7 452.9 L348.5 454.9 L349.2 456.9 L348.9 458.9 L348.9 460.9 L349.3 462.9 L349.5 464.9 L349.6 466.9 L349.7 469.0 L349.3 471.0 L349.9 473.0 L349.7 475.0 L349.5 477.0 L349.9 479.1 L349.8 481.1 L349.9 483.2 L350.0 485.2 L349.9 487.2 L350.0 489.3 L350.3 491.3 L350.1 493.3 L350.5 495.4 L350.2 497.4 L350.3 499.5 L350.3 501.5 L350.7 503.5 L350.4 505.6 L350.4 507.6 L350.8 509.6 L350.8 511.7 L350.9 513.8 L350.7 516.0 L350.4 518.2 L350.9 520.3 L350.9 522.5 L350.6 524.7 L350.4 526.8 L350.2 529.0 L350.5 531.2 L350.3 533.3 L350.1 535.4 L350.7 537.5 L350.4 539.6 L351.0 541.7 L351.1 543.7 L351.1 545.8 L351.2 547.9 L351.0 550.0 L351.0 552.1 L351.4 554.2 L350.9 556.3 L351.4 558.3 L351.7 560.4 L351.7 562.5 L351.4 564.6 L351.4 566.7 L352.0 568.7 L352.2 570.8 L351.7 572.9 L352.0 575.0 L352.3 577.0 L351.9 579.1 L352.3 581.2 L352.3 583.2 L352.6 585.3 L352.4 587.4 L352.8 589.4 L353.0 591.5 L352.7 593.5 L353.4 595.6 L353.0 597.7 L353.6 599.7 L353.3 601.8 L353.6 603.8 L353.4 605.9 L354.0 607.9 L353.8 610.0 L353.8 612.0 L353.9 614.0 L353.5 616.0 L353.5 618.0 L353.7 620.0 L354.0 622.0 L353.9 624.0 L353.9 626.0 L353.8 628.1 L353.9 630.1 L353.9 632.1 L353.5 634.1 L353.6 636.1 L353.8 638.1 L353.3 640.1 L353.8 642.1 L353.6 644.1 L353.9 646.1 L353.4 648.1 L353.3 650.1 L353.8 652.1 L353.4 654.1 L353.3 656.1 L353.7 658.1 L353.7 660.1 L353.5 662.2 L353.2 664.2 L353.7 666.2 L353.4 668.2 L353.4 670.2 L353.5 672.2 L353.4 674.2 L353.2 676.2 L353.6 678.2 L353.2 680.2 L353.5 682.2 L353.2 684.2 L353.1 686.2 L353.6 688.2 L353.1 690.2 L353.0 692.2 L353.5 694.2 L353.7 696.3 L353.6 698.3 L353.0 700.3 L353.6 702.3 L353.0 704.3 L353.5 706.3 L353.1 708.3 L353.5 710.3 L353.5 712.3 L353.1 714.3 L353.5 716.3 L353.3 718.3 L352.9 720.3 L353.0 722.3 L352.9 724.3 L352.8 726.3 L353.5 728.3 L353.3 730.3 L352.9 732.4 L353.0 734.4 L353.4 736.4 L353.1 738.4 L353.3 740.4 L353.1 742.4 L353.3 744.4 L353.4 746.4 L352.7 748.4 L353.1 750.4 L352.7 752.4 L353.3 754.4 L353.0 756.4 L353.2 758.4 L353.0 760.4 L353.2 762.4 L352.8 764.4 L353.2 766.5 L352.7 768.5 L352.9 770.5 L353.2 772.5 L353.0 774.5 L352.9 776.5 L352.6 778.5 L353.0 780.5 L352.8 782.5 L352.8 780.5 L353.4 778.5 L353.5 776.4 L353.5 774.4 L353.3 772.4 L353.3 770.3 L353.5 768.3 L353.5 766.3 L353.6 764.3 L354.0 762.3 L354.1 760.2 L354.3 758.2 L354.3 756.2 L354.2 754.1 L354.8 752.2 L354.8 750.1 L354.9 748.1 L355.0 746.1 L355.2 744.1 L355.6 742.0 L355.3 740.0 L355.6 738.0 L355.6 736.0 L355.4 734.0 L355.3 732.0 L355.4 730.0 L355.9 728.0 L355.5 726.0 L355.5 724.0 L355.6 722.0 L355.4 720.0 L356.0 718.0 L355.4 716.0 L355.8 714.0 L356.1 712.0 L355.7 710.0 L355.9 708.0 L355.8 706.0 L355.8 704.0 L355.8 702.0 L355.7 700.0 L356.3 698.0 L356.3 696.0 L356.4 694.0 L355.8 692.0 L356.3 690.0 L356.1 688.0 L356.3 686.0 L356.3 684.0 L356.2 682.0 L356.3 680.0 L356.7 678.0 L356.1 676.0 L356.6 674.0 L356.7 672.0 L356.5 670.0 L356.6 668.0 L356.9 666.0 L356.4 664.0 L356.7 662.0 L356.8 660.0 L356.6 658.0 L356.9 656.0 L356.7 654.0 L356.8 652.0 L356.9 650.0 L357.0 648.0 L356.8 646.0 L357.0 644.0 L357.0 642.0 L356.8 640.0 L357.1 638.0 L356.9 636.0 L357.4 634.0 L357.1 632.0 L357.3 630.0 L357.2 628.0 L357.2 626.0 L357.1 624.0 L357.0 622.0 L357.6 620.0 L357.4 618.0 L357.4 616.0 L357.5 614.0 L357.7 612.0 L357.5 610.0 L357.3 608.0 L357.2 605.9 L357.7 603.9 L357.4 601.9 L357.5 599.8 L357.6 597.8 L357.7 595.8 L357.6 593.8 L357.0 591.7 L357.2 589.7 L357.5 587.7 L357.5 585.6 L357.0 583.6 L357.0 581.6 L357.1 579.5 L356.9 577.5 L357.1 575.5 L357.4 573.4 L357.2 571.4 L357.1 569.4 L356.9 567.4 L357.1 565.3 L357.5 563.3 L357.2 561.3 L357.0 559.2 L357.0 557.2 L357.2 555.2 L357.2 553.1 L356.8 551.1 L357.1 549.1 L356.9 547.1 L357.0 545.0 L356.8 543.0 L356.8 541.0 L356.8 538.9 L356.8 536.9 L356.5 534.9 L356.6 532.8 L356.9 530.8 L356.5 528.8 L356.6 526.7 L356.9 524.7 L356.6 522.7 L356.6 520.7 L356.6 518.6 L357.0 516.6 L356.4 514.6 L356.8 512.5 L356.7 510.5 L356.9 508.4 L356.5 506.3 L356.6 504.2 L356.9 502.1 L356.7 500.1 L356.6 498.0 L356.3 495.9 L356.6 493.8 L356.6 491.7 L356.8 489.6 L356.5 487.5 L356.6 485.4 L356.7 483.3 L356.9 481.3 L357.1 479.3 L356.9 477.3 L357.0 475.3 L357.3 473.3 L357.6 471.3 L357.2 469.3 L357.9 467.4 L357.8 465.3 L357.7 463.3 L358.0 461.3 L357.9 459.3 L357.8 457.3 L358.4 455.3 L358.3 453.3 L358.5 455.3 L358.4 457.3 L358.5 459.3 L358.2 461.3 L358.4 463.3 L358.9 465.3 L358.6 467.3 L358.7 469.3 L358.7 471.3 L358.5 473.3 L358.9 475.3 L358.9 477.3 L358.6 479.3 L359.0 481.3 L359.0 483.3 L359.0 485.3 L358.8 487.3 L359.0 489.3 L359.0 491.3 L359.2 493.3 L359.2 495.3 L359.5 497.3 L359.0 499.3 L359.1 501.3 L359.0 503.3 L359.0 505.3 L359.4 507.3 L359.4 509.3 L359.5 511.3 L358.9 513.3 L359.4 515.3 L359.5 517.3 L359.0 519.3 L359.1 521.3 L359.5 523.3 L359.0 525.3 L359.0 527.3 L359.2 529.3 L359.5 531.3 L359.2 533.3 L359.1 535.4 L359.3 537.4 L359.2 539.4 L358.9 541.4 L359.1 543.5 L359.1 545.5 L359.6 547.5 L359.5 549.5 L359.4 551.5 L359.8 553.6 L359.2 555.6 L359.7 557.6 L359.7 559.6 L359.7 561.7 L359.8 563.7 L359.4 565.7 L359.6 567.7 L359.7 569.8 L359.8 571.8 L360.1 573.8 L359.9 575.8 L359.6 577.9 L359.6 579.9 L359.6 581.9 L360.1 583.9 L360.1 585.9 L360.3 588.0 L360.0 590.0 L360.0 592.0 L360.1 594.1 L360.1 596.1 L360.1 598.1 L360.0 600.1 L360.2 602.2 L359.9 604.2 L360.3 606.2 L359.9 608.2 L360.1 610.3 L360.5 612.3 L360.3 614.3 L360.2 616.4 L360.3 618.4 L360.2 620.4 L360.4 622.4 L360.5 624.5 L360.1 626.5 L360.5 628.5 L360.2 630.5 L360.2 632.6 L360.3 634.6 L360.4 636.6 L360.1 638.7 L360.5 640.7 L360.2 642.7 L360.8 644.7 L360.5 646.8 L360.4 648.8 L360.8 650.8 L360.3 652.9 L360.9 654.9 L360.5 656.9 L360.8 658.9 L360.3 661.0 L360.6 663.0 L360.4 665.0 L360.7 667.0 L360.6 669.1 L360.6 671.1 L360.9 673.1 L360.9 675.1 L360.5 677.2 L361.0 679.2 L360.5 681.2 L361.0 683.3 L361.1 685.3 L361.1 687.3 L360.7 689.3 L360.6 691.4 L360.9 693.4 L360.8 695.4 L361.1 697.4 L360.7 699.5 L360.8 701.5 L361.2 703.5 L361.3 705.6 L360.9 707.6 L361.3 709.6 L360.8 711.6 L361.2 713.7 L361.3 715.7 L361.0 717.7 L361.2 719.8 L361.1 721.8 L361.4 723.8 L361.2 725.8 L361.5 723.8 L361.1 721.8 L361.5 719.8 L361.1 717.7 L361.5 715.7 L361.7 713.7 L361.3 711.6 L361.1 709.6 L361.4 707.6 L361.6 705.6 L361.3 703.5 L361.6 701.5 L361.3 699.5 L361.6 697.4 L361.8 695.4 L361.6 693.4 L361.8 691.4 L361.5 689.3 L362.0 687.3 L361.5 685.3 L362.1 683.3 L362.2 681.2 L362.2 679.2 L362.0 677.2 L361.8 675.1 L361.9 673.1 L362.2 671.1 L362.1 669.1 L362.4 667.0 L361.9 665.0 L362.2 663.0 L362.5 661.0 L362.3 658.9 L362.3 656.9 L362.0 654.9 L362.1 652.8 L362.2 650.8 L362.7 648.8 L362.7 646.8 L362.3 644.7 L362.8 642.7 L362.2 640.7 L362.6 638.7 L362.9 636.6 L362.5 634.6 L363.0 632.6 L362.8 630.5 L362.4 628.5 L362.6 626.5 L362.7 624.5 L362.6 622.4 L363.0 620.4 L362.7 618.4 L363.1 616.4 L362.8 614.3 L362.7 612.3 L363.1 610.3 L362.8 608.2 L363.1 606.2 L363.3 604.2 L363.2 602.2 L363.1 600.1 L362.9 598.1 L363.2 596.1 L363.0 594.1 L363.4 592.0 L363.3 590.0 L363.0 588.0 L363.3 586.0 L363.0 584.0 L363.0 582.0 L363.1 580.0 L362.7 578.0 L362.6 576.0 L363.1 574.0 L362.6 572.0 L362.9 570.0 L362.9 568.0 L362.5 566.0 L362.2 564.0 L362.1 562.0 L362.6 560.0 L362.0 558.0 L362.2 556.0 L362.2 554.0 L361.8 552.0 L362.0 550.0 L361.7 548.0 L361.9 546.0 L361.8 544.0 L361.6 542.0 L361.5 540.0 L361.5 538.0 L361.3 536.0 L361.2 534.0 L361.2 532.0 L361.3 530.0 L361.2 532.1 L361.6 534.1 L361.5 536.1 L362.3 538.1 L361.8 540.2 L362.3 542.2 L362.2 544.3 L362.5 546.3 L362.6 548.3 L363.1 550.4 L362.9 552.4 L363.5 554.4 L363.5 556.5 L363.9 558.5 L363.8 560.5 L363.8 562.6 L364.2 564.6 L364.2 566.7 L364.1 568.8 L364.9 570.8 L364.7 572.9 L365.2 575.0 L365.1 577.1 L365.2 579.2 L365.5 581.3 L365.8 583.3 L365.6 581.2 L365.8 579.2 L366.1 577.1 L366.5 575.0 L365.9 572.9 L366.4 570.8 L366.5 568.8 L366.6 566.7 L366.4 564.6 L366.8 562.5 L366.6 560.4 L367.0 558.3 L366.4 556.2 L367.2 554.2 L366.9 552.1 L367.0 550.0 L367.0 547.9 L366.8 545.8 L366.9 543.7 L367.3 541.7 L367.3 539.6 L366.9 537.5 L367.1 535.4 L367.0 533.3 L367.1 531.2 L367.1 529.2 L367.2 527.1 L367.7 525.0 L367.8 522.9 L367.6 520.8 L367.5 518.7 L367.5 516.7 L367.5 514.4 L367.6 512.2 L367.5 510.0 L367.8 508.0 L367.6 506.0 L367.5 504.0 L367.2 502.0 L367.4 500.0 L367.6 498.0 L367.5 496.0 L367.0 494.0 L367.4 492.0 L367.1 490.0 L367.0 488.0 L367.5 486.0 L367.3 484.0 L367.3 482.0 L366.8 480.0 L367.3 478.0 L367.3 476.0 L367.3 474.0 L367.1 472.0 L367.2 470.0 L367.1 468.0 L367.0 466.0 L366.8 464.0 L367.1 462.0 L367.0 460.0 L367.0 458.0 L366.6 456.0 L367.0 454.0 L366.7 452.0 L366.7 450.0 L367.0 448.0 L366.5 446.0 L367.2 444.0 L367.1 442.0 L366.8 440.0 L367.3 438.0 L366.9 436.0 L367.0 434.0 L367.2 432.0 L367.1 430.0 L367.4 428.0 L367.8 426.0 L367.7 424.0 L367.7 422.0 L367.6 420.0 L367.9 418.0 L368.0 416.0 L368.0 414.0 L368.2 412.0 L368.2 410.0 L368.0 408.0 L367.8 406.0 L368.3 404.0 L368.5 402.0 L368.3 400.0 L368.4 398.0 L368.6 396.0 L368.7 394.0 L368.9 392.0 L369.0 390.0 L368.4 388.0 L368.8 386.0 L368.5 384.0 L368.6 382.0 L369.2 380.0 L368.9 378.0 L369.1 376.0 L369.0 374.0 L369.0 372.0 L368.9 370.0 L369.1 368.0 L369.5 366.0 L369.4 364.0 L369.2 362.0 L369.1 360.0 L369.2 358.0 L369.6 356.0 L369.4 354.0 L369.6 352.0 L369.8 350.0 L369.3 348.0 L369.8 346.0 L369.7 344.0 L369.4 342.0 L370.1 340.0 L369.7 338.0 L369.8 336.0 L370.4 334.0 L370.1 332.0 L370.1 330.0 L370.6 328.0 L370.5 326.0 L370.8 324.0 L370.5 322.0 L370.7 320.0 L370.7 318.0 L371.0 315.9 L370.7 313.9 L371.1 311.8 L370.6 309.8 L371.0 307.7 L370.6 305.7 L370.9 303.6 L370.5 301.6 L370.6 299.5 L371.2 297.5 L370.9 295.4 L371.2 293.4 L370.8 291.3 L370.9 289.3 L370.7 287.2 L371.1 285.2 L371.3 283.1 L371.1 281.1 L371.0 279.0 L371.4 277.0 L371.4 274.9 L371.3 272.9 L371.2 270.8 L371.6 272.9 L371.3 275.1 L371.6 277.1 L371.3 279.3 L371.9 281.4 L371.8 283.5 L371.9 285.6 L372.2 287.7 L372.2 289.8 L372.3 291.9 L372.5 294.0 L372.2 296.1 L372.6 298.1 L372.7 300.2 L372.3 302.2 L373.0 304.3 L372.4 306.4 L372.6 308.4 L372.7 310.5 L372.8 312.5 L372.6 314.6 L372.8 316.7 L372.4 319.0 L372.3 321.3 L372.1 323.7 L372.3 326.0 L371.8 328.3 L372.2 330.7 L372.6 333.0 L372.5 335.4 L372.8 337.7 L373.3 340.0 L373.4 342.1 L373.0 344.2 L372.9 346.2 L373.1 348.4 L372.8 350.4 L372.4 352.5 L372.4 354.6 L372.3 356.7 L372.8 358.9 L373.0 361.2 L373.6 363.4 L373.9 365.7 L374.3 368.0 L374.2 370.0 L373.7 372.0 L373.8 374.0 L373.5 376.0 L373.4 378.0 L373.3 380.0 L373.8 382.1 L373.8 384.3 L374.3 386.5 L374.7 388.6 L375.4 390.7 L375.8 392.8 L376.0 395.0 L376.0 397.1 L375.8 399.2 L375.8 401.2 L376.1 403.3 L376.2 405.4 L376.0 407.5 L375.8 409.6 L376.2 411.7 L375.9 413.8 L376.2 415.8 L376.1 417.9 L376.0 420.0 L376.3 422.0 L376.2 424.0 L376.2 426.0 L375.8 428.0 L375.9 430.0 L376.4 432.0 L376.3 434.0 L376.0 436.0 L376.4 438.0 L376.4 440.0 L376.3 442.0 L376.6 444.0 L376.5 446.0 L376.5 448.0 L376.5 450.0 L376.2 452.0 L376.6 454.0 L376.5 456.0 L376.6 458.1 L376.1 460.1 L376.3 462.2 L376.0 464.3 L376.1 466.4 L375.9 468.4 L376.1 470.5 L376.1 472.6 L375.7 474.6 L375.8 476.7 L375.7 478.8 L375.5 480.9 L375.4 482.9 L375.5 485.0 L375.6 487.0 L375.5 489.0 L375.1 491.0 L375.3 493.0 L375.5 495.0 L375.2 497.0 L375.4 499.0 L375.0 501.0 L375.5 503.0 L374.9 505.0 L375.1 507.0 L375.2 509.0 L374.7 511.0 L375.0 513.0 L374.9 511.0 L375.0 509.0 L375.0 507.0 L375.5 505.0 L375.7 503.0 L375.8 501.0 L375.7 499.0 L376.1 497.0 L375.7 495.0 L375.9 493.0 L376.3 491.0 L376.6 489.0 L376.5 487.0 L376.5 485.0 L376.7 482.9 L376.8 480.9 L376.7 478.8 L377.1 476.7 L377.0 474.6 L376.9 472.6 L377.0 470.5 L377.3 468.4 L377.1 466.4 L377.1 464.3 L377.6 462.2 L377.5 460.1 L377.5 458.1 L377.6 456.0 L377.8 454.0 L378.0 452.0 L377.6 450.0 L377.7 448.0 L377.6 446.0 L377.9 444.0 L378.0 442.0 L378.3 440.0 L378.3 438.0 L378.3 436.0 L378.2 434.0 L378.4 432.0 L378.4 430.0 L378.3 428.0 L378.7 426.0 L378.7 424.0 L378.8 422.0 L378.4 420.0 L378.8 418.0 L378.9 416.0 L378.8 414.0 L379.0 412.0 L379.1 410.0 L379.0 408.0 L379.1 406.0 L379.1 404.0 L379.3 402.0 L378.9 400.0 L379.2 398.0 L379.3 396.0 L379.3 394.0 L379.1 392.0 L379.3 390.0 L379.1 388.0 L379.4 386.0 L379.6 384.0 L379.3 382.0 L379.3 380.0 L379.3 378.0 L379.2 376.0 L379.6 374.0 L379.8 372.0 L379.7 370.0 L379.5 368.0 L379.7 366.0 L379.4 364.0 L379.9 362.0 L379.6 360.0 L379.4 358.0 L379.8 356.0 L379.6 354.0 L379.8 352.0 L380.2 350.0 L380.7 348.0 L381.3 346.0 L381.3 344.0 L381.4 342.0 L381.6 340.0 L381.2 338.0 L381.7 336.0 L381.3 334.0 L381.4 332.0 L381.7 330.0 L381.5 328.0 L381.6 326.0 L381.7 324.0 L381.6 322.0 L382.0 320.0 L381.6 318.0 L382.1 316.0 L382.1 314.0 L382.0 312.0 L381.7 310.0 L382.2 308.0 L381.8 306.0 L382.1 304.0 L382.1 302.0 L381.9 300.0 L382.3 298.0 L382.4 296.0 L382.3 294.0 L382.3 292.0 L382.2 291.7 L382.1 289.6 L382.3 287.5 L382.3 285.4 L382.2 283.3 L382.6 281.3 L382.7 279.2 L382.6 277.1 L382.8 275.0 L382.4 272.9 L382.9 270.8 L382.4 268.7 L382.7 266.7 L382.7 264.6 L382.5 262.5 L382.8 260.4 L382.9 258.3 L383.0 256.3 L382.9 254.2 L382.9 252.1 L382.8 250.0 L383.0 247.9 L383.0 245.8 L382.9 243.7 L383.3 241.7 L383.2 239.6 L383.2 237.5 L383.1 235.4 L383.3 233.3 L383.5 231.3 L383.2 229.3 L383.3 227.3 L383.4 225.3 L383.6 223.3 L383.7 221.3 L383.6 219.3 L383.8 217.3 L383.8 215.3 L383.7 213.3 L383.7 211.3 L383.3 209.3 L383.4 207.3 L383.3 205.3 L383.9 203.3 L383.8 201.3 L383.8 199.3 L383.6 197.3 L383.6 195.3 L383.5 193.3 L383.8 191.3 L384.1 189.3 L383.7 187.3 L383.5 185.3 L383.8 183.3 L383.7 181.2 L383.8 179.2 L384.2 177.1 L384.1 175.0 L384.0 172.9 L383.8 170.8 L383.8 168.7 L383.9 166.7 L384.3 164.6 L384.1 162.5 L384.5 160.4 L384.5 158.3 L384.4 156.3 L384.3 154.2 L384.5 152.1 L384.3 150.0 L384.1 148.0 L384.1 145.9 L384.4 143.9 L384.4 141.8 L384.2 139.8 L384.2 137.8 L384.1 135.7 L384.7 133.7 L384.5 131.6 L384.7 129.6 L384.7 127.6 L384.4 125.5 L384.6 123.5 L384.4 121.5 L384.7 119.4 L384.7 117.4 L384.5 115.3 L384.7 117.4 L384.8 119.4 L384.7 121.4 L384.5 123.4 L384.6 125.5 L384.9 127.5 L384.4 129.5 L384.4 131.5 L384.6 133.6 L384.9 135.6 L384.4 137.6 L384.6 139.6 L384.7 141.7 L384.9 143.7 L384.8 145.8 L384.6 147.9 L384.5 150.0 L384.7 152.1 L384.6 154.2 L384.9 156.2 L384.9 158.3 L384.5 160.4 L384.8 162.5 L385.0 164.6 L384.7 166.7 L385.0 168.7 L385.0 170.8 L384.8 172.9 L384.7 175.0 L384.7 177.1 L384.7 179.2 L384.9 181.2 L384.8 183.3 L385.1 185.4 L384.7 187.4 L385.1 189.4 L384.9 191.4 L384.9 193.4 L384.8 195.5 L384.7 197.5 L385.0 199.5 L384.8 201.5 L384.8 203.5 L384.9 205.6 L385.1 207.6 L384.7 209.6 L384.8 211.6 L385.2 213.6 L385.1 215.7 L384.6 217.7 L385.1 219.7 L385.0 221.7 L384.8 223.7 L384.7 225.8 L384.9 227.8 L384.8 229.8 L385.2 231.8 L385.2 233.8 L384.7 235.9 L384.8 237.9 L385.3 239.9 L385.3 241.9 L385.1 243.9 L384.7 246.0 L385.2 248.0 L385.0 250.0 L384.9 252.0 L384.8 254.0 L384.9 256.0 L384.8 258.0 L385.2 260.0 L385.2 262.0 L385.3 264.0 L384.9 266.0 L385.3 268.0 L384.8 270.0 L384.9 272.0 L385.3 274.0 L384.9 276.0 L385.3 278.0 L385.1 280.0 L385.3 282.0 L384.9 284.0 L384.9 286.0 L384.9 288.0 L385.4 290.0 L384.9 292.0 L385.1 294.0 L385.0 296.0 L385.2 298.0 L385.2 300.0 L385.3 297.9 L385.3 295.8 L385.4 293.8 L385.0 291.7 L385.1 289.6 L385.4 287.5 L385.3 285.4 L385.4 283.3 L385.2 281.2 L385.6 279.2 L385.2 277.1 L385.7 275.0 L385.8 272.9 L385.6 270.8 L385.4 268.7 L385.7 266.7 L385.8 264.7 L385.5 262.7 L385.7 260.7 L385.5 258.7 L386.1 256.7 L385.8 254.7 L385.7 252.7 L385.6 250.7 L386.0 248.7 L386.1 246.7 L386.1 244.7 L385.7 242.7 L385.8 240.7 L385.8 238.7 L386.1 236.7 L385.8 234.7 L386.1 232.7 L386.3 230.7 L386.2 228.7 L385.8 226.7 L385.8 224.7 L385.9 222.7 L386.2 220.7 L386.2 218.7 L386.2 216.7 L386.2 214.6 L386.2 212.6 L386.2 210.5 L386.3 208.5 L386.4 206.4 L386.5 204.4 L386.5 202.3 L386.5 200.3 L386.6 198.2 L386.6 196.2 L386.5 194.1 L386.1 192.1 L386.5 190.0 L386.7 188.0 L386.4 185.9 L386.7 183.9 L386.3 181.8 L386.8 179.8 L386.5 177.7 L386.7 175.7 L386.5 173.6 L386.5 171.6 L386.6 169.5 L386.7 167.5 L386.8 169.5 L387.0 171.6 L386.8 173.6 L386.5 175.7 L386.7 177.7 L386.5 179.8 L386.7 181.8 L386.6 183.9 L386.6 185.9 L386.7 188.0 L387.0 190.0 L387.1 192.1 L387.0 194.1 L387.2 196.2 L387.1 198.2 L386.8 200.3 L386.8 202.3 L387.1 204.4 L386.9 206.4 L386.9 208.5 L386.9 210.5 L386.9 212.6 L387.1 214.6 L387.2 216.7 L387.4 218.7 L387.0 220.8 L387.3 222.9 L387.2 225.0 L387.4 227.1 L387.3 229.2 L387.0 231.3 L387.5 233.3 L387.3 235.4 L387.3 237.5 L387.4 239.6 L387.2 241.7 L387.5 243.7 L387.2 245.8 L387.4 247.9 L387.5 250.0 L387.5 250.0 L387.3 252.1 L387.9 254.2 L387.9 256.2 L387.9 258.3 L387.6 260.4 L388.2 262.5 L388.1 264.6 L387.9 266.7 L387.8 268.8 L388.4 270.8 L388.3 272.9 L388.3 275.0 L388.3 277.1 L388.4 279.2 L388.4 281.3 L388.5 283.3 L388.8 285.4 L388.9 287.5 L389.1 289.6 L388.8 291.7 L389.1 293.7 L389.2 295.8 L388.8 297.9 L389.2 300.0 L389.0 302.0 L389.0 304.0 L389.0 306.0 L389.0 308.0 L388.9 310.0 L389.1 312.0 L389.2 314.0 L389.2 316.0 L389.2 318.0 L388.9 320.0 L389.0 322.0 L389.0 324.0 L388.7 326.0 L388.4 328.0 L388.6 330.0 L388.8 332.0 L388.4 334.0 L388.8 336.0 L388.8 338.0 L388.6 340.0 L388.5 342.0 L388.3 344.0 L388.4 346.0 L388.2 348.0 L388.3 350.0 L388.1 348.0 L388.7 345.9 L388.4 343.9 L388.8 341.9 L388.3 339.8 L388.9 337.8 L388.6 335.8 L389.0 333.8 L389.0 331.7 L389.0 329.7 L388.8 327.7 L388.7 325.6 L388.9 323.6 L389.4 321.6 L389.0 319.6 L389.4 317.5 L389.4 315.5 L389.5 313.5 L389.2 311.4 L389.3 309.4 L389.3 307.4 L389.9 305.4 L389.7 303.3 L389.8 305.3 L389.7 307.3 L389.7 309.3 L390.0 311.3 L390.1 313.3 L390.2 315.3 L389.7 317.3 L390.2 319.3 L389.8 321.3 L390.2 323.3 L390.0 325.3 L390.4 327.3 L390.0 329.3 L390.4 331.3 L390.4 333.3 L390.3 335.3 L390.6 337.3 L390.6 339.3 L390.3 341.3 L390.5 343.3 L390.4 341.3 L390.5 339.3 L390.8 337.3 L390.5 335.3 L390.5 333.2 L390.6 331.2 L390.7 329.2 L390.8 327.2 L391.0 325.2 L390.9 323.2 L391.2 321.1 L390.8 319.1 L391.2 317.1 L391.3 315.1 L391.0 313.1 L390.9 311.0 L391.2 309.0 L391.1 307.0 L391.3 305.0 L391.4 307.1 L391.3 309.1 L391.7 311.2 L391.8 313.2 L391.6 315.3 L391.8 317.3 L391.8 319.4 L391.8 321.5 L392.0 323.5 L392.1 325.6 L392.0 327.6 L391.9 329.7 L391.7 331.8 L392.0 333.8 L392.3 335.9 L392.3 337.9 L392.2 340.0 L392.4 338.0 L392.3 335.9 L392.5 333.9 L392.7 331.9 L392.6 329.8 L392.2 327.8 L392.8 325.8 L392.6 323.8 L392.5 321.7 L392.5 319.7 L393.0 317.7 L392.6 315.6 L392.6 313.6 L392.8 311.6 L393.2 309.5 L393.0 307.5 L393.1 309.7 L393.0 311.8 L393.4 314.0 L393.3 316.1 L393.4 318.3 L393.5 320.4 L393.3 322.6 L393.5 324.7 L393.7 326.9 L393.3 329.0 L393.6 331.2 L393.7 333.3 L393.6 331.3 L393.6 329.3 L394.1 327.3 L394.1 325.3 L393.9 323.3 L394.2 321.3 L394.5 319.3 L394.5 317.3 L394.4 315.3 L394.7 313.3 L394.7 315.4 L394.6 317.4 L394.6 319.4 L395.0 321.5 L394.6 323.5 L394.5 325.6 L394.7 327.6 L394.6 329.6 L394.9 331.7 L394.6 333.7 L395.1 335.7 L395.1 337.8 L394.8 339.8 L394.7 341.9 L395.2 343.9 L395.1 345.9 L395.3 348.0 L395.0 350.0 L395.1 352.1 L395.3 354.2 L395.3 356.2 L395.0 358.3 L395.2 360.4 L395.0 362.5 L395.3 364.6 L395.3 366.7 L395.6 364.6 L395.3 362.4 L396.0 360.3 L395.7 358.2 L395.9 356.1 L396.1 353.9 L396.5 351.8 L396.3 349.7 L396.7 347.6 L396.6 345.5 L396.7 343.3 L397.4 340.8 L398.3 338.3 L398.2 340.4 L398.7 342.4 L398.3 344.4 L398.7 346.4 L399.0 348.4 L398.6 350.5 L399.1 352.5 L399.2 354.5 L399.3 356.5 L399.2 358.6 L399.7 360.6 L399.6 362.6 L399.8 364.6 L399.7 366.7 L399.5 368.7 L400.0 370.7 L399.7 372.7 L399.9 374.7 L399.8 376.7 L399.7 378.7 L399.7 380.7 L400.0 382.7 L400.0 384.8 L400.1 386.8 L399.6 388.8 L400.1 390.8 L400.1 392.8 L399.9 394.8 L399.9 396.8 L399.7 398.8 L400.0 400.8 L399.8 398.8 L400.0 396.8 L400.0 394.8 L400.4 392.8 L400.4 390.8 L400.4 388.8 L400.8 386.8 L400.7 384.8 L400.9 382.8 L401.0 380.8 L400.7 378.7 L401.2 376.8 L400.9 374.7 L400.8 372.7 L401.4 370.7 L401.0 368.7 L401.0 366.7 L401.2 364.7 L401.3 362.7 L401.8 360.7 L401.8 358.7 L401.7 356.7 L402.1 354.6 L402.5 352.5 L403.0 350.4 L403.3 348.3 L403.6 346.3 L403.6 344.2 L403.7 342.1 L403.5 340.0 L403.7 337.9 L404.0 335.8 L404.1 333.8 L404.2 331.7 L404.5 329.7 L404.7 327.7 L404.9 325.7 L404.6 323.7 L404.7 321.6 L405.4 319.7 L405.4 317.7 L405.3 315.7 L405.8 313.7 L405.8 311.7 L405.8 309.6 L405.9 307.5 L406.1 305.4 L406.3 303.3 L406.5 301.3 L406.2 299.2 L406.7 297.1 L406.7 295.0 L406.7 297.2 L406.9 299.3 L406.8 301.5 L406.8 303.7 L407.4 305.8 L407.2 308.0 L407.1 310.2 L407.2 312.3 L407.3 314.5 L407.5 316.7 L408.2 318.9 L408.5 321.1 L409.2 323.3 L409.1 325.4 L409.5 327.4 L409.5 329.4 L409.3 331.5 L409.8 333.5 L409.8 335.6 L409.5 337.6 L409.7 339.6 L410.0 341.7 L410.7 343.7 L411.3 345.8 L411.6 343.8 L411.4 341.8 L411.7 339.8 L411.9 337.8 L411.6 335.8 L411.8 333.7 L411.8 331.7 L412.0 329.7 L411.9 327.7 L412.1 325.7 L412.3 323.7 L412.5 321.7 L412.7 323.7 L413.0 325.7 L412.9 327.7 L412.8 329.7 L413.1 331.7 L413.4 333.7 L413.3 335.8 L413.6 337.8 L413.9 339.8 L413.9 341.8 L414.3 343.8 L414.2 345.8 L414.4 343.8 L414.2 341.7 L414.4 339.6 L414.9 337.5 L414.9 335.4 L415.1 333.3 L415.1 331.3 L415.2 329.2 L415.4 327.1 L415.6 325.0 L415.3 322.9 L415.8 320.8 L415.6 318.7 L415.8 316.7 L415.7 314.6 L416.1 312.5 L416.1 310.4 L416.3 308.3 L416.3 306.3 L416.2 304.2 L416.0 302.1 L416.0 300.0 L416.3 297.9 L416.5 295.8 L416.3 293.7 L416.2 291.7 L416.2 289.6 L416.4 287.5 L416.7 285.4 L416.7 283.3 L416.4 281.3 L416.5 279.3 L416.6 277.2 L416.9 275.2 L417.1 273.2 L416.5 271.1 L416.6 269.1 L417.1 267.0 L417.1 265.0 L416.6 263.0 L416.8 260.9 L416.9 258.9 L416.8 256.9 L416.9 254.8 L416.9 252.8 L416.8 250.7 L416.7 248.7 L416.8 246.7 L416.8 244.6 L416.8 242.6 L417.1 240.6 L417.2 238.5 L417.0 236.5 L417.3 234.4 L417.3 232.4 L417.1 230.4 L417.2 228.3 L417.3 230.4 L417.6 232.4 L417.3 234.5 L417.6 236.5 L418.1 238.5 L418.2 240.5 L418.0 242.6 L418.3 244.6 L418.3 246.7 L418.3 248.7 L418.6 250.8 L418.3 252.8 L418.4 254.9 L418.9 256.9 L418.7 259.0 L419.0 261.0 L418.7 263.1 L418.7 265.1 L418.8 267.2 L419.2 269.2 L419.3 271.3 L419.1 273.3 L419.2 275.4 L419.5 277.4 L419.5 279.5 L419.4 281.5 L419.7 283.6 L419.5 285.6 L419.8 287.7 L419.8 289.7 L419.8 291.8 L419.8 293.8 L419.7 295.9 L420.2 297.9 L420.0 300.0 L419.9 302.0 L420.2 304.0 L420.2 306.0 L420.0 308.0 L420.1 310.0 L420.1 312.0 L420.0 314.0 L420.4 316.0 L420.4 318.0 L420.2 320.0 L420.5 322.0 L420.6 324.0 L420.6 326.0 L420.3 328.0 L420.3 330.0 L420.4 332.0 L420.3 334.0 L420.4 336.0 L420.7 338.0 L420.8 340.0 L420.6 342.0 L421.0 344.0 L420.7 346.0 L421.0 348.0 L420.8 350.0 L421.1 352.0 L420.9 354.0 L421.2 356.0 L420.7 358.1 L420.8 360.1 L421.1 362.1 L421.3 364.1 L421.4 366.1 L421.2 368.2 L421.3 370.2 L421.4 372.2 L421.2 374.2 L421.4 376.2 L421.3 378.2 L421.7 380.3 L421.8 382.3 L421.6 384.3 L421.6 386.3 L421.7 388.3 L421.9 390.3 L421.9 392.3 L422.3 394.3 L422.4 396.3 L422.5 398.3 L422.5 396.3 L422.7 394.3 L422.8 392.3 L422.6 390.3 L422.7 388.3 L423.0 386.3 L423.1 384.3 L422.9 382.3 L422.6 380.3 L422.9 378.3 L423.0 376.3 L422.9 374.3 L422.8 372.3 L423.4 370.3 L423.4 368.3 L422.9 366.3 L423.2 364.3 L423.3 362.3 L423.2 360.3 L423.3 358.3 L423.1 356.3 L423.6 354.3 L423.7 352.3 L423.6 350.3 L423.4 348.3 L423.7 346.3 L423.6 344.3 L424.1 342.3 L423.7 340.3 L423.9 338.3 L424.2 336.3 L423.9 334.3 L424.0 332.3 L424.0 330.3 L424.1 328.3 L424.4 326.3 L424.7 324.3 L424.3 322.3 L424.4 320.3 L424.8 318.3 L424.7 316.3 L424.7 314.3 L424.6 312.3 L424.8 310.3 L425.0 308.3 L425.4 306.3 L424.9 304.2 L425.1 302.1 L425.5 300.0 L425.7 297.9 L425.7 295.8 L425.6 293.7 L425.9 291.7 L425.8 289.6 L425.7 287.5 L425.9 285.4 L426.1 283.3 L426.2 281.3 L425.9 279.2 L426.1 277.1 L426.6 275.0 L426.2 272.9 L426.7 270.8 L426.5 268.7 L426.7 266.7 L426.6 264.5 L426.8 262.4 L427.0 260.3 L427.4 258.2 L427.1 256.0 L427.6 254.0 L427.4 251.8 L427.4 249.7 L427.9 247.6 L427.8 245.4 L428.0 243.3 L428.3 245.4 L428.3 247.6 L428.1 249.7 L428.2 251.8 L428.5 253.9 L428.9 256.0 L428.6 258.2 L428.8 260.3 L428.7 262.4 L428.8 264.6 L429.2 266.7 L429.3 268.7 L429.0 270.7 L429.1 272.7 L429.5 274.7 L429.5 276.8 L429.5 278.8 L429.6 280.8 L429.6 282.8 L429.8 284.8 L429.8 286.8 L429.4 288.9 L429.7 290.9 L429.7 292.9 L429.5 294.9 L429.7 296.9 L430.0 298.9 L429.7 301.0 L429.8 303.0 L430.0 305.0 L430.4 303.0 L430.3 301.0 L430.4 299.0 L430.5 297.0 L430.3 295.0 L430.6 293.0 L430.5 291.0 L430.9 289.0 L430.5 287.0 L430.9 285.0 L430.8 283.0 L431.2 281.0 L431.0 279.0 L431.4 277.0 L431.5 275.0 L431.6 273.0 L431.2 271.0 L431.8 269.0 L431.7 267.0 L431.7 265.0 L431.7 267.0 L431.8 269.0 L432.3 271.0 L431.9 273.0 L432.2 275.0 L432.4 277.0 L432.5 279.0 L432.4 281.0 L432.5 283.0 L432.6 285.0 L433.1 287.0 L433.1 289.0 L433.3 291.0 L433.5 293.0 L433.3 295.0 L433.4 292.9 L433.3 290.9 L433.9 288.9 L433.7 286.8 L433.7 284.7 L433.8 282.7 L434.4 280.7 L434.2 278.6 L434.5 276.5 L434.6 274.5 L434.9 272.4 L435.1 270.4 L435.0 268.3 L435.2 270.4 L435.0 272.4 L434.9 274.5 L435.3 276.5 L435.1 278.6 L435.2 280.6 L435.5 282.6 L435.3 284.7 L435.5 286.7 L435.8 288.8 L435.6 290.8 L435.5 292.9 L435.8 294.9 L435.9 297.0 L436.0 299.0 L435.7 301.1 L435.9 303.1 L436.3 305.1 L436.2 307.2 L436.3 309.2 L436.0 311.3 L436.3 313.3 L436.5 311.3 L436.2 309.2 L436.7 307.1 L436.3 305.1 L436.7 303.0 L436.6 301.0 L436.9 298.9 L436.7 296.8 L436.6 294.8 L436.9 292.7 L437.1 290.6 L437.2 288.6 L437.0 286.5 L436.9 284.4 L437.3 282.4 L437.4 280.3 L437.1 278.2 L437.6 276.2 L437.7 274.1 L437.4 272.1 L437.5 270.0 L437.7 272.1 L437.6 274.2 L437.6 276.3 L438.1 278.3 L438.1 280.4 L438.2 282.5 L438.1 284.6 L438.5 286.7 L438.4 288.8 L438.5 290.8 L438.5 292.9 L439.0 295.0 L438.6 297.1 L438.7 299.2 L439.0 301.3 L439.2 303.3 L439.4 301.3 L439.1 299.3 L439.7 297.3 L439.5 295.3 L439.7 293.3 L439.9 291.3 L439.7 289.3 L440.1 287.3 L439.7 285.3 L440.0 283.3 L439.9 281.2 L440.4 279.2 L440.9 277.1 L441.1 275.0 L441.3 272.9 L441.3 270.8 L441.7 268.8 L441.7 266.7 L441.7 268.7 L442.0 270.7 L441.7 272.7 L441.7 274.7 L441.9 276.8 L441.9 278.8 L442.1 280.8 L442.2 282.8 L442.1 284.8 L442.1 286.8 L442.2 288.9 L442.4 290.9 L442.5 292.9 L442.4 294.9 L442.2 296.9 L442.2 299.0 L442.6 301.0 L442.6 303.0 L442.5 305.0 L442.7 307.3 L443.0 309.7 L443.0 312.0 L443.0 314.3 L443.3 316.7 L443.6 318.7 L443.5 320.8 L443.6 322.8 L443.7 324.9 L443.8 326.9 L444.0 329.0 L444.4 331.0 L444.2 333.1 L444.2 335.1 L444.9 337.2 L444.5 339.2 L444.9 341.3 L445.0 343.3 L445.4 345.3 L445.6 347.3 L445.3 349.3 L445.6 351.3 L446.0 353.3 L446.0 355.3 L446.1 357.3 L446.0 359.4 L446.6 361.3 L446.7 363.3 L448.3 361.7 L448.3 363.8 L448.7 366.0 L448.8 368.2 L448.9 370.3 L448.8 372.5 L448.8 374.7 L449.0 376.8 L449.2 379.0 L449.3 381.2 L449.2 383.3 L449.6 385.5 L449.7 387.8 L449.8 390.0 L449.9 392.2 L450.3 394.4 L450.3 396.7 L450.2 398.7 L450.1 400.7 L449.7 402.7 L449.9 404.7 L449.5 406.7 L449.7 408.7 L449.7 410.7 L449.3 412.7 L449.5 414.7 L449.2 416.7 L449.5 418.8 L449.6 420.9 L449.3 423.0 L449.3 425.1 L449.7 427.2 L449.8 429.3 L449.9 431.4 L450.0 433.5 L449.9 435.6 L450.2 437.7 L450.5 439.8 L450.1 442.0 L450.4 444.1 L450.8 446.2 L450.4 448.3 L450.6 450.4 L450.8 452.5 L450.9 450.4 L451.2 448.2 L451.5 446.1 L451.3 444.0 L451.4 441.8 L451.5 439.7 L451.8 437.6 L452.0 435.5 L452.0 433.3 L452.2 431.3 L452.4 429.3 L452.0 427.3 L452.3 425.3 L452.6 423.3 L452.7 421.3 L452.7 419.3 L452.8 417.3 L452.7 415.3 L453.1 413.3 L453.0 411.3 L453.0 409.3 L452.9 407.3 L453.0 405.3 L453.5 403.3 L453.6 401.3 L453.2 399.3 L453.5 397.3 L453.6 395.3 L453.7 393.3 L453.7 391.3 L454.1 389.3 L453.9 387.3 L454.1 385.3 L454.2 383.3 L453.9 385.4 L454.2 387.5 L454.3 389.5 L454.4 391.6 L454.4 393.6 L454.3 395.7 L454.3 397.8 L454.6 399.8 L454.6 401.9 L454.6 404.0 L454.7 406.0 L454.4 408.1 L454.7 410.2 L454.9 412.2 L454.9 414.3 L454.6 416.4 L455.0 418.4 L454.8 420.5 L455.2 422.5 L455.1 424.6 L455.0 426.7 L454.8 424.7 L455.3 422.7 L455.0 420.7 L455.1 418.7 L455.0 416.7 L455.2 414.7 L455.5 412.7 L455.6 410.7 L455.7 408.7 L455.8 406.7 L455.6 404.7 L455.9 402.7 L455.5 400.7 L456.0 398.7 L455.8 396.7 L456.0 398.7 L456.2 400.7 L456.0 402.7 L456.0 404.8 L456.4 406.8 L456.6 408.8 L456.3 410.8 L456.4 412.9 L456.6 414.9 L456.5 416.9 L457.2 418.9 L457.2 420.9 L457.3 423.0 L457.2 425.0 L456.9 423.0 L457.3 420.9 L457.3 418.9 L457.0 416.8 L457.1 414.8 L457.1 412.8 L457.4 410.7 L457.4 408.7 L457.6 406.7 L457.3 404.6 L457.7 402.6 L457.3 400.6 L457.3 398.5 L457.3 396.5 L457.3 394.4 L457.7 392.4 L457.8 390.4 L457.5 388.3 L457.7 386.3 L457.4 384.3 L457.5 382.3 L457.5 380.3 L457.7 378.2 L458.0 376.2 L457.7 374.2 L458.0 372.2 L458.2 370.2 L457.8 368.1 L458.1 366.1 L458.4 364.1 L458.3 362.1 L458.3 360.1 L458.6 358.1 L458.5 356.1 L458.4 354.0 L458.5 352.0 L458.7 350.0 L459.5 347.5 L460.0 345.0 L460.4 347.3 L461.0 349.5 L461.7 351.7 L461.7 353.8 L462.1 355.9 L462.2 358.0 L462.2 360.1 L462.1 362.2 L462.6 364.3 L462.3 366.5 L462.4 368.6 L462.7 370.7 L463.1 372.8 L462.7 374.9 L463.1 377.0 L463.0 379.1 L463.2 381.2 L463.3 383.3 L463.3 385.3 L463.5 387.3 L463.2 389.3 L463.3 391.3 L463.4 393.3 L463.6 395.3 L463.8 397.3 L463.9 399.3 L464.0 401.3 L463.6 403.3 L463.8 405.3 L463.8 407.3 L463.9 409.3 L463.8 411.3 L464.2 413.3 L464.4 411.3 L464.2 409.3 L464.6 407.2 L464.4 405.2 L464.7 403.2 L464.5 401.1 L465.0 399.1 L464.9 397.0 L465.0 395.0 L465.3 397.0 L465.1 399.0 L465.7 401.0 L465.4 403.0 L465.7 405.0 L466.2 407.0 L466.0 409.0 L466.3 411.0 L466.3 413.0 L466.7 415.0 L466.7 412.9 L466.6 410.8 L466.9 408.6 L466.4 406.5 L466.8 404.4 L466.4 402.3 L466.5 400.2 L466.4 398.0 L466.9 395.9 L466.6 393.8 L466.7 391.7 L468.0 390.0 L469.2 388.3 L469.4 390.5 L469.2 392.7 L469.3 394.8 L469.7 397.0 L469.6 399.2 L469.5 401.3 L469.9 403.5 L469.7 405.7 L470.0 407.8 L470.0 410.0 L469.9 407.9 L470.3 405.9 L470.3 403.8 L470.3 401.7 L470.0 399.7 L470.0 397.6 L470.2 395.6 L470.2 393.5 L470.0 391.4 L470.2 389.4 L469.9 387.3 L470.3 385.2 L470.0 383.2 L469.8 381.1 L470.1 379.0 L469.8 377.0 L470.1 374.9 L469.7 372.9 L470.3 370.8 L470.0 368.7 L470.0 366.7 L470.2 364.6 L469.8 362.6 L470.2 360.5 L470.1 358.5 L470.0 356.4 L470.4 354.4 L469.9 352.3 L470.2 350.3 L470.0 348.2 L470.5 346.2 L470.6 344.1 L470.1 342.0 L470.4 340.0 L470.4 337.9 L470.6 335.9 L470.7 333.8 L470.5 331.8 L470.8 329.7 L470.4 327.7 L470.4 325.6 L470.9 323.6 L470.5 321.5 L470.5 319.5 L470.8 317.4 L470.7 315.4 L470.8 313.3 L471.1 315.4 L470.7 317.6 L471.1 319.7 L471.0 321.8 L471.4 323.9 L471.0 326.1 L471.5 328.2 L471.2 330.3 L471.4 332.4 L471.3 334.6 L471.7 336.7 L471.9 334.7 L471.8 332.6 L471.8 330.6 L472.0 328.6 L471.8 326.6 L471.6 324.6 L472.1 322.6 L472.0 320.6 L472.0 318.6 L472.1 316.6 L471.8 314.6 L471.9 312.5 L472.2 310.5 L472.3 308.5 L472.3 306.5 L471.9 304.5 L472.2 302.5 L472.1 300.5 L472.1 298.5 L472.0 296.5 L472.0 294.5 L472.2 292.5 L472.2 290.4 L472.1 288.4 L472.2 286.4 L472.3 284.4 L472.5 282.4 L472.4 280.4 L472.2 278.4 L472.6 276.4 L472.3 274.4 L472.7 272.4 L472.8 270.3 L472.5 268.3 L472.8 270.4 L472.6 272.6 L472.4 274.7 L472.9 276.8 L472.9 278.9 L473.1 281.1 L473.3 283.2 L473.3 285.3 L473.4 287.4 L473.4 289.5 L473.3 291.7 L473.2 293.7 L473.3 295.7 L473.0 297.7 L473.2 299.7 L473.3 301.8 L473.0 303.8 L473.1 305.8 L473.2 307.8 L473.0 309.8 L473.1 311.8 L473.2 313.9 L473.1 315.9 L473.2 317.9 L472.8 319.9 L473.2 321.9 L472.8 323.9 L473.3 326.0 L473.3 328.0 L473.0 330.0 L473.2 332.3 L473.6 334.7 L473.7 337.0 L474.1 339.3 L474.2 341.7 L474.4 339.6 L474.3 337.5 L474.4 335.4 L474.5 333.3 L474.6 331.3 L474.4 329.2 L474.5 327.1 L474.1 325.0 L474.1 322.9 L474.4 320.8 L474.7 318.8 L474.4 316.7 L474.5 314.6 L474.2 312.5 L474.5 310.4 L474.8 308.3 L474.6 306.3 L474.8 304.2 L474.3 302.1 L474.7 300.0 L474.9 302.0 L475.0 304.0 L474.6 306.0 L475.1 308.0 L474.7 310.0 L475.2 312.0 L474.8 314.0 L475.1 316.0 L475.3 318.0 L475.0 320.0 L475.4 322.0 L475.2 324.0 L475.7 326.0 L475.3 328.0 L475.3 330.0 L475.8 332.0 L475.5 334.0 L475.9 336.0 L476.0 338.0 L475.8 340.0 L475.8 338.0 L476.0 336.0 L476.2 334.0 L476.2 331.9 L476.2 329.9 L476.0 327.9 L476.1 325.9 L475.8 323.9 L476.2 321.9 L476.1 319.9 L476.0 317.8 L476.3 315.8 L476.0 313.8 L475.9 311.8 L475.9 309.8 L476.0 307.8 L476.2 305.8 L476.4 303.8 L476.0 301.7 L476.3 299.7 L476.3 297.7 L476.3 295.7 L476.3 293.7 L476.3 291.7 L476.4 293.8 L476.8 295.8 L476.9 297.9 L476.8 300.0 L477.0 302.1 L476.8 304.2 L477.2 306.2 L476.9 308.3 L477.4 310.4 L477.5 312.5 L477.4 314.6 L477.5 316.7 L477.4 314.5 L477.4 312.4 L477.7 310.3 L477.3 308.2 L477.6 306.1 L477.7 303.9 L477.5 301.8 L477.5 299.7 L477.8 297.6 L477.6 295.5 L477.5 293.3 L477.5 291.2 L477.6 289.0 L477.8 286.8 L478.1 284.7 L478.1 282.5 L478.6 280.3 L478.6 278.2 L478.7 276.0 L479.0 273.8 L479.2 271.7 L479.5 269.7 L479.2 267.6 L479.2 265.6 L479.3 263.6 L479.4 261.6 L479.8 259.6 L479.8 257.5 L479.7 255.5 L479.6 253.5 L479.6 251.5 L479.7 249.5 L480.2 247.5 L480.2 245.4 L479.9 243.4 L480.3 241.4 L480.0 239.4 L480.4 237.4 L480.3 235.3 L480.5 233.3 L480.8 235.4 L480.5 237.5 L480.7 239.6 L480.9 241.7 L481.2 243.7 L481.0 245.8 L481.2 247.9 L481.2 250.0 L481.6 252.1 L481.2 254.2 L481.8 256.2 L481.8 258.3 L481.8 260.4 L482.0 262.5 L482.2 264.6 L482.0 266.7 L482.0 268.8 L481.8 270.8 L482.3 272.9 L482.4 275.0 L482.2 277.1 L482.5 279.2 L482.5 281.2 L482.5 283.3 L482.4 285.4 L482.6 287.5 L482.9 289.6 L483.0 291.7 L482.7 293.8 L482.5 295.8 L482.6 297.9 L483.2 300.0 L483.0 302.1 L483.0 304.2 L483.3 306.2 L483.0 308.3 L483.2 310.4 L483.0 312.5 L483.4 314.6 L483.3 316.7 L483.6 314.6 L483.6 312.5 L483.5 310.4 L483.3 308.3 L483.6 306.2 L483.4 304.2 L483.8 302.1 L483.9 300.0 L483.8 297.9 L484.1 295.8 L483.6 293.7 L484.1 291.7 L484.2 289.6 L483.8 287.5 L484.0 285.4 L484.2 283.3 L484.5 285.3 L484.2 287.4 L484.2 289.4 L484.5 291.4 L484.3 293.4 L484.6 295.4 L484.4 297.4 L484.8 299.4 L484.4 301.4 L484.8 303.4 L485.1 305.5 L485.1 307.5 L484.8 309.5 L484.8 311.5 L484.9 313.5 L485.3 315.5 L484.9 317.5 L485.1 319.5 L485.5 321.5 L485.4 323.6 L485.3 325.6 L485.7 327.6 L485.8 329.6 L485.6 331.6 L485.4 333.6 L485.4 335.6 L485.8 337.6 L485.5 339.7 L485.8 341.7 L488.3 340.0 L488.5 338.0 L488.6 336.0 L488.5 334.0 L488.8 332.0 L488.6 330.0 L488.9 328.0 L488.7 326.0 L488.5 324.0 L488.7 322.0 L488.7 320.0 L488.7 318.0 L488.8 316.0 L488.9 314.0 L489.0 312.0 L488.8 310.0 L488.9 308.0 L489.0 306.0 L489.1 304.0 L489.1 302.0 L489.2 300.0 L489.5 302.5 L490.0 305.0 L490.8 303.3 L491.1 305.3 L490.9 307.3 L491.1 309.3 L490.9 311.3 L491.0 313.3 L491.0 315.3 L491.2 317.3 L491.4 319.3 L491.1 321.3 L491.4 323.3 L491.5 325.3 L491.6 327.3 L491.6 329.3 L491.5 331.3 L491.7 333.3 L492.0 335.6 L492.6 337.8 L493.0 340.0 L492.9 342.1 L493.3 344.2 L493.2 346.4 L493.3 348.5 L493.4 350.6 L493.4 352.7 L493.3 354.9 L493.3 357.0 L493.7 359.1 L493.8 361.2 L493.7 363.3 L494.0 361.1 L494.2 358.9 L494.4 356.7 L494.6 354.5 L494.9 352.2 L495.0 350.0 L495.2 352.1 L495.4 354.2 L495.3 356.4 L495.6 358.5 L495.1 360.6 L495.4 362.7 L495.4 364.9 L495.3 367.0 L495.5 369.1 L495.9 371.2 L495.8 373.3 L496.0 375.4 L496.2 377.4 L495.9 379.5 L496.0 381.6 L496.2 383.6 L496.3 385.7 L496.5 387.7 L496.4 389.8 L496.3 391.9 L496.3 393.9 L496.4 396.0 L496.4 398.0 L496.8 400.1 L496.8 402.2 L497.0 404.2 L496.6 406.3 L497.0 408.3 L498.3 410.0 L498.6 412.1 L498.8 414.3 L498.8 416.4 L498.6 418.6 L498.7 420.7 L499.1 422.9 L499.2 425.0 L499.6 427.5 L500.3 430.0 L500.2 432.1 L500.6 434.2 L500.9 436.2 L500.7 438.3 L501.0 440.4 L501.3 442.5 L501.0 444.6 L501.3 446.7 L501.1 444.7 L500.9 442.7 L500.8 440.7 L500.4 438.7 L500.0 436.7 L500.1 434.7 L499.9 432.7 L499.4 430.7 L499.5 428.7 L499.5 426.7 L499.0 424.7 L499.0 422.7 L498.8 420.7 L498.3 418.7 L498.3 416.7 L498.8 418.7 L498.6 420.8 L498.8 422.9 L499.1 425.0 L499.3 427.1 L499.1 429.2 L499.3 431.3 L499.7 433.3 L499.9 435.4 L499.8 437.6 L499.9 439.7 L500.2 441.8 L500.5 443.9 L500.4 446.1 L500.3 448.2 L500.5 450.3 L500.6 452.4 L501.0 454.5 L500.8 456.7 L501.3 458.6 L501.6 460.7 L501.9 462.7 L502.2 464.7 L502.5 466.7 L502.6 468.9 L503.2 471.1 L503.1 473.4 L503.7 475.5 L503.7 477.8 L504.2 480.0 L504.4 482.0 L504.3 484.0 L504.6 486.0 L504.9 488.0 L504.6 490.0 L504.7 492.0 L505.1 494.0 L504.9 496.0 L505.2 498.0 L505.3 500.0 L505.8 497.9 L505.4 495.8 L505.8 493.7 L505.8 491.7 L506.2 489.6 L506.5 487.5 L506.7 485.4 L506.7 483.3 L506.7 485.4 L506.9 487.4 L506.7 489.5 L507.2 491.5 L507.1 493.6 L506.9 495.6 L507.2 497.7 L506.9 499.8 L507.5 501.8 L507.3 503.8 L507.5 505.9 L507.7 507.9 L507.5 510.0 L507.3 507.9 L507.4 505.9 L507.6 503.8 L507.7 501.8 L507.8 499.7 L507.8 497.7 L508.1 495.6 L508.0 493.6 L508.4 491.5 L507.9 489.5 L508.2 487.4 L508.3 485.4 L508.3 483.3 L509.7 483.3 L509.8 485.4 L509.5 487.4 L509.9 489.4 L509.5 491.4 L509.9 493.4 L509.9 495.4 L509.8 497.5 L509.8 499.5 L510.0 501.5 L510.2 503.5 L509.7 505.5 L510.1 507.6 L510.2 509.6 L509.9 511.6 L510.0 513.6 L510.2 515.6 L510.2 517.7 L509.9 519.7 L510.3 521.7 L510.2 523.7 L509.9 525.7 L510.3 527.8 L510.3 529.8 L510.5 531.8 L510.2 533.8 L510.3 535.8 L511.5 533.8 L512.5 531.7 L512.6 529.5 L512.8 527.4 L512.9 525.2 L513.3 523.1 L513.3 521.0 L513.7 518.8 L513.7 516.7 L513.7 514.7 L514.0 512.7 L513.7 510.7 L513.9 508.7 L514.4 506.7 L514.4 504.7 L514.5 502.7 L514.5 500.7 L514.6 498.7 L514.7 496.7 L514.6 494.6 L514.8 492.5 L515.2 490.4 L515.4 488.3 L515.3 486.2 L515.6 484.2 L515.5 482.1 L515.8 480.0 L516.4 477.1 L517.0 474.2 L517.2 476.2 L517.1 478.3 L517.2 480.4 L517.1 482.4 L517.4 484.5 L517.3 486.6 L517.2 488.6 L517.6 490.7 L517.5 492.8 L517.3 494.8 L517.5 496.9 L517.5 499.0 L517.4 501.0 L517.6 503.1 L517.8 505.1 L517.7 507.2 L517.5 509.3 L517.7 511.3 L517.7 513.4 L518.0 515.5 L517.9 517.5 L517.7 519.6 L518.0 521.7 L520.0 520.0 L520.3 517.9 L520.3 515.8 L520.1 513.7 L520.5 511.7 L520.3 509.6 L520.9 507.5 L521.0 505.4 L520.8 503.3 L521.0 501.3 L520.8 499.3 L521.2 497.3 L520.9 495.3 L521.3 493.3 L521.1 491.3 L520.9 489.3 L521.4 487.3 L521.3 485.3 L521.3 483.3 L521.7 481.1 L521.8 478.9 L521.9 476.7 L522.3 474.5 L522.2 472.2 L522.5 470.0 L523.4 467.5 L524.2 465.0 L524.3 467.1 L524.6 469.2 L524.5 471.2 L524.7 473.3 L524.7 475.4 L524.5 477.5 L524.9 479.6 L524.9 481.7 L524.9 483.7 L525.0 485.8 L524.7 487.9 L525.0 490.0 L525.3 487.9 L525.4 485.8 L525.5 483.6 L525.3 481.5 L525.5 479.4 L525.3 477.3 L525.8 475.2 L525.8 473.0 L525.8 470.9 L525.6 468.8 L525.8 466.7 L525.7 464.6 L526.2 462.5 L526.0 460.4 L526.1 458.3 L526.3 456.3 L526.0 454.2 L526.4 452.1 L526.3 450.0 L526.4 447.8 L526.7 445.6 L526.6 443.3 L526.6 441.1 L527.1 438.9 L527.0 436.7 L527.3 438.9 L527.3 441.1 L527.5 443.3 L528.0 445.5 L528.0 447.8 L528.3 450.0 L528.5 452.1 L528.7 454.2 L528.8 456.2 L528.5 458.3 L528.9 460.4 L529.0 462.5 L529.1 464.6 L529.2 466.7 L529.5 468.9 L529.3 471.1 L529.5 473.3 L529.6 475.6 L529.9 477.8 L530.0 480.0 L529.9 478.0 L530.0 475.9 L530.3 473.9 L530.3 471.9 L530.2 469.9 L530.4 467.9 L530.2 465.8 L530.7 463.8 L530.5 461.8 L530.6 459.8 L530.8 457.7 L530.6 455.7 L530.9 453.7 L530.8 451.7 L531.1 449.6 L530.7 447.6 L530.9 445.6 L531.1 443.6 L531.1 441.5 L531.1 439.5 L531.3 437.5 L531.2 435.5 L531.3 433.5 L531.2 431.4 L531.6 429.4 L531.4 427.4 L531.8 425.4 L531.7 423.3 L531.9 421.3 L532.0 419.3 L532.2 417.3 L532.2 415.3 L532.5 413.3 L532.5 415.3 L532.8 417.3 L532.7 419.3 L532.8 421.3 L533.0 423.3 L533.0 425.3 L533.4 427.3 L533.3 429.3 L533.3 431.3 L533.7 433.3 L533.6 431.2 L533.6 429.1 L533.9 427.0 L534.0 424.9 L533.9 422.8 L534.0 420.7 L534.4 418.6 L534.2 416.5 L534.2 414.4 L534.3 412.2 L534.6 410.1 L534.4 408.0 L534.7 405.9 L534.8 403.8 L534.8 401.7 L534.9 399.6 L535.0 397.5 L534.9 399.6 L535.5 401.7 L535.1 403.8 L535.5 405.8 L535.7 407.9 L535.4 410.0 L535.6 412.1 L535.7 414.2 L536.0 416.2 L535.8 418.3 L536.2 420.4 L536.0 422.5 L536.4 424.6 L536.3 426.7 L536.5 428.7 L536.7 430.7 L537.0 432.7 L537.1 434.7 L537.6 436.6 L537.5 438.7 L537.6 440.7 L538.1 442.6 L538.1 444.7 L538.3 446.7 L538.5 444.7 L538.2 442.7 L538.7 440.7 L538.8 438.7 L538.4 436.7 L538.5 434.7 L538.5 432.7 L538.6 430.7 L538.6 428.7 L538.9 426.7 L538.8 424.7 L538.9 422.7 L539.0 420.7 L539.0 418.7 L539.2 416.7 L539.3 414.6 L539.2 412.5 L538.8 410.4 L538.8 408.3 L538.6 406.3 L538.8 404.2 L538.6 402.1 L538.9 400.0 L538.8 397.9 L538.9 395.8 L538.4 393.8 L538.3 391.7 L538.6 389.6 L538.4 387.5 L538.6 385.4 L538.3 383.3 L538.4 381.3 L538.6 379.3 L538.6 377.3 L539.2 375.4 L539.2 373.3 L539.3 371.3 L539.5 369.3 L539.8 367.3 L540.0 365.3 L540.0 363.3 L541.7 365.0 L541.8 367.1 L542.0 369.2 L541.9 371.4 L541.8 373.5 L542.1 375.6 L542.0 377.7 L542.2 379.8 L542.3 382.0 L542.3 384.1 L542.6 386.2 L542.5 388.3 L542.6 386.3 L542.9 384.3 L542.5 382.3 L542.8 380.3 L543.1 378.3 L543.3 376.2 L542.9 374.2 L543.3 372.2 L543.4 370.2 L543.6 368.2 L543.4 366.1 L543.4 364.1 L543.5 362.1 L543.8 360.1 L543.9 358.1 L543.7 356.0 L544.1 354.0 L544.2 352.0 L544.2 350.0 L544.4 347.7 L544.3 345.3 L544.6 343.0 L544.8 340.7 L545.0 338.3 L546.3 335.8 L546.5 333.8 L546.5 331.8 L546.5 329.7 L546.9 327.7 L546.9 325.6 L547.3 323.6 L547.1 321.6 L547.4 319.5 L547.5 317.5 L547.5 319.6 L547.9 321.7 L547.7 323.8 L548.2 325.8 L547.8 327.9 L548.5 330.0 L548.2 332.1 L548.5 334.2 L548.7 336.2 L548.7 338.3 L548.8 336.2 L549.0 334.2 L549.1 332.1 L549.1 330.0 L549.5 327.9 L549.6 325.8 L550.1 323.8 L550.0 321.7 L551.7 320.8 L551.8 322.9 L551.9 325.0 L552.1 327.1 L551.8 329.2 L552.2 331.2 L552.2 333.3 L552.2 335.4 L552.5 337.5 L552.4 339.6 L552.7 341.7 L552.9 343.7 L553.1 345.8 L552.9 347.9 L553.0 350.0 L553.3 347.9 L553.1 345.8 L553.4 343.7 L553.7 341.7 L553.6 339.6 L553.7 337.5 L554.0 335.4 L554.2 333.3 L554.2 331.2 L554.6 329.1 L554.7 327.0 L554.4 324.8 L554.7 322.7 L554.8 320.6 L554.7 318.5 L555.0 316.4 L555.3 314.3 L555.1 312.1 L555.3 310.0 L555.3 308.0 L555.3 306.0 L555.0 304.0 L555.2 302.0 L555.0 300.0 L555.0 297.9 L555.3 295.9 L555.7 293.9 L555.5 291.8 L555.9 289.8 L555.9 287.8 L556.3 285.7 L556.2 283.7 L556.7 281.7 L557.0 283.7 L557.0 285.7 L557.2 287.7 L557.3 289.8 L557.3 291.8 L557.2 293.8 L557.5 295.8 L557.3 297.9 L557.6 299.9 L557.8 301.9 L557.9 303.9 L557.6 306.0 L558.1 308.0 L558.0 310.0 L558.2 307.9 L557.9 305.8 L558.5 303.8 L558.2 301.7 L558.4 299.6 L558.6 297.5 L558.3 295.4 L558.3 293.3 L558.8 291.3 L558.8 289.2 L558.9 287.1 L558.8 285.0 L558.9 282.9 L558.9 280.8 L559.1 278.7 L559.2 276.7 L559.1 274.6 L559.3 272.6 L559.3 270.5 L559.3 268.5 L559.6 266.4 L559.3 264.4 L559.8 262.3 L559.7 260.3 L559.6 258.2 L559.6 256.1 L559.9 254.1 L559.9 252.1 L560.0 250.0 L561.7 250.0 L561.7 252.1 L561.9 254.2 L562.0 256.2 L561.9 258.3 L562.3 260.4 L562.0 262.5 L562.2 264.6 L562.5 266.7 L562.8 264.6 L562.8 262.6 L562.5 260.5 L562.9 258.4 L562.8 256.4 L562.6 254.3 L563.1 252.3 L563.0 250.2 L563.1 248.1 L563.0 246.1 L562.8 244.0 L563.3 242.0 L563.0 239.9 L563.1 237.8 L563.3 235.8 L563.1 233.7 L563.3 231.7 L565.0 230.0 L565.1 232.1 L565.0 234.2 L565.4 236.2 L565.2 238.3 L565.6 240.4 L565.4 242.5 L565.4 244.6 L565.5 246.7 L565.9 248.7 L565.9 250.8 L565.5 252.9 L565.8 255.0 L565.9 253.0 L566.1 251.0 L566.2 249.0 L566.5 247.0 L566.7 244.9 L566.7 242.9 L566.8 240.9 L567.0 238.9 L567.1 236.9 L567.1 234.8 L567.6 232.9 L567.5 230.8 L567.3 233.0 L567.5 235.1 L567.4 237.2 L567.8 239.3 L567.6 241.4 L568.0 243.5 L567.8 245.6 L567.9 247.8 L567.8 249.9 L568.0 252.0 L568.0 254.1 L568.4 256.2 L568.3 258.3 L568.4 260.6 L568.6 262.8 L568.8 265.0 L568.9 267.2 L568.9 269.5 L569.2 271.7 L570.1 269.2 L570.8 266.7 L571.1 264.7 L571.2 262.7 L571.0 260.7 L571.1 258.7 L571.5 256.7 L571.4 254.7 L571.6 252.7 L571.6 250.7 L571.7 248.7 L572.0 246.7 L572.2 244.6 L572.1 242.5 L572.6 240.4 L572.4 238.3 L572.8 236.3 L572.7 234.2 L572.8 232.1 L573.0 230.0 L574.2 229.2 L574.3 231.3 L574.5 233.4 L574.3 235.5 L574.4 237.6 L574.7 239.7 L574.3 241.8 L574.6 243.9 L574.8 246.0 L574.4 248.1 L574.8 250.2 L574.8 252.3 L575.0 254.5 L575.0 256.6 L574.7 258.7 L574.9 260.8 L574.9 262.9 L575.0 265.0 L575.0 263.0 L575.2 260.9 L575.7 258.9 L575.5 256.8 L576.0 254.8 L576.1 252.8 L575.8 250.7 L576.4 248.7 L576.3 246.7 L577.5 245.8 L577.8 247.9 L577.6 250.0 L577.6 252.1 L577.7 254.2 L577.9 256.3 L577.8 258.3 L578.3 260.4 L578.1 262.5 L578.4 264.6 L578.3 266.7 L578.6 264.6 L578.9 262.5 L579.4 260.4 L579.7 258.3 L579.6 260.3 L579.5 262.4 L579.6 264.4 L579.7 266.4 L579.5 268.4 L579.6 270.4 L579.7 272.4 L579.9 274.4 L579.6 276.5 L579.9 278.5 L580.0 280.5 L579.9 282.5 L579.7 284.5 L579.6 286.5 L579.8 288.5 L579.8 290.6 L579.7 292.6 L579.8 294.6 L580.0 296.6 L580.0 298.6 L579.8 300.6 L580.1 302.6 L580.2 304.7 L580.0 306.7 L580.2 304.6 L580.4 302.6 L580.1 300.6 L580.5 298.6 L580.7 296.6 L580.4 294.5 L580.5 292.5 L580.8 290.5 L580.8 288.4 L581.2 286.4 L581.3 284.4 L581.1 282.4 L581.4 280.4 L581.3 278.3 L581.4 280.5 L581.8 282.6 L581.6 284.8 L582.2 286.9 L582.4 289.0 L582.4 291.2 L582.5 293.3 L582.9 290.8 L583.6 288.3 L584.2 285.8 L584.3 287.9 L584.2 289.9 L584.6 291.9 L584.5 293.9 L584.6 296.0 L584.8 298.0 L585.0 300.0 L585.2 302.0 L585.3 304.0 L585.3 306.0 L585.4 308.0 L585.3 310.0 L585.5 312.0 L585.7 314.0 L585.6 316.0 L585.5 318.0 L585.8 320.0 L586.1 317.7 L586.4 315.3 L586.6 313.0 L587.0 310.6 L587.5 308.3 L588.2 310.5 L588.6 312.8 L589.2 315.0 L588.9 317.0 L588.9 319.1 L588.7 321.1 L588.8 323.1 L588.8 325.2 L588.8 327.2 L589.0 329.3 L588.8 331.3 L588.7 333.3 L588.9 335.5 L588.9 337.6 L589.3 339.7 L589.2 341.9 L589.4 344.0 L589.5 346.2 L589.7 348.3 L590.1 350.6 L590.5 352.9 L590.7 355.2 L591.2 357.5 L591.4 355.5 L591.4 353.5 L591.2 351.5 L591.5 349.4 L591.7 347.4 L591.8 345.4 L591.8 343.4 L591.5 341.4 L592.0 339.4 L592.0 337.4 L591.8 335.3 L592.0 333.3 L592.3 331.3 L592.3 329.3 L592.4 327.2 L592.1 325.2 L592.3 323.1 L592.3 321.1 L592.3 319.1 L592.6 317.0 L592.5 315.0 L592.8 317.3 L593.2 319.7 L593.5 322.0 L593.7 324.4 L594.2 326.7 L594.3 324.6 L594.6 322.6 L594.5 320.5 L594.9 318.5 L594.4 316.4 L594.8 314.4 L594.9 312.3 L595.1 310.3 L595.4 308.3 L595.3 306.2 L595.3 304.2 L595.5 306.2 L595.5 308.3 L595.7 310.3 L595.7 312.4 L595.7 314.4 L596.3 316.4 L596.3 318.5 L596.1 320.5 L596.7 322.6 L596.4 324.6 L596.7 326.7 L596.5 324.5 L597.0 322.4 L597.2 320.3 L597.0 318.2 L597.2 316.1 L597.2 313.9 L597.6 311.8 L597.7 309.7 L597.8 307.6 L597.8 305.4 L598.0 303.3 L598.2 301.3 L598.5 299.3 L598.5 297.3 L598.7 295.3 L598.4 293.3 L598.7 291.3 L598.8 289.3 L598.9 287.3 L599.2 285.3 L599.2 283.3 L599.0 281.2 L599.3 279.2 L599.5 277.1 L599.6 275.0 L599.2 272.9 L599.3 270.8 L599.5 268.7 L599.8 266.7 L599.4 264.6 L599.7 262.5 L600.8 263.3 L600.7 265.4 L601.0 267.4 L600.9 269.4 L600.7 271.4 L601.2 273.4 L601.1 275.4 L601.3 277.4 L601.3 279.4 L601.3 281.5 L601.1 283.5 L601.2 285.5 L601.5 287.5 L601.1 289.5 L601.3 291.5 L601.5 293.5 L601.2 295.6 L601.3 297.6 L601.6 299.6 L601.3 301.6 L601.4 303.6 L601.7 305.6 L601.9 307.6 L601.4 309.7 L601.7 311.7 L602.0 309.6 L601.7 307.5 L602.2 305.4 L602.3 303.3 L602.3 301.3 L602.6 299.2 L602.8 297.1 L602.5 295.0 L602.9 292.9 L603.1 290.8 L602.9 288.7 L603.2 286.7 L603.3 284.6 L603.3 282.5 L605.0 283.3 L604.8 285.3 L605.0 287.3 L605.2 289.3 L605.2 291.3 L605.1 293.3 L605.3 295.3 L605.0 297.3 L605.0 299.3 L605.3 301.3 L605.1 303.3 L605.2 305.3 L605.5 307.3 L605.1 309.3 L605.2 311.3 L605.3 313.3 L605.6 315.3 L605.8 317.3 L605.9 319.3 L605.7 321.3 L606.0 323.3 L606.0 325.3 L606.5 327.3 L606.6 329.3 L606.6 331.3 L606.7 333.3 L607.0 331.3 L606.7 329.3 L606.7 327.3 L607.2 325.3 L606.9 323.2 L607.3 321.2 L607.1 319.2 L607.2 317.2 L607.5 315.2 L607.7 313.2 L607.6 311.1 L607.7 309.1 L607.6 307.1 L607.8 305.1 L607.8 303.1 L608.2 301.1 L608.3 299.0 L608.4 297.0 L608.3 295.0 L609.7 294.2 L609.8 296.2 L609.8 298.3 L610.2 300.3 L610.2 302.3 L610.3 304.4 L610.4 306.4 L610.3 308.5 L610.7 310.5 L610.7 312.6 L610.8 314.6 L610.8 316.7 L611.3 314.5 L611.6 312.2 L612.0 310.0 L612.1 312.1 L612.2 314.2 L612.0 316.4 L612.1 318.5 L612.5 320.6 L612.5 322.7 L612.4 324.9 L612.9 327.0 L612.9 329.1 L613.1 331.2 L613.0 333.3 L612.7 335.4 L612.3 337.5 L612.1 339.6 L611.7 341.7 L611.8 343.7 L611.5 345.8 L611.8 347.8 L611.9 349.9 L611.7 352.0 L611.7 354.0 L612.1 356.1 L612.3 358.1 L612.0 360.2 L612.0 362.3 L612.0 364.3 L612.2 366.4 L612.4 368.4 L612.3 370.5 L612.5 372.5 L612.5 374.6 L612.5 376.7 L612.6 374.6 L613.0 372.6 L613.1 370.5 L613.2 368.5 L613.1 366.4 L613.5 364.4 L613.2 362.3 L613.8 360.3 L613.7 358.2 L614.0 356.2 L613.9 354.1 L614.3 352.1 L614.2 350.0 L614.5 352.1 L614.1 354.2 L614.2 356.3 L614.4 358.3 L614.2 360.4 L614.6 362.5 L614.4 364.6 L614.6 366.7 L614.7 368.7 L614.9 370.8 L614.6 372.9 L614.7 375.0 L615.1 377.1 L614.6 379.2 L615.1 381.2 L615.0 383.3 L615.2 385.4 L615.3 387.5 L615.4 389.6 L615.3 391.7 L615.5 393.8 L615.8 395.8 L616.0 397.9 L616.3 400.0 L616.5 402.1 L616.4 404.2 L616.5 406.3 L616.7 408.3 L616.9 410.5 L616.9 412.6 L617.4 414.8 L617.7 416.9 L617.9 419.0 L618.2 421.2 L618.3 423.3 L619.0 421.1 L619.5 418.9 L620.0 416.7 L620.1 418.8 L620.2 420.8 L620.4 422.9 L620.5 425.0 L620.5 427.1 L620.7 429.2 L620.5 431.3 L620.8 433.3 L620.7 435.4 L620.8 437.5 L620.7 439.6 L620.6 441.7 L620.4 443.8 L620.1 445.8 L619.9 447.9 L620.0 450.0 L620.3 452.1 L620.1 454.2 L620.4 456.3 L620.4 458.4 L620.5 460.6 L620.9 462.7 L621.0 464.8 L620.8 466.9 L620.9 469.0 L621.2 471.1 L621.0 473.2 L621.2 475.3 L621.6 477.4 L621.8 479.5 L621.7 481.7 L621.8 479.5 L621.9 477.4 L621.7 475.3 L621.7 473.2 L622.0 471.1 L621.9 468.9 L622.3 466.8 L622.3 464.7 L622.2 462.6 L622.4 460.5 L622.5 458.3 L622.6 456.2 L622.7 454.1 L622.9 452.0 L623.5 449.9 L623.5 447.7 L623.8 445.6 L623.8 443.5 L624.2 441.4 L624.3 439.2 L624.6 437.1 L624.7 435.0 L624.9 437.1 L625.0 439.3 L625.3 441.4 L625.1 443.6 L625.4 445.7 L625.7 447.9 L625.8 450.0 L626.3 447.8 L626.5 445.5 L627.0 443.3 L627.2 445.4 L627.4 447.6 L627.2 449.7 L627.7 451.8 L627.6 453.9 L627.5 456.1 L627.7 458.2 L627.9 460.3 L628.2 462.4 L628.4 464.5 L628.3 466.7 L628.4 468.8 L628.8 470.8 L628.7 472.9 L629.1 475.0 L629.0 477.1 L629.3 479.2 L629.3 481.3 L629.7 483.3 L629.6 485.5 L630.1 487.6 L629.9 489.8 L630.6 491.9 L630.3 494.1 L630.9 496.2 L630.8 498.3 L630.9 496.2 L630.9 494.1 L631.1 492.0 L631.0 489.9 L631.0 487.8 L631.3 485.7 L631.2 483.6 L631.4 481.4 L631.3 479.3 L631.1 477.2 L631.6 475.1 L631.3 473.0 L631.5 470.9 L631.3 468.8 L631.7 466.7 L631.8 464.4 L632.1 462.1 L632.4 459.8 L632.5 457.5 L632.6 459.6 L632.8 461.7 L632.8 463.8 L633.0 465.8 L633.3 467.9 L633.3 470.0 L633.4 468.0 L633.6 466.0 L633.7 464.0 L633.5 462.0 L633.6 460.0 L633.7 458.0 L633.7 456.0 L633.9 454.0 L634.2 452.0 L634.2 450.0 L634.3 447.9 L634.2 445.8 L634.6 443.8 L634.4 441.7 L634.8 439.6 L634.6 437.5 L634.7 435.4 L635.0 433.3 L635.0 431.3 L635.3 429.3 L635.4 427.3 L635.9 425.4 L636.1 423.4 L635.9 421.3 L636.3 419.3 L636.4 417.3 L636.5 415.3 L636.7 413.3 L635.8 410.0 L636.1 408.0 L636.7 406.0 L637.0 404.0 L637.0 402.0 L637.5 400.0 L637.5 398.0 L637.6 395.9 L637.6 393.9 L637.8 391.9 L638.2 389.8 L637.8 387.8 L638.3 385.7 L638.1 383.7 L638.3 381.7 L638.7 384.0 L638.5 386.3 L638.9 388.7 L639.1 391.0 L639.2 393.3 L639.2 391.2 L639.6 389.0 L639.7 386.9 L640.0 384.7 L640.2 382.6 L640.6 380.5 L640.8 378.3 L642.5 381.7 L642.6 383.7 L642.7 385.8 L642.6 387.9 L642.6 390.0 L642.6 392.1 L642.9 394.2 L642.6 396.3 L642.8 398.3 L642.9 400.4 L643.0 402.5 L643.2 404.6 L643.3 406.7 L643.0 408.8 L643.2 410.8 L643.5 412.9 L643.3 415.0 L643.7 412.9 L643.8 410.7 L643.5 408.6 L643.9 406.4 L643.8 404.3 L644.1 402.1 L644.2 400.0 L644.6 397.7 L644.8 395.3 L645.2 393.0 L645.6 390.7 L645.8 388.3 L646.2 390.4 L646.1 392.4 L646.4 394.4 L646.3 396.5 L646.9 398.5 L646.8 400.6 L647.4 402.6 L647.4 404.6 L647.5 406.7 L647.8 408.7 L647.9 410.7 L647.8 412.8 L648.0 414.8 L647.8 416.9 L648.3 418.9 L648.1 420.9 L648.0 423.0 L648.5 425.0 L648.6 427.0 L648.4 429.1 L648.6 431.1 L648.5 433.2 L648.9 435.2 L648.9 437.2 L648.7 439.3 L649.2 441.3 L649.2 443.3 L649.5 441.3 L649.5 439.2 L649.2 437.2 L649.4 435.1 L649.7 433.1 L649.3 431.0 L649.8 429.0 L649.8 426.9 L649.9 424.9 L649.9 422.8 L649.7 420.8 L650.2 418.7 L650.0 416.7 L650.1 414.4 L650.6 412.2 L650.8 410.0 L650.8 407.8 L651.2 405.6 L651.3 403.3 L652.5 401.7 L652.7 403.8 L652.7 405.9 L653.2 408.0 L652.9 410.2 L653.3 412.3 L653.2 414.4 L653.6 416.5 L653.5 418.6 L654.0 420.7 L654.0 422.9 L654.2 425.0 L654.0 422.9 L654.3 420.8 L654.1 418.7 L654.6 416.7 L654.6 414.6 L654.5 412.5 L654.9 410.4 L655.0 408.3 L655.0 406.3 L654.6 404.2 L655.0 402.1 L655.0 400.0 L655.2 397.8 L655.3 395.6 L655.2 393.3 L655.7 391.1 L655.7 388.9 L655.8 386.7 L656.4 388.9 L656.9 391.1 L657.5 393.3 L657.5 391.3 L657.6 389.2 L658.1 387.2 L658.0 385.2 L658.0 383.1 L658.2 381.1 L658.8 379.1 L658.7 377.0 L658.6 379.1 L659.0 381.2 L659.1 383.3 L658.8 385.4 L659.0 387.4 L659.2 389.5 L659.5 391.6 L659.4 393.7 L659.2 395.8 L659.8 397.9 L659.7 400.0 L660.0 402.1 L659.6 404.2 L660.1 406.2 L660.0 408.3 L659.9 410.4 L660.0 412.5 L660.2 414.6 L660.6 416.7 L660.4 418.8 L660.6 420.8 L660.7 422.9 L660.8 425.0 L660.8 425.0 L661.2 427.1 L661.2 429.2 L661.3 431.3 L661.9 433.3 L661.7 435.4 L662.1 437.5 L662.4 439.6 L662.5 441.7 L662.5 439.6 L662.7 437.5 L662.9 435.4 L662.9 433.3 L663.2 431.3 L663.1 429.2 L663.2 427.1 L663.5 425.0 L663.2 422.9 L663.2 420.8 L663.5 418.7 L663.7 416.7 L663.9 418.7 L664.2 420.8 L664.2 422.9 L664.6 425.0 L664.3 427.1 L664.7 429.2 L664.6 431.3 L665.0 433.3 L665.0 435.5 L665.0 437.7 L665.1 439.8 L665.4 442.0 L665.3 444.2 L665.7 446.3 L665.6 448.5 L665.6 450.7 L665.6 452.8 L665.8 455.0 L666.3 457.3 L666.6 459.7 L666.7 462.0 L667.1 464.3 L667.5 466.7 L667.4 468.8 L668.0 470.9 L668.0 473.0 L668.2 475.1 L668.0 477.3 L668.1 479.4 L668.3 481.5 L668.4 483.6 L668.6 485.7 L668.7 487.8 L668.7 489.9 L669.0 492.1 L669.2 494.2 L669.5 492.2 L669.7 490.1 L669.9 488.1 L670.2 486.1 L670.4 484.1 L670.4 482.0 L670.8 480.0 L671.0 477.9 L671.3 475.7 L671.5 473.6 L671.8 471.4 L672.0 469.3 L672.2 467.1 L672.5 465.0 L672.7 467.0 L672.9 469.1 L672.8 471.1 L673.5 473.1 L673.7 475.2 L673.5 477.2 L673.9 479.3 L674.0 481.3 L674.2 483.3 L674.3 481.3 L674.3 479.2 L674.3 477.1 L674.2 475.0 L674.8 472.9 L674.9 470.8 L674.6 468.7 L674.8 466.7 L674.8 464.6 L674.8 462.5 L675.3 460.4 L675.3 458.3 L675.1 456.2 L675.3 454.2 L675.6 456.2 L675.5 458.3 L675.6 460.4 L675.9 462.5 L676.1 464.6 L676.3 466.7 L676.1 468.8 L676.2 470.8 L676.3 472.9 L676.7 475.0 L677.1 477.0 L677.0 479.1 L677.0 481.1 L677.3 483.2 L677.6 485.2 L678.0 487.2 L678.2 489.2 L678.0 491.3 L678.3 493.3 L678.3 491.2 L678.9 489.2 L679.0 487.1 L679.2 485.0 L679.6 482.9 L679.8 480.9 L679.9 478.8 L680.0 476.7 L680.3 478.7 L680.2 480.7 L680.4 482.7 L680.6 484.7 L680.3 486.7 L680.5 488.7 L681.0 490.7 L681.0 492.7 L681.1 494.7 L681.1 496.7 L681.3 498.7 L681.4 500.7 L681.3 502.7 L681.7 504.7 L681.7 506.7 L681.8 508.8 L682.2 511.0 L682.2 513.2 L682.4 515.4 L682.8 517.5 L682.8 515.5 L682.9 513.5 L682.7 511.5 L682.9 509.5 L683.0 507.5 L683.1 505.4 L683.0 503.4 L682.8 501.4 L682.9 499.4 L683.2 497.4 L683.0 495.4 L683.1 493.4 L683.3 491.4 L683.5 489.4 L683.3 487.4 L683.2 485.3 L683.3 483.3 L683.4 481.3 L683.3 479.3 L683.6 477.3 L683.3 475.3 L683.3 473.2 L683.5 471.2 L683.7 469.2 L683.4 467.2 L683.4 465.2 L683.4 463.2 L683.5 461.1 L683.6 459.1 L683.6 457.1 L683.8 455.1 L683.7 453.1 L683.7 451.1 L683.7 449.0 L684.0 447.0 L683.8 445.0 L683.7 447.0 L684.0 449.0 L683.8 451.0 L684.3 453.0 L684.0 455.0 L684.3 457.0 L684.3 459.0 L684.5 461.0 L684.7 463.0 L684.8 465.0 L684.5 467.0 L684.8 469.0 L684.7 471.0 L684.9 473.0 L685.0 475.0 L685.1 477.1 L685.4 479.2 L685.5 481.3 L685.5 483.4 L685.5 485.6 L685.6 487.7 L686.0 489.8 L685.8 491.9 L686.0 494.0 L686.3 496.1 L686.4 498.2 L686.5 500.3 L686.3 502.5 L686.5 504.6 L686.7 506.7 L687.2 504.4 L687.7 502.2 L688.3 500.0 L688.3 497.9 L688.4 495.8 L688.5 493.7 L688.8 491.7 L688.8 489.6 L688.9 487.5 L689.0 485.4 L689.0 483.3 L688.7 481.2 L688.8 479.2 L688.9 477.1 L689.2 475.0 L689.1 472.9 L689.3 470.8 L689.5 468.8 L689.5 466.7 L689.5 464.6 L689.4 462.5 L689.9 460.4 L689.9 458.3 L689.7 456.2 L689.6 454.2 L690.2 452.1 L690.0 450.0 L691.7 446.7 L691.9 444.7 L692.5 442.7 L692.5 440.6 L693.1 438.7 L693.3 436.7 L693.4 434.7 L693.8 432.7 L693.6 430.7 L693.7 428.7 L693.8 426.7 L694.3 424.7 L694.5 422.7 L694.5 420.7 L694.6 418.7 L694.7 416.7 L696.3 413.3 L696.6 415.4 L696.7 417.5 L697.0 419.6 L696.7 421.7 L697.3 423.7 L697.2 425.8 L697.4 427.9 L697.5 430.0 L697.5 427.9 L697.9 425.8 L698.3 423.8 L698.2 421.7 L698.4 419.6 L698.8 417.5 L699.0 415.4 L699.2 413.3 L699.2 415.4 L699.4 417.4 L699.1 419.4 L699.6 421.4 L699.6 423.4 L699.6 425.4 L699.5 427.5 L699.5 429.5 L699.5 431.5 L699.5 433.5 L699.4 435.5 L699.7 437.5 L700.0 439.6 L699.6 441.6 L700.1 443.6 L700.0 445.6 L700.1 447.6 L699.9 449.7 L700.0 451.7 L700.2 449.7 L700.0 447.6 L700.2 445.6 L700.6 443.6 L700.6 441.6 L700.4 439.5 L700.8 437.5 L700.9 435.5 L700.8 433.5 L700.8 431.4 L701.1 429.4 L701.0 427.4 L701.0 425.3 L701.3 423.3 L702.5 420.0 L702.8 422.1 L702.7 424.2 L703.0 426.2 L702.9 428.3 L702.9 430.4 L703.0 432.5 L703.1 434.6 L703.0 436.7 L703.5 438.7 L703.4 440.8 L703.2 442.9 L703.3 445.0 L703.4 447.1 L703.5 449.2 L703.7 451.3 L703.7 453.3 L703.9 455.4 L704.2 457.5 L704.2 459.6 L704.2 461.7 L704.0 459.6 L704.5 457.6 L704.3 455.6 L704.4 453.6 L704.5 451.6 L704.3 449.6 L704.7 447.5 L704.8 445.5 L704.9 443.5 L705.0 441.5 L704.7 439.5 L704.7 437.5 L705.1 435.4 L705.1 433.4 L705.0 431.4 L705.1 429.4 L705.0 427.4 L705.5 425.4 L705.3 423.3 L705.5 425.3 L705.4 427.3 L705.7 429.3 L705.8 431.3 L705.8 433.3 L705.8 435.3 L705.8 437.3 L706.2 439.3 L706.1 441.3 L706.3 443.3 L706.3 441.2 L706.7 439.1 L706.7 437.0 L706.6 434.9 L706.6 432.8 L706.6 430.7 L707.0 428.6 L707.0 426.5 L706.8 424.4 L706.8 422.2 L706.9 420.1 L707.4 418.0 L707.0 415.9 L707.5 413.8 L707.4 411.7 L707.5 409.6 L707.5 407.5 L707.6 409.5 L707.8 411.6 L707.8 413.6 L708.1 415.7 L707.8 417.7 L708.4 419.8 L708.4 421.8 L708.3 423.9 L708.4 425.9 L708.4 428.0 L708.7 430.0 L708.7 432.0 L708.6 434.0 L709.2 436.0 L709.3 438.0 L709.3 440.0 L709.1 442.0 L709.6 444.0 L709.4 446.0 L709.4 448.0 L709.7 450.0 L709.8 452.1 L709.5 454.2 L709.3 456.2 L709.3 458.3 L709.4 460.4 L709.3 462.5 L709.3 464.6 L709.2 466.7 L709.1 468.8 L709.3 470.8 L709.5 472.9 L709.8 475.0 L709.8 477.1 L710.0 479.2 L710.0 481.3 L710.3 483.3 L710.5 485.4 L710.4 487.5 L710.6 489.6 L710.9 491.7 L710.9 493.8 L710.9 495.8 L711.2 497.9 L711.3 500.0 L711.2 502.3 L711.7 504.5 L711.3 506.8 L711.4 509.0 L711.6 511.3 L711.4 513.6 L711.7 515.8 L711.5 513.8 L711.7 511.8 L711.9 509.7 L712.0 507.7 L711.9 505.7 L712.2 503.7 L712.1 501.6 L711.8 499.6 L711.9 497.5 L712.0 495.5 L712.3 493.5 L712.2 491.5 L712.2 489.4 L712.4 487.4 L712.2 485.4 L712.5 483.3 L712.8 481.3 L712.9 479.3 L712.8 477.2 L712.8 475.2 L712.9 473.1 L713.1 471.1 L713.1 469.1 L713.5 467.0 L713.3 465.0 L714.5 462.5 L714.3 464.6 L714.5 466.7 L714.6 468.8 L715.1 470.8 L715.1 472.9 L715.1 475.0 L715.3 477.1 L715.2 479.2 L715.0 481.3 L715.3 483.3 L715.3 485.5 L715.3 487.7 L715.8 489.8 L715.9 492.0 L716.1 494.2 L716.1 496.3 L716.3 498.5 L716.1 500.7 L716.3 502.8 L716.3 505.0 L716.4 507.0 L716.5 509.0 L716.6 511.0 L716.9 513.0 L716.8 515.0 L716.9 517.0 L717.0 519.0 L717.3 521.0 L717.4 523.0 L717.5 525.0 L717.7 527.0 L717.9 529.1 L717.8 531.1 L717.8 533.2 L718.1 535.2 L717.9 537.2 L717.9 539.3 L718.1 541.3 L718.3 543.3 L718.7 541.2 L718.7 539.0 L718.8 536.9 L719.0 534.8 L719.4 532.6 L719.7 530.5 L719.7 528.3 L720.0 530.4 L720.1 532.5 L720.0 534.6 L720.1 536.7 L720.1 538.8 L720.5 540.8 L720.2 542.9 L720.5 545.0 L720.3 547.1 L720.7 549.2 L720.8 551.2 L720.8 553.3 L721.1 551.3 L721.7 549.4 L721.9 547.3 L722.3 545.4 L722.5 543.3 L722.8 545.4 L722.6 547.6 L722.6 549.7 L722.5 551.8 L722.6 553.9 L723.2 556.1 L723.1 558.2 L722.8 560.3 L723.2 562.4 L723.0 564.6 L723.3 566.7 L723.7 568.9 L724.0 571.2 L723.8 573.5 L724.4 575.7 L724.5 578.0 L724.8 580.2 L725.0 582.5 L725.1 580.5 L725.3 578.4 L725.4 576.4 L725.4 574.4 L725.1 572.3 L725.5 570.3 L725.1 568.3 L725.4 566.2 L725.7 564.2 L725.4 562.2 L725.5 560.2 L725.7 558.1 L725.5 556.1 L725.8 554.1 L725.9 552.0 L725.8 550.0 L725.7 547.9 L726.1 545.8 L725.7 543.7 L726.1 541.7 L726.0 539.6 L725.9 537.5 L725.9 535.4 L726.4 533.3 L726.4 531.3 L726.2 529.2 L726.5 527.1 L726.3 525.0 L726.7 522.9 L726.7 520.8 L726.6 518.8 L726.6 516.7 L726.8 514.6 L727.1 512.5 L727.0 510.4 L727.0 508.3 L726.9 506.1 L726.8 503.9 L726.4 501.7 L726.2 499.4 L726.2 497.2 L725.8 495.0 L727.5 493.3 L727.7 491.3 L728.3 489.4 L728.3 487.3 L728.8 485.3 L729.2 483.3 L729.3 481.3 L729.2 479.2 L729.7 477.1 L729.6 475.0 L729.5 472.9 L729.7 470.8 L729.9 468.8 L730.0 466.7 L729.9 464.6 L729.7 462.6 L729.7 460.6 L730.0 458.5 L729.7 456.5 L729.8 454.4 L730.0 452.4 L730.0 450.4 L730.0 448.3 L729.6 446.3 L729.5 444.3 L729.9 442.2 L729.8 440.2 L729.7 438.1 L729.5 436.1 L729.7 434.1 L729.5 432.0 L729.7 430.0 L729.8 427.9 L730.1 425.8 L729.7 423.7 L729.7 421.7 L730.1 419.6 L729.9 417.5 L730.0 415.4 L730.2 413.3 L730.6 411.3 L730.3 409.2 L730.4 407.1 L730.5 405.0 L730.4 402.9 L730.6 400.8 L730.9 398.8 L730.8 396.7 L730.8 394.5 L731.1 392.4 L730.9 390.2 L730.9 388.0 L731.2 385.9 L731.2 383.7 L731.5 381.6 L731.2 379.4 L731.6 377.3 L731.6 375.1 L731.5 373.0 L731.7 370.8 L732.3 373.3 L732.7 375.8 L733.3 378.3 L733.6 380.3 L734.0 382.3 L734.3 384.3 L734.6 386.3 L735.0 388.3 L735.3 390.4 L735.7 392.5 L736.1 394.6 L736.3 396.7 L736.5 398.7 L736.6 400.7 L736.7 402.8 L736.8 404.8 L737.1 406.8 L737.4 408.8 L737.5 410.8 L737.4 408.8 L737.7 406.7 L737.8 404.7 L737.6 402.6 L737.9 400.6 L738.1 398.5 L737.8 396.4 L738.2 394.4 L738.0 392.3 L738.1 390.3 L738.3 388.2 L738.0 386.2 L738.1 384.1 L738.5 382.1 L738.3 380.0 L738.1 378.0 L738.3 376.0 L738.4 374.0 L738.5 372.0 L738.5 370.0 L738.7 368.0 L738.6 366.0 L738.2 364.0 L738.3 362.0 L738.3 360.0 L738.5 358.0 L738.3 356.0 L738.6 354.0 L738.7 352.0 L738.5 350.0 L738.8 348.0 L738.6 346.0 L738.9 344.0 L738.6 342.0 L738.8 340.0 L738.8 338.0 L738.6 336.0 L738.9 334.0 L738.5 332.0 L738.8 330.0 L738.7 327.5 L738.7 325.0 L738.9 327.0 L738.7 329.1 L739.0 331.2 L739.3 333.2 L739.3 335.3 L739.2 337.3 L739.2 339.4 L739.7 341.4 L739.4 343.5 L739.8 345.5 L739.8 347.6 L739.9 349.6 L740.0 351.7 L740.0 349.6 L740.3 347.5 L740.3 345.5 L740.4 343.4 L740.3 341.3 L740.3 339.3 L740.0 337.2 L740.0 335.1 L740.5 333.1 L740.4 331.0 L740.4 328.9 L740.3 326.9 L740.3 324.8 L740.7 322.7 L740.5 320.7 L740.3 318.6 L740.5 316.5 L740.5 314.5 L740.4 312.4 L740.9 310.3 L740.9 308.3 L740.9 306.2 L740.5 304.1 L740.8 302.1 L740.8 300.0 L740.7 297.9 L741.2 295.8 L741.3 293.8 L741.4 291.7 L741.5 289.6 L741.3 287.5 L741.3 285.4 L741.7 283.3 L741.5 281.3 L742.0 279.2 L742.0 277.2 L741.9 275.1 L741.8 273.1 L742.2 271.0 L741.9 269.0 L742.1 266.9 L742.0 264.9 L742.6 262.8 L742.3 260.8 L742.6 258.7 L742.5 256.7 L742.7 258.7 L743.1 260.7 L743.3 262.7 L743.7 264.7 L744.2 266.7 L744.1 268.8 L744.1 270.8 L744.7 272.9 L744.5 275.0 L744.8 277.1 L744.9 279.2 L745.0 281.2 L745.0 283.3 L746.3 286.7 L746.7 284.7 L746.2 282.7 L746.5 280.7 L746.4 278.7 L746.9 276.7 L746.7 274.7 L746.9 272.7 L746.9 270.7 L747.1 268.7 L747.0 266.7 L747.0 264.6 L747.2 262.5 L747.5 260.4 L747.6 258.3 L747.8 256.2 L747.6 254.1 L748.0 252.0 L748.1 249.9 L748.1 247.9 L748.2 245.8 L748.3 243.7 L748.4 245.8 L748.7 247.8 L748.8 249.9 L748.7 252.0 L748.9 254.1 L749.0 256.2 L748.7 258.3 L748.8 260.4 L749.0 262.5 L749.2 264.6 L749.2 266.7 L749.5 264.5 L749.7 262.2 L749.8 260.0 L749.8 257.8 L750.2 255.6 L750.3 253.3 L751.7 255.0 L751.8 257.1 L751.9 259.2 L752.1 261.2 L751.7 263.3 L751.9 265.4 L751.8 267.5 L752.3 269.6 L752.3 271.7 L752.3 273.8 L752.6 275.8 L752.5 277.9 L752.5 280.0 L752.9 282.2 L753.3 284.4 L753.7 286.7 L753.6 288.8 L753.9 291.0 L754.0 293.2 L754.2 295.3 L754.2 297.5 L754.5 299.7 L754.9 301.8 L754.5 304.0 L754.7 306.2 L755.0 308.3 L755.4 310.5 L755.5 312.7 L755.6 314.8 L755.6 317.0 L756.0 319.2 L756.3 321.3 L756.2 323.5 L756.6 325.6 L756.6 327.8 L756.7 330.0 L756.7 332.1 L756.8 334.2 L756.9 336.2 L756.8 338.3 L756.8 340.4 L756.8 342.5 L756.7 344.6 L756.7 346.7 L756.8 348.9 L757.0 351.0 L757.2 353.2 L756.9 355.4 L757.1 357.6 L757.3 359.8 L757.7 362.0 L757.5 364.2 L757.5 362.0 L757.9 359.9 L757.8 357.7 L757.7 355.5 L758.2 353.4 L758.3 351.3 L758.0 349.1 L758.3 346.9 L758.4 344.8 L758.3 342.6 L758.5 340.5 L758.7 338.3 L758.5 335.8 L758.3 333.3 L758.5 331.3 L758.5 329.3 L758.6 327.3 L758.5 325.3 L758.4 323.3 L758.4 321.3 L758.9 319.3 L759.0 317.3 L759.1 315.3 L758.7 313.3 L759.1 311.3 L758.8 309.3 L759.0 307.3 L758.9 305.3 L759.2 303.3 L759.5 301.2 L759.6 299.1 L759.8 296.9 L759.8 294.8 L760.2 292.6 L760.1 290.5 L760.3 288.3 L760.4 290.4 L760.4 292.6 L760.7 294.7 L760.7 296.8 L760.9 298.9 L760.6 301.0 L761.0 303.1 L761.1 305.2 L761.1 307.3 L760.9 309.4 L761.0 311.6 L761.1 313.7 L761.0 315.8 L761.1 317.9 L761.3 320.0 L761.3 317.9 L761.5 315.9 L761.4 313.8 L761.6 311.8 L761.6 309.7 L761.6 307.7 L761.9 305.6 L762.3 303.6 L762.2 301.5 L762.0 299.5 L762.2 297.4 L762.5 295.4 L762.5 293.3 L762.6 295.5 L762.9 297.6 L762.9 299.7 L762.8 301.8 L762.8 303.9 L763.2 306.1 L762.9 308.2 L763.2 310.3 L763.1 312.4 L763.2 314.5 L763.3 316.7 L763.4 314.5 L763.8 312.4 L763.6 310.3 L763.7 308.2 L763.9 306.1 L764.2 303.9 L764.3 301.8 L764.3 299.7 L764.3 297.6 L764.5 295.5 L764.5 293.3 L764.5 295.4 L764.3 297.4 L764.4 299.4 L764.5 301.4 L764.9 303.4 L764.7 305.4 L764.8 307.5 L765.0 309.5 L764.7 311.5 L765.1 313.5 L764.9 315.5 L765.0 317.5 L765.1 319.6 L765.0 321.6 L765.0 323.6 L764.9 325.6 L765.0 327.6 L765.1 329.7 L765.3 331.7 L765.3 329.6 L765.5 327.5 L765.5 325.3 L765.8 323.2 L765.6 321.1 L765.6 319.0 L765.5 316.9 L765.8 314.8 L765.9 312.7 L765.8 310.6 L765.8 308.5 L766.0 306.4 L765.9 304.3 L766.0 302.2 L766.2 300.0 L766.2 297.9 L766.3 295.8 L766.5 298.0 L766.6 300.2 L766.8 302.4 L767.1 304.6 L767.3 306.8 L767.2 309.0 L767.1 311.2 L767.5 313.3 L767.8 311.1 L768.2 308.9 L768.7 306.7 L768.8 308.7 L768.7 310.8 L768.9 312.8 L768.8 314.8 L769.3 316.9 L769.3 318.9 L769.3 321.0 L769.3 323.0 L769.3 325.0 L769.4 327.1 L769.1 329.1 L769.5 331.2 L769.5 333.2 L769.3 335.3 L769.6 337.3 L769.7 339.3 L769.6 341.4 L770.0 343.4 L770.2 345.5 L770.0 347.5 L770.3 345.5 L770.1 343.4 L770.2 341.3 L770.0 339.3 L770.4 337.2 L770.3 335.2 L770.5 333.1 L770.3 331.1 L770.7 329.0 L770.5 326.9 L770.5 324.9 L770.9 322.8 L770.6 320.8 L770.7 318.7 L770.8 316.7 L771.0 314.4 L771.3 312.2 L771.1 310.0 L771.3 307.8 L771.7 305.6 L771.7 303.3 L771.5 301.3 L771.7 299.2 L771.9 297.2 L771.8 295.2 L771.9 293.1 L771.6 291.1 L772.0 289.0 L771.7 287.0 L772.0 284.9 L771.8 282.9 L772.0 280.8 L771.8 278.8 L771.7 276.7 L771.7 274.7 L771.9 272.7 L771.7 270.6 L771.7 268.6 L772.1 266.5 L772.0 264.5 L772.2 262.4 L771.8 260.4 L772.0 258.3 L772.2 256.2 L772.3 254.2 L772.3 252.1 L772.6 250.0 L773.0 247.9 L773.0 245.8 L774.5 244.2 L774.4 246.3 L774.6 248.5 L774.6 250.6 L774.5 252.8 L774.5 254.9 L774.7 257.1 L775.0 259.2 L774.6 261.4 L775.1 263.5 L775.1 265.7 L775.2 267.8 L775.0 270.0 L775.1 272.2 L775.1 274.3 L775.3 276.5 L775.3 278.7 L775.6 280.8 L775.4 283.0 L775.6 285.2 L775.8 287.3 L775.6 289.5 L775.8 291.7 L776.1 289.7 L776.1 287.7 L776.2 285.7 L775.8 283.7 L776.0 281.7 L776.1 279.7 L776.0 277.7 L776.3 275.7 L776.4 273.7 L776.1 271.7 L776.3 269.7 L776.6 267.7 L776.6 265.7 L776.4 263.7 L776.2 261.7 L776.5 259.7 L776.6 257.7 L776.7 255.7 L776.5 253.7 L776.7 251.7 L778.3 255.0 L778.6 257.2 L778.3 259.3 L779.0 261.5 L778.8 263.7 L779.2 265.8 L779.0 268.0 L779.3 270.2 L779.2 272.3 L779.7 274.5 L779.7 276.7 L780.0 274.6 L779.8 272.5 L779.8 270.4 L779.9 268.3 L780.0 266.2 L780.3 264.2 L780.7 262.1 L780.5 260.0 L780.8 257.9 L780.8 255.8 L781.1 257.9 L780.9 260.0 L781.0 262.1 L781.3 264.2 L781.1 266.3 L781.2 268.3 L781.3 270.4 L781.1 272.5 L781.3 274.6 L781.6 276.7 L781.7 278.7 L781.8 280.8 L781.7 282.9 L781.7 285.0 L782.0 282.7 L782.4 280.4 L782.6 278.0 L782.9 275.7 L783.0 273.3 L783.3 275.4 L783.0 277.5 L783.1 279.6 L783.3 281.7 L783.1 283.8 L783.3 285.8 L783.7 287.9 L783.7 290.0 L783.8 292.1 L783.6 294.2 L783.6 296.3 L783.6 298.3 L784.1 300.4 L784.2 302.5 L783.7 304.6 L784.2 306.7 L784.2 308.7 L784.2 310.8 L784.5 308.7 L784.1 306.6 L784.6 304.5 L784.7 302.4 L784.6 300.3 L784.8 298.1 L784.5 296.0 L784.9 293.9 L785.0 291.8 L785.2 289.7 L785.2 287.6 L785.0 285.4 L785.3 283.3 L785.2 281.2 L785.5 279.2 L785.2 277.1 L785.3 275.0 L785.4 272.9 L785.7 270.8 L785.7 268.8 L785.6 266.7 L786.0 264.6 L785.8 262.5 L785.7 260.4 L785.8 258.3 L786.0 256.2 L786.3 254.1 L786.3 251.9 L786.5 249.8 L786.7 247.6 L787.1 245.5 L787.0 243.3 L787.2 241.2 L787.1 239.0 L787.4 236.9 L787.4 234.8 L787.6 232.6 L787.8 230.5 L787.8 228.3 L788.2 230.5 L788.1 232.8 L788.3 235.0 L788.3 237.2 L788.4 239.5 L788.7 241.7 L788.8 243.7 L788.8 245.8 L789.0 247.9 L789.1 250.0 L789.1 252.1 L789.1 254.2 L789.4 256.2 L789.2 258.3 L789.4 260.4 L789.6 262.5 L789.7 264.6 L789.7 266.7 L789.9 264.6 L790.0 262.5 L790.0 260.4 L789.7 258.3 L789.7 256.2 L790.0 254.2 L789.7 252.1 L790.0 250.0 L789.9 252.0 L790.1 254.1 L790.4 256.1 L790.4 258.1 L790.4 260.1 L790.8 262.1 L790.7 264.2 L790.6 266.2 L790.8 268.2 L790.9 270.2 L791.3 272.3 L791.3 274.3 L791.4 276.3 L791.3 278.3 L791.7 280.4 L791.5 282.4 L791.7 284.4 L791.6 286.5 L792.0 288.5 L791.9 290.6 L792.3 292.6 L792.4 294.6 L792.5 296.7 L792.7 298.7 L792.8 300.7 L792.6 302.7 L793.0 304.7 L793.4 306.7 L793.3 308.7 L793.5 310.7 L793.4 312.7 L793.5 314.7 L793.7 316.7 L793.9 318.7 L794.1 320.7 L794.4 322.7 L794.9 324.6 L795.0 326.7 L795.8 325.0 L796.2 327.2 L795.9 329.3 L796.0 331.5 L796.1 333.7 L796.2 335.8 L796.6 338.0 L796.4 340.2 L796.3 342.3 L796.5 344.5 L796.7 346.7 L795.3 346.7 L796.1 349.1 L796.7 351.7 L798.3 350.0 L798.6 352.1 L798.3 354.3 L798.5 356.4 L798.8 358.5 L798.6 360.6 L798.6 362.7 L798.7 364.9 L798.9 367.0 L798.8 369.1 L799.3 371.2 L799.2 373.3 L800.3 376.7 L800.4 378.7 L800.3 380.8 L800.6 382.8 L800.8 384.9 L800.5 386.9 L800.7 389.0 L801.1 391.0 L801.2 393.1 L801.0 395.1 L800.9 397.2 L801.1 399.2 L801.1 401.3 L801.3 403.3 L801.2 401.2 L801.6 399.1 L801.5 397.0 L801.7 394.8 L801.7 392.7 L802.0 390.6 L801.8 388.5 L802.3 386.4 L802.4 384.2 L802.6 382.1 L802.5 380.0 L803.8 378.3 L803.8 380.5 L804.2 382.7 L803.9 384.8 L804.1 387.0 L804.0 389.2 L804.3 391.3 L804.6 393.5 L804.4 395.7 L804.8 397.8 L804.7 400.0 L804.8 402.1 L805.2 404.2 L805.4 406.3 L805.8 408.3 L806.0 410.5 L806.2 412.6 L806.1 414.8 L806.2 416.9 L806.4 419.0 L806.7 421.2 L806.7 423.3 L807.4 425.8 L808.0 428.3 L808.0 430.5 L808.3 432.6 L808.4 434.8 L808.4 436.9 L808.4 439.1 L808.8 441.2 L808.7 443.3 L810.0 446.7 L810.3 448.8 L810.3 451.0 L810.8 453.1 L810.8 455.3 L811.3 457.4 L811.6 459.5 L811.7 461.7 L811.6 463.8 L811.4 466.0 L811.4 468.2 L811.6 470.3 L811.3 472.5 L811.6 470.5 L811.8 468.4 L811.9 466.4 L812.1 464.3 L812.3 462.3 L812.3 460.2 L812.7 458.2 L812.6 456.1 L812.9 454.1 L813.3 452.1 L813.3 450.0 L813.6 452.3 L814.0 454.7 L814.3 457.0 L814.7 459.3 L815.0 461.7 L817.0 463.3 L817.2 465.6 L817.3 467.8 L817.7 470.0 L817.7 472.2 L818.0 474.4 L818.0 476.7 L818.0 474.6 L817.7 472.5 L817.3 470.4 L816.7 468.4 L816.8 466.2 L816.3 464.2 L816.3 462.1 L815.8 460.0 L815.9 462.1 L816.1 464.2 L816.1 466.3 L816.5 468.3 L816.4 470.4 L816.7 472.5 L816.7 474.6 L817.0 476.7 L817.0 478.8 L817.5 480.8 L817.5 482.9 L817.7 485.0 L818.0 487.1 L817.8 489.2 L818.1 491.3 L818.3 493.3 L818.5 495.5 L818.6 497.6 L818.5 499.8 L819.0 501.9 L819.0 504.0 L819.0 506.2 L819.2 508.3 L819.7 510.3 L820.3 512.2 L820.8 514.2 L820.8 512.1 L820.9 510.1 L821.3 508.1 L821.2 506.1 L821.6 504.1 L821.7 502.0 L821.7 500.0 L822.1 497.9 L822.0 495.8 L822.3 493.8 L822.3 491.6 L822.6 489.6 L822.7 487.5 L823.1 485.4 L823.3 483.3 L824.7 481.7 L824.6 483.7 L824.8 485.7 L825.1 487.8 L825.3 489.8 L825.1 491.9 L825.7 493.9 L825.4 495.9 L825.5 498.0 L825.8 500.0 L825.8 497.7 L826.3 495.3 L826.4 493.0 L826.5 490.7 L826.7 488.3 L826.8 490.5 L826.9 492.7 L827.1 494.8 L827.0 497.0 L827.1 499.2 L827.6 501.3 L827.9 503.5 L827.6 505.7 L827.8 507.8 L828.0 510.0 L828.2 512.0 L828.6 514.0 L828.8 516.0 L828.8 518.0 L829.2 520.0 L829.5 522.2 L829.7 524.4 L829.8 526.7 L830.4 528.9 L830.5 531.1 L830.8 533.3 L832.5 536.7 L833.0 538.9 L833.3 541.1 L833.7 543.3 L833.9 545.4 L834.4 547.5 L834.6 549.6 L835.0 551.7 L835.3 549.3 L835.5 547.0 L835.6 544.7 L835.8 542.3 L835.8 540.0 L836.1 537.9 L836.3 535.8 L836.6 533.8 L836.7 531.7 L837.4 529.6 L838.0 527.5 L838.0 529.8 L838.1 532.0 L838.4 534.3 L838.5 536.5 L838.6 538.8 L838.4 541.1 L838.7 543.3 L838.8 545.5 L839.3 547.7 L839.3 549.9 L839.9 552.0 L840.0 554.2 L840.0 552.1 L840.3 550.1 L840.4 548.1 L841.0 546.1 L840.9 544.0 L841.1 542.0 L841.3 540.0 L841.6 537.9 L841.5 535.8 L841.6 533.8 L841.6 531.7 L841.7 529.6 L842.1 527.5 L841.8 525.4 L842.0 523.3 L842.2 521.3 L842.4 519.3 L842.5 517.3 L842.7 515.3 L843.0 513.3 L843.1 511.3 L843.3 509.3 L843.2 507.3 L843.1 505.3 L843.6 503.3 L843.3 501.3 L843.8 499.3 L843.4 497.3 L843.8 495.3 L843.6 493.3 L843.7 491.3 L843.9 489.3 L844.1 487.3 L844.1 485.3 L844.2 483.3 L844.2 481.3 L844.3 479.3 L844.5 477.2 L844.4 475.2 L844.9 473.2 L844.6 471.1 L844.6 469.1 L844.9 467.0 L845.0 465.0 L845.1 467.0 L845.0 469.1 L845.4 471.1 L845.2 473.2 L845.4 475.3 L845.2 477.3 L845.6 479.4 L845.5 481.4 L845.7 483.5 L845.6 485.5 L845.8 487.6 L845.7 489.6 L845.8 491.7 L846.0 493.8 L846.1 496.0 L846.4 498.1 L846.5 500.2 L846.6 502.4 L846.7 504.5 L847.0 506.7 L847.0 508.9 L847.2 511.0 L847.4 513.2 L847.5 515.4 L847.5 517.6 L847.5 519.8 L847.6 522.0 L847.5 524.2 L847.7 522.0 L847.6 519.9 L848.0 517.8 L847.7 515.6 L847.8 513.5 L847.9 511.4 L848.0 509.3 L848.3 507.1 L848.3 505.0 L848.4 503.0 L848.1 501.0 L848.4 498.9 L848.3 496.9 L848.2 494.9 L848.2 492.9 L848.2 490.9 L848.1 488.8 L847.9 486.8 L848.0 484.8 L848.3 482.8 L848.0 480.8 L848.1 478.7 L847.8 476.7 L848.1 474.7 L848.1 472.7 L847.8 470.7 L847.8 468.6 L847.9 466.6 L847.7 464.6 L847.6 462.6 L847.6 460.6 L847.9 458.5 L847.7 456.5 L847.9 454.5 L847.9 452.5 L847.9 450.5 L847.9 448.4 L847.8 446.4 L847.3 444.4 L847.4 442.4 L847.8 440.4 L847.5 438.3 L847.7 436.3 L847.6 434.3 L847.7 432.3 L847.6 430.3 L847.7 428.3 L847.6 426.3 L847.8 424.3 L847.7 422.3 L847.7 420.3 L848.1 418.3 L848.0 416.3 L848.2 414.3 L847.9 412.3 L848.1 410.3 L848.0 408.3 L848.3 406.3 L848.1 404.3 L848.3 402.3 L848.3 400.3 L848.3 398.3 L848.5 400.4 L848.7 402.5 L848.5 404.7 L848.5 406.8 L848.4 408.9 L848.8 411.0 L848.9 413.1 L848.9 415.2 L848.7 417.3 L849.0 419.4 L848.9 421.6 L849.3 423.7 L849.3 425.8 L849.0 427.9 L849.2 430.0 L849.3 432.1 L849.6 434.2 L849.5 436.2 L849.4 438.3 L849.7 440.4 L849.8 442.5 L849.9 444.6 L850.0 446.7 L850.0 448.8 L850.4 450.8 L849.9 452.9 L850.2 455.0 L850.3 457.1 L850.4 459.2 L850.5 461.2 L850.2 463.3 L850.3 465.4 L850.6 467.5 L850.5 469.6 L850.6 471.7 L850.8 473.7 L851.0 475.8 L850.7 477.9 L850.8 480.0 L850.7 477.9 L851.0 475.8 L850.8 473.7 L850.9 471.7 L851.1 469.6 L851.4 467.5 L851.5 465.4 L851.8 463.3 L851.7 461.3 L851.7 459.2 L851.5 457.1 L852.1 455.0 L851.9 452.9 L852.2 450.8 L851.8 448.7 L852.3 446.7 L852.2 444.6 L852.2 442.5 L852.4 440.4 L852.5 438.3 L852.3 436.2 L852.7 434.2 L852.6 432.1 L852.9 430.0 L852.7 427.9 L853.0 425.8 L853.0 423.8 L853.2 421.7 L853.4 419.6 L853.1 417.5 L853.4 415.4 L853.3 413.3 L854.2 410.0 L854.3 412.0 L854.1 414.1 L854.2 416.1 L854.3 418.2 L854.4 420.2 L854.7 422.2 L854.4 424.3 L854.4 426.3 L854.5 428.3 L854.9 430.4 L854.7 432.4 L854.8 434.4 L854.8 436.5 L854.9 438.5 L855.2 440.6 L855.3 442.6 L855.1 444.6 L855.3 446.7 L855.3 448.8 L855.5 450.8 L855.3 452.9 L855.9 455.0 L855.9 457.1 L855.8 459.2 L856.0 461.2 L855.7 463.3 L856.2 465.4 L855.8 467.5 L856.2 469.6 L856.2 471.7 L856.0 469.6 L856.4 467.5 L856.3 465.4 L856.2 463.3 L856.3 461.3 L856.3 459.2 L856.6 457.1 L856.4 455.0 L856.4 452.9 L856.4 450.8 L856.4 448.7 L856.6 446.7 L856.3 444.6 L856.6 442.5 L856.8 440.4 L856.7 438.3 L856.6 436.3 L856.5 434.2 L856.4 432.1 L856.7 430.0 L856.5 427.9 L856.8 425.8 L857.0 423.8 L857.1 421.7 L856.8 419.6 L857.1 417.5 L857.2 415.4 L857.1 413.3 L857.3 411.3 L857.0 409.2 L857.2 407.1 L857.3 405.0 L857.5 402.9 L857.4 400.8 L857.3 398.7 L857.5 396.7 L857.8 394.6 L857.7 392.5 L857.8 390.4 L857.8 388.3 L858.0 386.2 L858.2 384.2 L858.2 382.1 L858.3 380.0 L858.5 377.9 L858.5 375.8 L858.4 373.7 L859.0 371.7 L858.7 369.6 L859.0 367.5 L859.3 365.4 L859.2 363.3 L859.0 361.3 L858.9 359.2 L859.0 357.2 L859.0 355.1 L859.3 353.1 L859.1 351.0 L858.9 349.0 L859.0 346.9 L859.1 344.9 L858.9 342.8 L859.0 340.8 L859.3 338.7 L859.1 336.7 L858.9 334.6 L859.1 332.6 L858.9 330.5 L859.1 328.5 L859.1 326.4 L858.8 324.4 L859.1 322.3 L858.9 320.3 L859.2 318.2 L859.1 316.2 L859.2 314.1 L859.1 312.1 L858.8 310.0 L859.0 308.0 L859.3 310.0 L859.1 312.0 L859.1 314.0 L859.6 316.0 L859.5 318.0 L859.7 320.0 L859.7 322.0 L859.5 324.0 L859.8 326.0 L859.8 328.0 L860.0 330.0 L859.9 332.0 L860.2 334.0 L860.1 336.0 L860.3 338.0 L860.3 340.0 L860.3 342.0 L860.3 344.0 L860.6 346.0 L860.3 348.0 L860.8 350.0 L860.7 352.0 L860.5 354.0 L860.5 356.0 L860.9 358.0 L860.6 360.0 L861.2 362.0 L861.0 364.0 L861.3 362.0 L860.9 360.0 L860.9 358.0 L861.3 356.0 L861.1 354.0 L861.4 352.0 L861.1 350.0 L861.2 348.0 L861.4 346.0 L861.3 344.0 L861.5 342.0 L861.5 340.0 L861.8 338.0 L861.7 336.0 L862.0 334.0 L862.0 332.0 L861.7 330.0 L862.1 328.0 L862.2 326.0 L862.0 324.0 L862.0 326.0 L862.1 328.0 L862.3 330.0 L862.3 332.0 L862.4 334.0 L862.4 336.0 L862.3 338.0 L862.5 340.0 L862.3 342.0 L862.4 344.0 L862.3 346.0 L862.8 348.0 L862.4 350.0 L862.6 352.0 L862.6 354.0 L862.9 356.0 L862.7 358.0 L862.9 360.0 L862.7 362.0 L862.9 364.0 L863.1 366.0 L863.0 368.0 L863.0 366.0 L863.3 364.0 L862.9 362.0 L863.3 360.0 L863.3 358.0 L863.5 356.0 L863.3 354.0 L863.5 352.0 L863.5 350.0 L863.7 348.0 L863.4 346.0 L863.7 344.0 L863.6 342.0 L863.9 340.0 L863.7 338.0 L863.8 336.0 L863.8 334.0 L864.3 332.0 L864.0 330.0 L864.4 328.0 L864.4 326.0 L864.2 324.0 L864.4 322.0 L864.4 320.0 L865.6 318.0 L865.9 320.0 L865.5 322.1 L865.7 324.1 L866.0 326.1 L865.9 328.2 L865.9 330.2 L865.9 332.3 L866.1 334.3 L865.9 336.4 L866.1 338.4 L866.4 340.4 L866.1 342.5 L866.1 344.5 L866.5 346.5 L866.3 348.6 L866.3 350.6 L866.3 352.7 L866.8 354.7 L866.4 356.7 L866.8 358.8 L866.6 360.8 L866.7 362.8 L866.9 364.9 L866.7 366.9 L866.8 369.0 L867.0 371.0 L867.3 369.0 L867.3 366.9 L867.1 364.9 L867.2 362.8 L867.2 360.8 L867.1 358.8 L867.2 356.7 L867.2 354.7 L867.1 352.6 L867.1 350.6 L867.5 348.6 L867.5 346.5 L867.4 344.5 L867.4 342.4 L867.4 340.4 L867.4 338.4 L867.5 336.3 L867.2 334.3 L867.4 332.2 L867.7 330.2 L867.3 328.2 L867.5 326.1 L867.3 324.1 L867.4 322.0 L867.6 320.0 L867.8 318.0 L867.4 316.0 L867.8 314.0 L867.8 312.0 L867.9 310.0 L867.5 308.0 L867.9 306.0 L867.6 304.0 L867.7 302.0 L868.0 300.0 L867.8 298.0 L867.9 296.0 L867.6 294.0 L867.5 292.0 L867.7 290.0 L867.6 288.0 L868.0 286.0 L867.7 284.0 L868.1 282.0 L868.0 280.0 L867.7 278.0 L868.0 276.0 L867.8 274.0 L867.9 272.0 L867.7 270.0 L868.1 268.0 L868.1 266.0 L868.0 264.0 L868.1 262.0 L868.0 260.0 L868.0 258.0 L868.0 256.0 L868.2 254.0 L868.6 252.0 L868.6 250.0 L868.5 248.0 L868.7 246.0 L868.9 244.0 L868.8 242.0 L868.9 240.0 L869.2 238.0 L869.2 236.0 L869.7 234.0 L869.6 232.0 L870.0 234.0 L870.1 236.0 L870.3 238.0 L870.8 240.0 L871.0 242.0 L871.0 244.0 L870.8 246.0 L871.0 248.0 L871.2 250.0 L870.9 252.0 L871.3 254.0 L871.0 256.0 L871.4 258.0 L871.4 260.0 L871.4 262.0 L871.3 264.0 L871.2 266.0 L871.3 268.0 L871.7 270.0 L871.3 272.0 L871.4 274.0 L871.6 276.0 L871.4 278.0 L871.9 280.0 L871.6 282.0 L871.6 284.0 L871.6 286.0 L871.7 288.0 L872.1 290.0 L871.9 292.0 L872.0 294.0 L871.9 296.0 L872.0 298.0 L872.0 300.0 L872.1 302.0 L872.0 304.0 L872.0 306.0 L871.9 308.0 L872.3 310.0 L872.3 312.0 L872.4 314.0 L872.5 316.0 L872.1 318.0 L872.1 320.0 L872.5 322.0 L872.4 324.0 L872.2 326.0 L872.2 328.0 L872.2 330.0 L872.2 332.0 L872.6 334.0 L872.8 336.0 L872.7 338.0 L872.6 340.0 L872.9 342.0 L872.8 344.0 L872.7 346.0 L872.6 348.0 L872.9 350.0 L873.0 352.0 L872.9 354.0 L873.1 356.0 L873.1 358.0 L873.1 360.0 L872.8 362.0 L872.8 364.0 L873.0 366.0 L872.8 364.0 L873.3 362.0 L873.4 360.0 L873.4 358.0 L873.3 356.0 L873.6 354.0 L873.3 352.0 L873.4 350.0 L873.9 348.0 L873.6 346.0 L874.1 344.0 L874.1 342.0 L874.0 340.0 L873.8 338.0 L873.9 336.0 L874.3 334.0 L874.1 332.0 L874.4 330.0 L874.5 328.0 L874.4 326.0 L874.6 324.0 L874.5 322.0 L874.9 320.0 L874.9 318.0 L875.0 316.0 L875.0 314.0 L875.0 312.0 L875.4 310.0 L876.0 308.0 L875.9 310.0 L876.0 312.0 L876.3 314.0 L876.4 316.0 L876.5 318.0 L876.5 320.0 L876.7 322.0 L876.9 324.0 L876.9 326.0 L877.2 328.0 L877.4 330.0 L877.2 332.0 L877.1 334.0 L877.3 336.0 L877.7 338.0 L877.6 340.0 L877.7 338.0 L877.8 336.0 L877.9 334.0 L878.0 332.0 L878.1 330.0 L878.3 328.0 L878.5 326.0 L878.4 324.0 L878.7 322.0 L878.7 320.0 L878.5 318.0 L878.7 316.0 L878.8 314.0 L879.0 312.0 L879.0 310.0 L879.1 308.0 L879.1 306.0 L879.5 304.0 L879.4 302.0 L879.3 300.0 L879.5 298.0 L879.7 296.0 L879.4 294.0 L879.7 292.0 L879.9 290.0 L879.7 288.0 L880.0 286.0 L880.0 284.0 L879.8 282.0 L880.0 280.0 L879.9 278.0 L880.3 276.0 L880.2 274.0 L880.2 272.0 L880.3 270.0 L880.5 268.0 L880.7 266.0 L880.8 264.0 L880.7 262.0 L880.5 260.0 L880.7 258.0 L880.5 256.0 L880.7 254.0 L880.8 252.0 L881.0 250.0 L880.9 247.9 L881.2 245.7 L881.1 243.6 L881.4 241.4 L881.4 239.3 L881.4 237.1 L881.6 235.0 L881.6 237.0 L881.8 239.1 L882.0 241.1 L881.7 243.2 L881.8 245.2 L881.8 247.3 L882.2 249.3 L882.2 251.4 L882.1 253.4 L882.4 255.4 L882.0 257.5 L882.3 259.5 L882.4 261.6 L882.7 263.6 L882.7 265.7 L882.7 267.7 L882.4 269.8 L882.9 271.8 L882.8 273.9 L883.1 275.9 L882.7 278.0 L883.0 280.0 L883.2 278.0 L883.3 276.0 L883.4 274.0 L883.1 272.0 L883.2 270.0 L883.2 268.0 L883.5 266.0 L883.4 264.0 L883.5 262.0 L883.6 260.0 L884.0 258.0 L884.0 256.0 L883.8 254.0 L884.3 252.0 L883.9 250.0 L884.0 248.0 L884.2 246.0 L884.5 244.0 L884.4 242.0 L884.7 244.0 L884.5 246.0 L884.8 248.0 L884.8 250.0 L885.2 252.0 L885.4 254.0 L885.5 256.0 L885.3 258.0 L885.6 260.0 L885.7 262.1 L885.7 264.2 L886.2 266.2 L886.3 268.3 L886.4 270.4 L886.2 272.5 L886.4 274.6 L886.9 276.7 L886.7 278.8 L887.2 280.8 L887.1 282.9 L887.2 285.0 L887.2 282.9 L887.5 280.9 L887.6 278.8 L887.7 276.7 L887.5 274.6 L887.5 272.5 L887.9 270.5 L888.0 268.4 L887.8 266.3 L888.3 264.2 L888.4 262.2 L888.2 260.1 L888.4 258.0 L888.5 260.0 L888.6 262.0 L888.6 264.0 L888.9 266.0 L889.1 268.0 L889.1 270.0 L889.4 272.0 L889.8 274.0 L889.7 276.0 L889.9 278.0 L890.0 280.0 L890.0 278.0 L890.0 276.0 L890.0 274.0 L890.1 272.0 L890.4 270.0 L890.5 268.0 L890.3 266.0 L890.6 264.0 L890.2 262.0 L890.5 260.0 L890.7 258.0 L890.8 256.0 L890.6 254.0 L890.5 252.0 L891.0 250.0 L890.9 248.0 L890.9 246.0 L890.8 244.0 L890.7 242.0 L891.0 240.0 L891.5 237.7 L891.9 235.3 L892.4 233.0 L892.3 235.1 L892.6 237.2 L892.7 239.3 L892.9 241.4 L893.0 243.5 L893.5 245.5 L893.2 247.7 L893.5 249.7 L893.7 251.8 L894.0 253.9 L894.0 256.0 L894.0 254.0 L894.5 252.0 L894.7 250.0 L894.8 248.0 L894.8 246.0 L895.1 244.0 L895.4 242.0 L895.5 240.0 L895.6 238.0 L896.2 235.7 L896.4 233.3 L897.0 231.0 L897.0 233.1 L897.6 235.2 L897.4 237.3 L897.6 239.4 L898.0 241.5 L898.0 243.7 L898.0 245.8 L898.0 247.9 L898.4 250.0 L898.7 252.0 L898.6 254.0 L898.5 256.0 L899.0 258.0 L898.6 260.0 L898.7 262.0 L899.1 264.0 L899.3 266.0 L899.4 268.0 L899.5 270.0 L899.5 272.0 L899.4 274.0 L899.6 276.0 L899.6 278.0 L900.0 280.0 L900.0 282.0 L900.4 284.0 L900.5 286.0 L901.0 288.0 L901.0 290.0 L901.2 292.0 L901.6 294.0 L901.7 296.0 L901.5 298.0 L902.0 300.0 L902.0 302.0 L902.1 304.0 L902.2 306.0 L902.4 308.0 L902.9 310.0 L903.2 312.0 L903.3 314.0 L903.7 316.0 L904.0 318.0 L904.3 320.0 L904.2 322.0 L904.3 324.0 L904.1 326.0 L904.7 328.0 L904.7 330.0 L904.9 332.0 L904.7 334.0 L904.6 336.0 L904.8 338.0 L905.0 340.0 L905.8 342.0 L906.4 344.0 L906.6 342.0 L906.6 340.0 L907.1 338.0 L907.2 336.0 L907.3 334.0 L907.2 332.0 L907.5 330.0 L907.7 328.0 L907.8 326.0 L908.0 324.0 L908.1 322.0 L907.9 320.0 L908.1 318.0 L908.5 316.0 L908.2 314.0 L908.4 312.0 L908.5 310.0 L908.6 308.0 L908.7 306.0 L908.5 304.0 L908.8 302.0 L908.5 300.0 L908.8 298.0 L908.6 296.0 L908.7 294.0 L908.8 292.0 L909.0 290.0 L909.0 288.0 L909.3 286.0 L909.0 284.0 L909.5 282.0 L909.1 280.0 L909.7 278.0 L909.7 276.0 L909.6 274.0 L909.8 272.0 L910.0 270.0 L909.8 268.0 L910.0 266.0 L909.7 264.0 L910.0 262.0 L911.6 264.0 L911.8 262.0 L911.9 259.9 L912.0 257.9 L911.8 255.8 L911.9 253.7 L912.2 251.7 L912.4 249.7 L912.4 247.6 L912.4 249.6 L912.8 251.6 L912.6 253.7 L912.5 255.7 L913.0 257.7 L912.8 259.7 L912.8 261.8 L913.0 263.8 L913.2 265.8 L913.3 267.8 L913.4 269.8 L913.7 271.9 L913.8 273.9 L913.8 275.9 L913.9 277.9 L913.6 280.0 L914.0 282.0 L914.0 284.0 L914.3 281.9 L914.2 279.9 L914.5 277.8 L914.6 275.8 L914.6 273.7 L914.6 271.6 L914.6 269.6 L914.8 267.5 L914.8 265.4 L915.2 263.4 L914.9 261.3 L915.3 259.3 L915.2 257.2 L915.4 255.1 L915.5 253.1 L915.6 251.0 L915.4 253.1 L915.5 255.2 L916.0 257.2 L915.8 259.3 L915.9 261.4 L916.2 263.4 L916.3 265.5 L916.6 267.6 L916.3 269.7 L916.6 271.7 L916.6 273.8 L916.6 275.9 L916.8 277.9 L917.0 280.0 L918.4 278.0 L918.4 280.0 L918.6 282.0 L918.9 284.0 L918.9 286.0 L919.2 288.0 L919.2 290.0 L918.9 292.0 L919.3 294.0 L919.6 296.0 L919.5 298.0 L919.6 300.0 L919.5 298.0 L919.9 296.0 L919.9 294.0 L920.0 292.0 L920.4 290.0 L920.7 288.0 L920.3 286.0 L920.8 284.0 L920.9 282.0 L921.0 280.0 L921.1 282.0 L921.1 284.0 L921.4 286.0 L921.3 288.0 L921.2 290.0 L921.4 292.0 L921.1 294.0 L921.5 296.0 L921.3 298.0 L921.3 300.0 L921.4 302.0 L921.6 304.0 L921.7 306.0 L921.5 308.0 L922.0 310.0 L921.9 312.0 L922.1 314.0 L921.9 316.0 L922.0 318.0 L922.0 320.0 L921.9 322.0 L922.0 324.0 L922.4 326.0 L922.4 328.0 L922.7 330.0 L922.5 332.0 L922.7 334.0 L923.0 336.0 L922.7 338.0 L923.0 340.0 L923.1 342.0 L922.9 344.0 L922.7 346.0 L922.4 348.0 L922.5 350.0 L922.8 352.0 L922.8 354.0 L922.6 356.0 L923.0 358.0 L922.8 360.1 L923.3 362.0 L923.3 364.1 L923.4 366.1 L923.2 368.1 L923.7 370.1 L923.5 372.1 L923.5 374.1 L923.5 376.1 L923.7 378.1 L924.2 380.1 L924.1 382.2 L924.2 384.2 L924.1 382.2 L924.1 380.1 L924.2 378.1 L924.5 376.1 L924.5 374.1 L924.3 372.1 L924.4 370.1 L924.3 368.1 L924.8 366.1 L924.8 364.1 L924.7 362.1 L925.0 360.1 L925.1 358.0 L924.7 356.0 L924.8 354.0 L924.8 352.0 L925.0 350.0 L925.2 348.0 L925.3 346.0 L925.4 343.9 L925.6 341.9 L925.6 339.9 L925.6 337.9 L925.8 335.8 L925.8 338.0 L925.8 340.1 L926.3 342.2 L926.2 344.3 L926.5 346.4 L926.2 348.5 L926.5 350.6 L926.4 352.8 L926.5 354.9 L926.5 357.0 L926.8 359.1 L926.9 361.2 L927.0 363.3 L927.9 360.9 L928.7 358.3 L928.7 360.4 L929.1 362.5 L929.4 364.6 L929.1 366.7 L929.7 368.7 L929.5 370.9 L929.6 372.9 L930.0 375.0 L930.2 377.2 L930.4 379.5 L930.8 381.7 L931.0 379.5 L931.2 377.4 L931.2 375.2 L931.2 373.1 L931.2 370.9 L931.7 368.8 L931.7 366.7 L931.8 364.7 L931.7 362.6 L932.0 360.6 L932.0 358.6 L932.1 356.6 L932.5 354.6 L932.5 352.6 L932.7 350.6 L932.8 348.6 L932.7 346.5 L932.9 344.5 L933.0 342.5 L933.1 344.5 L933.3 346.5 L933.1 348.5 L933.2 350.6 L933.6 352.6 L933.5 354.6 L933.8 356.6 L934.0 358.6 L933.8 360.6 L933.8 362.6 L934.2 364.6 L934.2 366.7 L934.2 368.7 L934.4 370.7 L934.7 372.7 L934.7 374.7 L935.0 376.7 L935.4 374.5 L935.5 372.2 L935.8 370.0 L935.7 372.0 L936.0 374.0 L936.2 376.0 L936.2 378.0 L936.2 380.0 L936.3 382.0 L936.5 384.0 L936.7 386.0 L936.5 388.0 L936.5 390.0 L936.6 392.0 L936.8 394.0 L936.7 396.0 L937.2 398.0 L937.0 400.0 L937.3 397.8 L937.8 395.5 L938.3 393.3 L938.4 395.5 L938.6 397.7 L938.9 399.8 L938.9 402.0 L939.3 404.2 L939.4 406.3 L939.0 408.5 L939.2 410.7 L939.8 412.8 L939.7 415.0 L939.8 412.8 L939.8 410.7 L939.9 408.5 L940.1 406.3 L940.1 404.2 L940.3 402.0 L940.2 399.8 L940.4 397.7 L940.1 395.5 L940.3 393.3 L940.7 391.0 L940.7 388.7 L941.1 386.3 L941.2 384.0 L941.3 381.7 L942.5 383.3 L942.4 385.4 L942.7 387.5 L943.0 389.6 L943.1 391.7 L943.1 393.8 L943.6 395.8 L943.5 397.9 L943.7 400.0 L944.0 397.7 L944.4 395.3 L944.6 393.0 L945.0 390.7 L945.3 388.3 L945.4 390.7 L945.8 393.0 L945.9 395.3 L946.0 397.7 L946.3 400.0 L946.4 397.9 L946.6 395.8 L946.8 393.7 L947.1 391.7 L946.9 389.6 L947.1 387.5 L947.3 385.4 L947.5 383.3 L948.1 380.8 L948.7 378.3 L948.7 376.3 L949.2 374.3 L949.3 372.3 L949.5 370.3 L949.7 368.3 L950.8 366.7 L951.0 368.7 L951.4 370.8 L951.3 372.9 L951.4 375.0 L951.8 377.1 L951.5 379.2 L951.8 381.3 L952.0 383.3 L952.2 381.1 L952.2 378.9 L952.6 376.7 L952.8 374.4 L953.2 372.2 L953.3 370.0 L953.6 372.1 L953.5 374.2 L953.7 376.2 L953.6 378.3 L953.6 380.4 L953.7 382.5 L953.7 384.6 L953.8 386.7 L954.2 388.7 L953.9 390.8 L954.1 392.9 L954.2 395.0 L954.4 393.0 L954.5 391.0 L954.3 388.9 L954.6 386.9 L954.3 384.9 L954.6 382.9 L954.3 380.8 L954.8 378.8 L954.7 376.8 L954.7 374.8 L954.8 372.7 L954.8 370.7 L954.8 368.7 L955.0 366.7 L955.2 364.6 L955.3 362.5 L955.1 360.4 L955.3 358.3 L955.7 356.3 L955.5 354.2 L955.6 352.1 L955.8 350.0 L956.0 347.9 L956.0 345.8 L956.4 343.8 L956.5 341.7 L956.2 339.6 L956.3 337.5 L956.4 335.4 L956.7 333.3 L956.7 331.2 L956.8 329.2 L957.1 327.1 L957.3 325.0 L957.0 322.9 L957.1 320.8 L957.2 318.7 L957.5 316.7 L957.0 314.0 L957.3 316.0 L957.5 318.0 L957.6 320.0 L957.8 322.0 L957.8 324.0 L957.8 326.0 L958.0 328.0 L958.4 330.0 L958.4 327.9 L958.7 325.9 L958.5 323.8 L958.8 321.8 L959.1 319.7 L959.1 317.7 L958.8 315.6 L958.9 313.5 L959.4 311.5 L959.4 309.4 L959.5 307.4 L959.2 305.3 L959.6 303.3 L959.4 301.2 L959.9 299.2 L960.0 297.1 L959.8 295.1 L960.0 293.0 L960.4 295.1 L960.1 297.2 L960.1 299.3 L960.4 301.4 L960.6 303.6 L960.8 305.7 L960.6 307.8 L960.6 309.9 L961.0 312.0 L961.2 314.0 L961.5 316.0 L961.2 318.0 L961.7 320.0 L961.8 322.0 L962.0 324.0 L962.0 326.0 L962.0 328.0 L962.4 330.0 L962.6 328.0 L962.9 326.0 L962.9 324.0 L963.1 322.0 L963.5 320.0 L963.7 318.0 L963.8 316.0 L963.9 314.0 L964.0 312.0 L964.4 310.0 L964.6 308.0 L964.8 306.0 L964.8 304.0 L964.9 302.0 L965.0 300.0 L965.4 298.0 L965.6 296.0 L966.6 293.0 L966.7 295.0 L967.0 297.1 L966.5 299.2 L967.0 301.2 L966.7 303.2 L967.2 305.3 L967.1 307.3 L967.0 309.4 L967.1 311.4 L967.1 313.5 L967.3 315.5 L967.6 317.6 L967.3 319.6 L967.5 321.7 L969.2 323.3 L969.5 321.3 L969.6 319.2 L969.8 317.1 L970.2 315.0 L970.2 312.9 L970.4 310.8 L970.6 308.7 L970.8 306.7 L971.1 308.7 L971.4 310.7 L971.9 312.7 L972.1 314.7 L972.5 316.7 L972.7 318.7 L972.6 320.8 L972.9 322.9 L972.7 325.0 L972.8 327.1 L973.0 329.2 L973.3 331.2 L973.3 333.3 L973.5 331.1 L973.8 328.8 L974.1 326.6 L974.1 324.3 L974.5 322.0 L975.0 319.8 L975.0 317.5 L975.4 319.7 L975.3 322.0 L975.7 324.3 L975.7 326.6 L976.1 328.8 L976.3 331.1 L976.7 333.3 L977.0 335.6 L977.6 337.8 L978.0 340.0 L978.0 338.0 L978.5 336.0 L978.7 334.0 L978.8 332.0 L978.7 330.0 L979.0 328.0 L979.2 326.0 L979.3 324.0 L979.5 322.0 L979.7 320.0 L979.9 322.2 L979.9 324.5 L980.2 326.7 L980.2 328.9 L980.5 331.1 L980.8 333.3 L981.1 335.5 L980.9 337.7 L981.1 339.8 L981.1 342.0 L981.2 344.2 L981.2 346.3 L981.5 348.5 L981.4 350.7 L981.7 352.8 L981.7 355.0 L982.0 352.9 L982.0 350.8 L982.2 348.8 L982.6 346.7 L982.4 344.6 L982.4 342.5 L983.0 340.4 L983.0 338.3 L983.2 340.7 L983.4 343.0 L983.6 345.3 L983.8 347.7 L984.2 350.0 L984.3 352.1 L984.0 354.2 L984.4 356.2 L984.3 358.3 L984.3 360.4 L984.7 362.5 L984.7 364.6 L984.8 366.7 L984.9 368.7 L984.9 370.8 L984.7 372.9 L985.0 375.0 L985.4 377.1 L985.2 379.3 L985.4 381.4 L985.7 383.6 L985.9 385.7 L986.2 387.8 L986.3 390.0 L986.6 387.9 L986.7 385.8 L986.6 383.6 L986.8 381.5 L986.7 379.4 L986.8 377.3 L987.3 375.2 L987.3 373.0 L987.3 370.9 L987.5 368.8 L987.5 366.7 L987.4 364.6 L987.4 362.6 L987.7 360.6 L987.9 358.5 L987.8 356.5 L988.1 354.4 L988.1 352.4 L988.1 350.4 L988.3 348.3 L988.3 350.4 L988.6 352.4 L988.6 354.4 L988.7 356.4 L989.0 358.4 L989.3 360.5 L989.0 362.5 L989.3 364.5 L989.4 366.6 L989.4 368.6 L989.6 370.6 L989.5 372.6 L990.1 374.6 L990.0 376.7 L990.3 374.6 L990.2 372.6 L990.1 370.5 L990.5 368.5 L990.5 366.4 L990.4 364.4 L990.2 362.3 L990.6 360.3 L990.5 358.2 L990.7 356.2 L990.9 354.1 L990.6 352.0 L990.8 350.0 L991.4 347.9 L991.6 345.8 L992.0 343.7 L992.5 341.7 L992.6 339.3 L992.8 337.0 L993.1 334.7 L993.4 332.3 L993.7 330.0 L993.6 332.1 L994.2 334.2 L994.3 336.2 L994.4 338.3 L994.4 340.4 L994.7 342.5 L994.7 344.6 L995.0 346.7 L995.3 348.7 L995.5 350.7 L995.4 352.8 L995.5 354.8 L995.9 356.8 L996.1 358.9 L995.9 360.9 L996.4 362.9 L996.3 365.0 L996.7 362.9 L996.8 360.7 L996.7 358.6 L997.0 356.4 L997.0 354.3 L997.1 352.1 L997.5 350.0 L999.2 348.3 L1000.8 345.0 L1001.0 347.2 L1000.8 349.3 L1000.9 351.5 L1001.0 353.7 L1001.2 355.8 L1001.3 358.0 L1001.4 360.2 L1001.4 362.3 L1001.6 364.5 L1001.7 366.7 L1001.9 364.3 L1002.3 362.0 L1002.4 359.7 L1002.7 357.3 L1003.0 355.0 L1003.2 357.3 L1003.3 359.7 L1003.8 362.0 L1004.0 364.3 L1004.2 366.7 L1004.3 368.7 L1004.5 370.8 L1004.4 372.8 L1004.3 374.9 L1004.7 376.9 L1004.6 379.0 L1004.7 381.0 L1004.6 383.1 L1004.6 385.1 L1005.0 387.2 L1004.9 389.2 L1005.1 391.3 L1005.0 393.3 L1005.0 395.4 L1005.1 397.5 L1005.5 399.6 L1005.6 401.7 L1005.6 403.7 L1005.7 405.8 L1005.5 407.9 L1005.8 410.0 L1006.2 407.9 L1006.4 405.8 L1006.4 403.7 L1006.6 401.7 L1006.7 399.6 L1007.1 397.5 L1007.5 395.4 L1007.5 393.3 L1008.0 391.4 L1008.6 389.4 L1009.2 387.5 L1009.5 389.6 L1009.4 391.7 L1009.8 393.7 L1009.9 395.8 L1010.3 397.9 L1010.3 400.0 L1010.7 402.2 L1011.2 404.4 L1011.7 406.7 L1011.6 408.7 L1011.8 410.7 L1011.9 412.7 L1012.2 414.7 L1012.4 416.7 L1012.3 418.8 L1012.7 420.8 L1012.3 422.8 L1012.5 424.8 L1012.8 426.8 L1013.0 428.8 L1013.0 430.8 L1013.0 428.8 L1013.4 426.8 L1013.6 424.8 L1013.5 422.7 L1013.7 420.7 L1014.1 418.7 L1014.2 416.7 L1014.5 414.7 L1014.9 412.7 L1015.1 410.7 L1015.7 408.7 L1015.8 406.7 L1016.5 404.5 L1016.9 402.2 L1017.5 400.0 L1017.6 397.9 L1017.7 395.8 L1017.8 393.7 L1018.1 391.7 L1018.1 389.6 L1018.3 387.5 L1018.0 385.4 L1018.3 383.3 L1018.4 381.3 L1018.5 379.2 L1018.3 377.1 L1018.7 375.0 L1019.0 372.9 L1019.2 370.8 L1019.3 368.7 L1019.7 366.7 L1020.2 364.3 L1020.5 361.8 L1021.0 359.4 L1021.3 357.0 L1021.3 359.2 L1021.5 361.4 L1021.5 363.6 L1022.1 365.7 L1022.1 367.9 L1022.3 370.1 L1022.2 372.3 L1022.5 374.5 L1022.5 376.7 L1022.6 374.3 L1022.8 372.0 L1023.1 369.7 L1023.4 367.3 L1023.7 365.0 L1023.9 367.1 L1024.1 369.3 L1024.5 371.4 L1024.4 373.6 L1024.7 375.7 L1025.0 377.8 L1025.0 380.0 L1025.3 377.8 L1025.8 375.5 L1026.3 373.3 L1026.5 375.4 L1026.7 377.5 L1026.6 379.6 L1026.8 381.7 L1026.6 383.8 L1026.6 385.8 L1027.0 387.9 L1027.0 390.0 L1027.3 392.0 L1027.2 394.0 L1027.7 396.0 L1027.7 398.0 L1028.0 400.0 L1028.1 402.2 L1028.4 404.4 L1028.4 406.7 L1028.9 408.9 L1028.9 411.1 L1029.2 413.3 L1029.3 415.3 L1029.5 417.3 L1029.7 419.3 L1030.1 421.3 L1030.3 423.3 L1030.6 421.0 L1031.0 418.7 L1031.1 416.3 L1031.3 414.0 L1031.7 411.7 L1032.0 413.7 L1032.1 415.7 L1032.2 417.8 L1032.0 419.8 L1032.4 421.8 L1032.5 423.9 L1032.3 425.9 L1032.6 428.0 L1032.8 430.0 L1033.5 432.5 L1034.2 435.0 L1034.7 437.5 L1034.7 435.3 L1034.8 433.1 L1035.3 431.0 L1035.2 428.7 L1035.6 426.6 L1035.4 424.4 L1035.4 422.2 L1035.8 420.0 L1036.3 417.7 L1036.3 415.4 L1036.8 413.1 L1037.0 410.8 L1037.1 413.1 L1037.5 415.3 L1037.4 417.6 L1037.8 419.9 L1037.7 422.2 L1038.1 424.4 L1038.3 426.7 L1038.5 429.0 L1038.8 431.4 L1039.4 433.7 L1039.6 436.0 L1040.0 438.3 L1040.2 436.3 L1040.3 434.3 L1040.0 432.2 L1040.5 430.2 L1040.6 428.2 L1040.4 426.1 L1040.4 424.1 L1040.5 422.0 L1040.8 420.0 L1041.1 417.6 L1041.3 415.2 L1041.8 412.8 L1042.0 410.3 L1042.3 412.5 L1042.2 414.7 L1042.6 416.8 L1042.9 419.0 L1043.2 421.2 L1043.3 423.3 L1043.6 425.7 L1043.8 428.0 L1044.0 430.3 L1044.3 432.7 L1044.7 435.0 L1044.8 432.8 L1044.9 430.5 L1045.3 428.3 L1045.5 426.1 L1045.7 423.9 L1045.8 421.7 L1047.5 423.3 L1047.5 425.5 L1047.6 427.6 L1047.8 429.8 L1047.8 431.9 L1048.3 434.0 L1048.0 436.2 L1048.3 438.3 L1049.1 440.8 L1050.0 443.3 L1050.3 441.1 L1050.8 438.9 L1051.3 436.7 L1051.5 438.7 L1051.9 440.7 L1051.9 442.7 L1052.3 444.7 L1052.5 446.7 L1052.9 444.4 L1053.3 442.2 L1053.7 440.0 L1054.4 437.5 L1055.0 435.0 L1055.3 437.3 L1055.4 439.7 L1055.7 442.0 L1056.0 444.3 L1056.3 446.7 L1056.1 448.8 L1056.2 450.8 L1056.3 452.9 L1056.5 455.0 L1056.8 457.1 L1056.7 459.2 L1056.5 461.3 L1056.7 463.3 L1057.1 465.5 L1057.1 467.8 L1057.4 470.0 L1057.6 472.2 L1057.6 474.5 L1058.0 476.7 L1057.9 478.7 L1058.1 480.8 L1058.4 482.8 L1058.5 484.9 L1058.3 487.0 L1058.5 489.0 L1058.8 491.1 L1059.2 493.1 L1058.9 495.2 L1059.5 497.3 L1059.3 499.3 L1059.3 497.2 L1059.7 495.0 L1059.7 492.8 L1060.1 490.7 L1060.3 488.5 L1060.2 486.3 L1060.7 484.2 L1060.7 482.0 L1061.2 484.7 L1062.0 487.3 L1062.0 489.3 L1061.9 491.3 L1062.1 493.3 L1062.3 495.3 L1062.2 497.3 L1062.2 499.3 L1062.4 501.3 L1062.8 503.3 L1062.7 505.3 L1062.6 507.3 L1062.9 509.3 L1063.0 511.3 L1062.9 513.3 L1063.1 511.1 L1063.2 508.9 L1063.5 506.8 L1063.6 504.6 L1064.1 502.4 L1064.1 500.2 L1064.4 498.0 L1064.3 500.1 L1064.9 502.1 L1064.8 504.2 L1064.9 506.3 L1065.3 508.4 L1065.2 510.4 L1065.4 512.5 L1065.5 514.6 L1065.7 516.7 L1065.8 518.7 L1065.6 520.7 L1065.4 522.7 L1065.4 524.7 L1065.3 526.7 L1065.4 524.3 L1065.7 522.0 L1066.1 519.7 L1066.0 517.3 L1066.3 515.0 L1066.5 517.3 L1066.7 519.5 L1066.9 521.8 L1067.2 524.0 L1067.4 526.3 L1067.2 528.6 L1067.5 530.8 L1067.6 528.7 L1067.7 526.6 L1068.0 524.4 L1067.9 522.3 L1068.1 520.1 L1068.7 518.0 L1068.8 515.9 L1068.7 513.7 L1068.9 511.6 L1068.9 509.5 L1069.3 507.3 L1069.5 509.3 L1069.4 511.3 L1069.4 513.3 L1069.5 515.3 L1069.4 517.3 L1069.4 519.3 L1069.7 521.3 L1070.0 523.3 L1070.0 525.3 L1069.8 527.3 L1070.1 529.3 L1069.7 531.3 L1070.0 533.3 L1070.4 535.5 L1070.6 537.8 L1070.5 540.0 L1070.9 542.2 L1071.1 544.4 L1071.3 546.7 L1071.5 544.5 L1071.4 542.4 L1071.6 540.3 L1071.7 538.2 L1072.1 536.1 L1072.2 533.9 L1072.3 531.8 L1072.1 529.7 L1072.4 527.6 L1072.8 525.5 L1072.7 523.3 L1073.0 525.8 L1073.3 528.3 L1073.5 530.8 L1073.5 528.6 L1073.6 526.4 L1073.0 524.2 L1073.3 522.0 L1073.1 519.8 L1073.0 517.5 L1072.9 515.3 L1073.1 513.2 L1072.9 511.1 L1073.1 509.0 L1073.1 507.0 L1073.3 504.9 L1073.4 502.8 L1073.3 500.7 L1073.4 498.5 L1073.5 496.4 L1073.8 494.3 L1073.9 492.1 L1074.0 490.0 L1074.3 487.7 L1074.6 485.3 L1074.9 483.0 L1075.1 480.7 L1075.3 482.7 L1075.2 484.7 L1075.3 486.7 L1075.6 488.7 L1075.5 490.7 L1075.9 492.7 L1075.7 494.7 L1076.0 496.7 L1076.2 494.7 L1076.6 492.7 L1076.7 490.7 L1076.9 488.7 L1076.9 486.7 L1077.1 484.7 L1077.3 482.7 L1078.7 484.7 L1078.7 486.7 L1078.7 488.8 L1078.9 490.9 L1078.7 493.0 L1079.2 495.0 L1079.1 497.1 L1079.4 499.2 L1079.4 501.3 L1079.3 503.3 L1079.6 505.5 L1079.8 507.6 L1079.7 509.8 L1079.7 511.9 L1080.0 514.1 L1079.9 516.2 L1080.1 518.4 L1080.2 520.5 L1080.4 522.7 L1080.2 520.5 L1080.4 518.4 L1080.3 516.2 L1080.5 514.1 L1080.9 511.9 L1080.6 509.8 L1080.9 507.6 L1080.8 505.5 L1080.9 503.3 L1081.0 501.3 L1081.2 499.3 L1081.2 497.3 L1081.3 495.3 L1081.3 493.3 L1081.0 491.3 L1081.3 489.3 L1081.2 487.3 L1081.0 485.3 L1081.0 483.3 L1081.2 481.3 L1081.4 479.3 L1081.0 477.3 L1081.4 475.3 L1081.3 473.3 L1081.3 471.3 L1081.2 469.3 L1081.2 467.3 L1081.3 465.3 L1081.3 463.3 L1081.5 461.3 L1081.3 459.3 L1081.5 457.2 L1081.6 455.2 L1081.2 453.2 L1081.2 451.1 L1081.7 449.1 L1081.3 447.1 L1081.7 445.0 L1081.5 443.0 L1081.4 441.0 L1081.3 438.9 L1081.6 436.9 L1081.7 434.9 L1081.4 432.8 L1081.4 430.8 L1081.6 428.8 L1081.9 426.7 L1081.8 424.7 L1081.7 422.7 L1081.9 424.7 L1081.9 426.7 L1082.0 428.7 L1081.9 430.7 L1082.2 432.7 L1082.3 434.7 L1082.3 436.7 L1082.3 438.7 L1082.6 440.7 L1082.5 442.7 L1082.5 444.7 L1082.7 446.7 L1083.0 448.7 L1082.9 450.7 L1082.9 452.7 L1083.1 454.7 L1083.1 456.7 L1083.2 458.7 L1083.1 460.8 L1083.2 462.9 L1083.4 465.0 L1083.0 467.0 L1083.5 469.1 L1083.1 471.2 L1083.5 473.3 L1083.3 475.3 L1083.5 473.2 L1083.7 471.0 L1083.8 468.8 L1084.1 466.7 L1084.4 464.5 L1084.2 462.3 L1084.3 460.1 L1084.7 458.0 L1085.7 455.3 L1086.0 457.5 L1086.0 459.6 L1086.3 461.7 L1086.4 463.9 L1086.7 466.0 L1087.6 468.7 L1087.9 470.8 L1088.1 472.9 L1088.2 475.1 L1088.4 477.2 L1088.7 479.3 L1089.0 477.1 L1088.9 474.9 L1089.1 472.7 L1089.5 470.5 L1089.7 468.2 L1089.7 466.0 L1090.2 468.7 L1090.7 471.3 L1091.0 469.2 L1090.9 467.1 L1091.3 464.9 L1091.4 462.8 L1091.6 460.7 L1092.7 463.3 L1092.9 461.2 L1092.8 459.0 L1092.9 456.8 L1093.1 454.7 L1093.5 452.5 L1093.6 450.3 L1093.8 448.2 L1093.7 446.0 L1095.1 444.7 L1095.6 446.7 L1096.0 448.7 L1095.9 446.6 L1096.3 444.5 L1096.2 442.4 L1096.5 440.3 L1096.5 438.2 L1096.5 436.1 L1096.7 434.0 L1097.2 436.0 L1097.6 438.0 L1098.0 440.0 L1098.2 437.9 L1098.1 435.8 L1098.4 433.8 L1098.5 431.7 L1098.4 429.6 L1098.7 427.5 L1098.3 425.4 L1098.7 423.3 L1098.7 421.1 L1098.9 418.9 L1098.8 416.7 L1099.3 414.5 L1099.1 412.2 L1099.3 410.0 L1099.5 407.8 L1099.4 405.7 L1099.5 403.5 L1099.6 401.4 L1099.6 399.2 L1099.7 397.1 L1100.0 394.9 L1100.1 392.8 L1099.9 390.6 L1100.4 388.5 L1100.0 386.3 L1100.3 384.2 L1102.0 386.7 L1102.5 388.9 L1102.9 391.1 L1103.3 393.3 L1103.6 395.5 L1103.8 397.8 L1103.8 400.0 L1104.4 402.2 L1104.4 404.4 L1104.7 406.7 L1104.8 408.9 L1105.2 411.1 L1105.3 413.3 L1105.5 415.6 L1105.5 417.8 L1105.8 420.0 L1106.0 422.1 L1106.4 424.2 L1106.8 426.2 L1107.0 428.3 L1107.2 426.1 L1107.6 423.9 L1107.6 421.7 L1107.8 419.4 L1108.2 417.2 L1108.3 415.0 L1108.3 412.9 L1108.7 410.8 L1108.9 408.8 L1108.8 406.7 L1109.1 404.6 L1109.5 402.5 L1109.4 400.4 L1109.7 398.3 L1110.0 396.0 L1110.2 393.7 L1110.6 391.5 L1110.8 389.2 L1111.2 391.5 L1111.5 393.7 L1111.6 396.1 L1112.0 398.3 L1112.1 400.5 L1112.1 402.7 L1112.6 404.9 L1112.7 407.1 L1112.9 409.3 L1112.8 411.5 L1113.2 413.6 L1113.3 415.8 L1113.5 413.7 L1113.4 411.5 L1113.7 409.4 L1113.7 407.2 L1114.1 405.1 L1113.9 402.9 L1114.4 400.8 L1114.3 398.6 L1114.2 396.5 L1114.5 394.3 L1114.8 392.2 L1114.7 390.0 L1115.0 387.9 L1115.3 385.8 L1115.6 383.8 L1115.8 381.7 L1115.9 383.8 L1116.3 385.9 L1116.2 388.1 L1116.4 390.2 L1116.6 392.4 L1116.9 394.5 L1117.0 396.7 L1117.1 398.7 L1117.4 400.7 L1117.7 402.7 L1117.6 404.7 L1118.0 406.7 L1118.3 404.6 L1118.4 402.5 L1118.6 400.4 L1118.7 398.3 L1118.7 396.2 L1119.1 394.2 L1119.2 392.1 L1119.2 390.0 L1119.3 387.9 L1119.3 385.8 L1119.4 383.8 L1119.2 381.7 L1119.7 379.6 L1119.7 377.5 L1119.7 375.4 L1119.7 373.3 L1119.7 371.2 L1120.0 369.2 L1119.7 367.1 L1119.9 365.0 L1120.0 362.9 L1120.2 360.8 L1120.2 358.7 L1120.3 356.7 L1120.5 354.5 L1120.8 352.4 L1120.7 350.2 L1120.7 348.1 L1120.8 345.9 L1121.3 343.8 L1121.3 341.7 L1121.5 343.8 L1121.6 345.9 L1121.9 348.0 L1122.0 350.1 L1122.1 352.3 L1121.8 354.4 L1122.3 356.5 L1122.3 358.6 L1122.3 360.8 L1122.4 362.9 L1122.5 365.0 L1122.8 367.3 L1122.9 369.7 L1123.1 372.0 L1123.2 374.4 L1123.7 376.7 L1124.0 378.7 L1123.9 380.7 L1124.1 382.7 L1124.0 384.7 L1124.2 386.7 L1124.3 388.7 L1124.0 390.7 L1124.3 392.7 L1124.1 394.7 L1124.3 396.7 L1123.9 398.9 L1123.7 401.1 L1123.7 403.4 L1123.2 405.6 L1122.8 407.8 L1122.7 410.0 L1122.7 412.2 L1122.8 414.4 L1123.0 416.7 L1123.0 418.9 L1123.2 421.1 L1123.3 423.3 L1123.5 425.4 L1123.4 427.4 L1123.5 429.5 L1123.7 431.5 L1123.5 433.6 L1123.5 435.6 L1123.6 437.7 L1124.0 439.7 L1123.8 441.8 L1123.7 443.8 L1124.1 445.9 L1123.9 447.9 L1124.0 450.0 L1124.0 452.1 L1124.1 454.1 L1124.2 456.2 L1124.5 458.2 L1124.1 460.3 L1124.5 462.3 L1124.3 464.4 L1124.4 466.4 L1124.3 468.5 L1124.7 470.5 L1124.3 472.6 L1124.5 474.6 L1124.7 476.7 L1124.6 478.8 L1125.0 481.0 L1124.8 483.2 L1125.1 485.3 L1125.0 487.5 L1125.1 489.7 L1125.3 491.8 L1125.3 494.0 L1126.7 495.3 L1127.0 493.2 L1126.7 491.1 L1126.8 489.0 L1127.0 486.9 L1126.8 484.8 L1127.2 482.7 L1127.0 480.6 L1127.3 478.4 L1127.0 476.3 L1127.0 474.2 L1127.3 472.1 L1127.3 470.0 L1127.4 468.0 L1127.7 466.0 L1127.7 464.0 L1128.1 462.0 L1128.3 460.0 L1128.4 458.0 L1128.5 460.0 L1128.9 462.0 L1129.0 464.0 L1129.0 466.0 L1129.3 468.0 L1129.3 470.0 L1129.3 472.0 L1129.5 474.0 L1129.4 476.0 L1129.5 478.0 L1129.7 480.0 L1129.7 482.0 L1130.0 484.0 L1130.2 486.0 L1130.4 488.0 L1130.3 490.0 L1130.2 492.0 L1130.3 494.1 L1130.4 496.1 L1130.6 498.1 L1130.7 500.1 L1130.5 502.2 L1130.9 504.2 L1131.1 506.2 L1130.7 508.2 L1131.1 510.3 L1130.9 512.4 L1130.9 514.5 L1130.8 516.6 L1131.2 518.7 L1131.3 520.9 L1131.2 523.0 L1131.2 525.1 L1131.2 527.2 L1131.0 529.4 L1131.3 531.5 L1131.0 533.6 L1131.4 535.7 L1131.4 537.8 L1131.1 540.0 L1131.4 542.1 L1131.3 544.2" fill="none" stroke="url(#gr)" stroke-width="3.55" stroke-linejoin="round" stroke-linecap="round"/>
<line x1="61" y1="510.5" x2="1188" y2="510.5" stroke="#000" stroke-width="1.2" shape-rendering="crispEdges"/>
<g>
<circle class="r" cx="141.2" cy="543.0" r="2.7"/>
<text class="lab r" x="141.2" y="558.0" textLength="56.5" lengthAdjust="spacingAndGlyphs" stroke="#fff" stroke-width="2.2" stroke-opacity="0.8" paint-order="stroke">23-Jul-69</text>
<text class="lab r" x="141.2" y="573.0" textLength="40.7" lengthAdjust="spacingAndGlyphs" stroke="#fff" stroke-width="2.2" stroke-opacity="0.8" paint-order="stroke">-0.45%</text>
<circle class="r" cx="218.5" cy="646.5" r="2.7"/>
<text class="lab r" x="218.0" y="661.0" textLength="56.7" lengthAdjust="spacingAndGlyphs" stroke="#fff" stroke-width="2.2" stroke-opacity="0.8" paint-order="stroke">10-Sep-73</text>
<text class="lab r" x="218.0" y="676.0" textLength="38.0" lengthAdjust="spacingAndGlyphs" stroke="#fff" stroke-width="2.2" stroke-opacity="0.8" paint-order="stroke">-1.87%</text>
<circle class="r" cx="338.8" cy="728.0" r="2.7"/>
<text class="lab r" x="310.2" y="741.7" textLength="61.0" lengthAdjust="spacingAndGlyphs" stroke="#fff" stroke-width="2.2" stroke-opacity="0.8" paint-order="stroke">12-Mar-80</text>
<text class="lab r" x="310.2" y="756.7" textLength="40.2" lengthAdjust="spacingAndGlyphs" stroke="#fff" stroke-width="2.2" stroke-opacity="0.8" paint-order="stroke">-2.98%</text>
<circle class="r" cx="352.8" cy="782.3" r="2.7"/>
<text class="lab r" x="352.6" y="797.0" textLength="59.7" lengthAdjust="spacingAndGlyphs" stroke="#fff" stroke-width="2.2" stroke-opacity="0.8" paint-order="stroke">10-Dec-80</text>
<text class="lab r" x="352.6" y="812.0" textLength="38.3" lengthAdjust="spacingAndGlyphs" stroke="#fff" stroke-width="2.2" stroke-opacity="0.8" paint-order="stroke">-3.73%</text>
<circle class="r" cx="510.5" cy="536.3" r="2.7"/>
<text class="lab r" x="505.0" y="551.7" textLength="61.6" lengthAdjust="spacingAndGlyphs" stroke="#fff" stroke-width="2.2" stroke-opacity="0.8" paint-order="stroke">09-Jun-89</text>
<text class="lab r" x="505.0" y="566.7" textLength="40.3" lengthAdjust="spacingAndGlyphs" stroke="#fff" stroke-width="2.2" stroke-opacity="0.8" paint-order="stroke">-0.35%</text>
<circle class="r" cx="682.8" cy="516.3" r="2.7"/>
<text class="lab r" x="661.2" y="530.0" textLength="59.9" lengthAdjust="spacingAndGlyphs" stroke="#fff" stroke-width="2.2" stroke-opacity="0.8" paint-order="stroke">22-Sep-98</text>
<text class="lab r" x="661.2" y="545.0" textLength="42.0" lengthAdjust="spacingAndGlyphs" stroke="#fff" stroke-width="2.2" stroke-opacity="0.8" paint-order="stroke">-0.09%</text>
<circle class="r" cx="725.0" cy="582.5" r="2.7"/>
<text class="lab r" x="719.6" y="601.7" textLength="58.7" lengthAdjust="spacingAndGlyphs" stroke="#fff" stroke-width="2.2" stroke-opacity="0.8" paint-order="stroke">02-Jan-01</text>
<text class="lab r" x="719.6" y="616.7" textLength="40.8" lengthAdjust="spacingAndGlyphs" stroke="#fff" stroke-width="2.2" stroke-opacity="0.8" paint-order="stroke">-0.99%</text>
<circle class="r" cx="840.5" cy="553.8" r="2.7"/>
<text class="lab r" x="829.5" y="574.5" textLength="62.5" lengthAdjust="spacingAndGlyphs" stroke="#fff" stroke-width="2.2" stroke-opacity="0.8" paint-order="stroke">07-Mar-07</text>
<text class="lab r" x="829.5" y="589.5" textLength="41.7" lengthAdjust="spacingAndGlyphs" stroke="#fff" stroke-width="2.2" stroke-opacity="0.8" paint-order="stroke">-0.60%</text>
<circle class="r" cx="1071.3" cy="546.7" r="2.7"/>
<text class="lab r" x="1068.0" y="564.2" textLength="60.0" lengthAdjust="spacingAndGlyphs" stroke="#fff" stroke-width="2.2" stroke-opacity="0.8" paint-order="stroke">28-Aug-19</text>
<text class="lab r" x="1068.0" y="579.2" textLength="40.5" lengthAdjust="spacingAndGlyphs" stroke="#fff" stroke-width="2.2" stroke-opacity="0.8" paint-order="stroke">-0.50%</text>
<circle class="r" cx="1131.3" cy="544.2" r="1.8"/>
<text class="lab r" x="1156.2" y="561.3" textLength="59.5" lengthAdjust="spacingAndGlyphs" stroke="#fff" stroke-width="2.2" stroke-opacity="0.8" paint-order="stroke">16-Nov-22</text>
<text class="lab r" x="1156.2" y="576.3" textLength="39.7" lengthAdjust="spacingAndGlyphs" stroke="#fff" stroke-width="2.2" stroke-opacity="0.8" paint-order="stroke">-0.47%</text>
<circle class="g" cx="1121.3" cy="341.7" r="2.7"/>
<text class="lab g" x="1121.3" y="317.5" textLength="63.5" lengthAdjust="spacingAndGlyphs" stroke="#fff" stroke-width="2.2" stroke-opacity="0.8" paint-order="stroke">06-May-22</text>
<text class="lab g" x="1121.3" y="332.5" textLength="33.8" lengthAdjust="spacingAndGlyphs" stroke="#fff" stroke-width="2.2" stroke-opacity="0.8" paint-order="stroke">2.31%</text>
</g>
<g class="ax">
<text x="52" y="807.3" text-anchor="end" textLength="25.5" lengthAdjust="spacingAndGlyphs">-4%</text>
<text x="52" y="734.3" text-anchor="end" textLength="25.5" lengthAdjust="spacingAndGlyphs">-3%</text>
<text x="52" y="661.3" text-anchor="end" textLength="25.5" lengthAdjust="spacingAndGlyphs">-2%</text>
<text x="52" y="588.4" text-anchor="end" textLength="25.5" lengthAdjust="spacingAndGlyphs">-1%</text>
<text x="52" y="515.4" text-anchor="end" textLength="20.5" lengthAdjust="spacingAndGlyphs">0%</text>
<text x="52" y="442.4" text-anchor="end" textLength="20.5" lengthAdjust="spacingAndGlyphs">1%</text>
<text x="52" y="369.5" text-anchor="end" textLength="20.5" lengthAdjust="spacingAndGlyphs">2%</text>
<text x="52" y="296.5" text-anchor="end" textLength="20.5" lengthAdjust="spacingAndGlyphs">3%</text>
<text x="52" y="223.5" text-anchor="end" textLength="20.5" lengthAdjust="spacingAndGlyphs">4%</text>
<text x="52" y="150.5" text-anchor="end" textLength="20.5" lengthAdjust="spacingAndGlyphs">5%</text>
<text x="149.3" y="841" text-anchor="middle" textLength="39.5" lengthAdjust="spacingAndGlyphs">1970</text>
<text x="242.1" y="841" text-anchor="middle" textLength="39.5" lengthAdjust="spacingAndGlyphs">1975</text>
<text x="334.9" y="841" text-anchor="middle" textLength="39.5" lengthAdjust="spacingAndGlyphs">1980</text>
<text x="427.7" y="841" text-anchor="middle" textLength="39.5" lengthAdjust="spacingAndGlyphs">1985</text>
<text x="520.5" y="841" text-anchor="middle" textLength="39.5" lengthAdjust="spacingAndGlyphs">1990</text>
<text x="613.3" y="841" text-anchor="middle" textLength="39.5" lengthAdjust="spacingAndGlyphs">1995</text>
<text x="706.1" y="841" text-anchor="middle" textLength="39.5" lengthAdjust="spacingAndGlyphs">2000</text>
<text x="798.9" y="841" text-anchor="middle" textLength="39.5" lengthAdjust="spacingAndGlyphs">2005</text>
<text x="891.7" y="841" text-anchor="middle" textLength="39.5" lengthAdjust="spacingAndGlyphs">2010</text>
<text x="984.5" y="841" text-anchor="middle" textLength="39.5" lengthAdjust="spacingAndGlyphs">2015</text>
<text x="1077.3" y="841" text-anchor="middle" textLength="39.5" lengthAdjust="spacingAndGlyphs">2020</text>
<text x="1186" y="841" text-anchor="end" textLength="42" lengthAdjust="spacingAndGlyphs">2025</text>
</g>
<text x="600.5" y="43" text-anchor="middle" font-size="28px" font-weight="bold" fill="#333" stroke="#333" stroke-width="0.45" textLength="551" lengthAdjust="spacingAndGlyphs">Yield Curve Inversions Lead Recessions</text>
<text x="600" y="65.5" text-anchor="middle" font-size="16.8px" fill="#333" textLength="280" lengthAdjust="spacingAndGlyphs">10-Year less 3-Month Yield Curve</text>
<text x="15" y="876" font-size="12.3px" fill="#444" textLength="239.5" lengthAdjust="spacingAndGlyphs">Data Source: Federal Reserve and Bloomberg</text>
<text x="1185" y="868" text-anchor="end" font-size="12.3px" fill="#444" textLength="276" lengthAdjust="spacingAndGlyphs">© 2022 Bianco Research, L.L.C. All Rights Reserved</text>
<text x="1185" y="881" text-anchor="end" font-size="12.3px" fill="#4a90b8" text-decoration="underline" textLength="184" lengthAdjust="spacingAndGlyphs">https://www.biancoresearch.com/</text>
</svg></body></html>
